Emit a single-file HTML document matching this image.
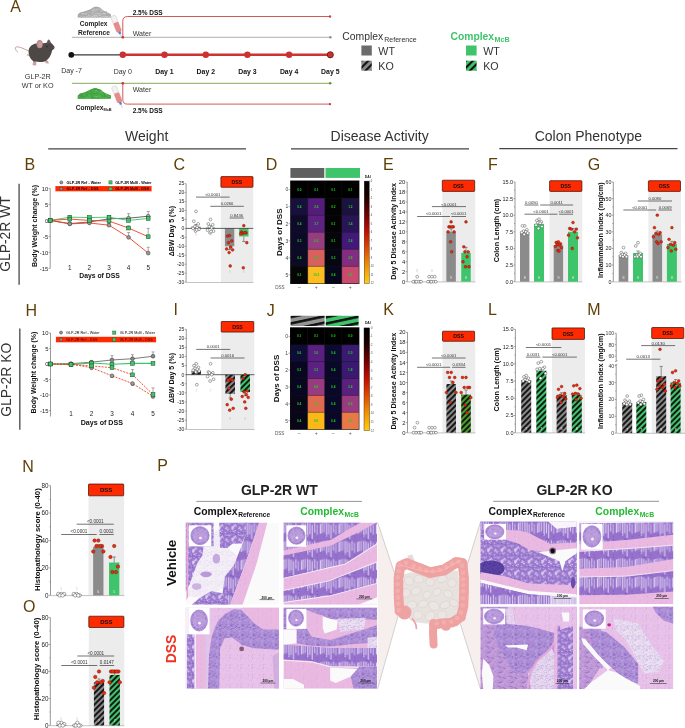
<!DOCTYPE html>
<html><head><meta charset="utf-8"><title>Figure</title>
<style>html,body{margin:0;padding:0;background:#fff;width:685px;height:728px;overflow:hidden;}svg text{font-family:"Liberation Sans", sans-serif;}</style></head>
<body>
<svg width="685" height="728" viewBox="0 0 685 728" style="display:block;will-change:transform;font-family:'Liberation Sans', sans-serif">

<defs>
<pattern id="hg" patternUnits="userSpaceOnUse" width="4.0" height="4.0" patternTransform="rotate(45)">
<rect width="4.0" height="4.0" fill="#8a8a8a"/><rect width="1.9" height="4.0" fill="#111"/></pattern>
<pattern id="hgr" patternUnits="userSpaceOnUse" width="4.0" height="4.0" patternTransform="rotate(45)">
<rect width="4.0" height="4.0" fill="#3ec46a"/><rect width="1.9" height="4.0" fill="#111"/></pattern>
<pattern id="hgo" patternUnits="userSpaceOnUse" width="4.0" height="4.0" patternTransform="rotate(45)">
<rect width="4.0" height="4.0" fill="#4a9e2a"/><rect width="1.9" height="4.0" fill="#111"/></pattern>
<pattern id="hgs" patternUnits="userSpaceOnUse" width="5" height="5" patternTransform="translate(361.4,45) rotate(45)">
<rect width="5" height="5" fill="#8a8a8a"/><rect width="2.1" height="5" fill="#111"/></pattern>
<pattern id="hgrs" patternUnits="userSpaceOnUse" width="5" height="5" patternTransform="translate(466,45) rotate(45)">
<rect width="5" height="5" fill="#3ec46a"/><rect width="2.1" height="5" fill="#111"/></pattern>
<pattern id="hgt" patternUnits="userSpaceOnUse" width="6.2" height="6.2" patternTransform="translate(290,316) rotate(78)">
<rect width="6.2" height="6.2" fill="#959595"/><rect width="2.5" height="6.2" fill="#111"/></pattern>
<pattern id="hgrt" patternUnits="userSpaceOnUse" width="6.2" height="6.2" patternTransform="translate(326,316) rotate(78)">
<rect width="6.2" height="6.2" fill="#3ec46a"/><rect width="2.5" height="6.2" fill="#111"/></pattern>
<linearGradient id="cbar" x1="0" y1="0" x2="0" y2="1">
<stop offset="0" stop-color="#000"/><stop offset="0.15" stop-color="#1a0000"/><stop offset="0.35" stop-color="#800000"/>
<stop offset="0.5" stop-color="#c41000"/><stop offset="0.65" stop-color="#e04800"/><stop offset="0.82" stop-color="#f09000"/>
<stop offset="1" stop-color="#ffcc10"/></linearGradient>
<pattern id="pc" patternUnits="userSpaceOnUse" width="14" height="14"><rect width="14" height="14" fill="#9a78cf"/><circle cx="4.53" cy="2.11" r="0.89" fill="#e0d0f2"/><circle cx="1.01" cy="7.50" r="0.76" fill="#e0d0f2"/><circle cx="0.81" cy="7.10" r="0.62" fill="#e0d0f2"/><circle cx="6.07" cy="0.98" r="0.64" fill="#e0d0f2"/><circle cx="5.94" cy="11.58" r="0.66" fill="#e0d0f2"/><circle cx="3.13" cy="8.78" r="1.03" fill="#e0d0f2"/><circle cx="8.08" cy="5.55" r="1.04" fill="#e0d0f2"/><circle cx="0.65" cy="12.02" r="0.73" fill="#e0d0f2"/><circle cx="14.65" cy="12.02" r="0.73" fill="#e0d0f2"/><circle cx="2.02" cy="1.65" r="0.74" fill="#e0d0f2"/><circle cx="11.43" cy="2.53" r="0.86" fill="#e0d0f2"/><circle cx="8.94" cy="5.21" r="0.85" fill="#e0d0f2"/><circle cx="0.88" cy="0.83" r="0.69" fill="#e0d0f2"/><circle cx="9.53" cy="5.99" r="0.74" fill="#e0d0f2"/><circle cx="8.20" cy="6.34" r="0.73" fill="#e0d0f2"/><circle cx="11.12" cy="9.79" r="0.71" fill="#e0d0f2"/><circle cx="8.04" cy="7.35" r="0.99" fill="#e0d0f2"/><circle cx="10.21" cy="4.03" r="1.04" fill="#e0d0f2"/><circle cx="1.65" cy="5.85" r="0.94" fill="#e0d0f2"/><circle cx="2.13" cy="6.85" r="0.62" fill="#e0d0f2"/><circle cx="9.36" cy="10.70" r="0.86" fill="#e0d0f2"/><circle cx="12.26" cy="4.39" r="0.91" fill="#e0d0f2"/><circle cx="8.32" cy="8.12" r="0.81" fill="#e0d0f2"/><circle cx="11.76" cy="13.23" r="0.44" fill="#6440aa"/><circle cx="9.30" cy="0.85" r="0.51" fill="#6440aa"/><circle cx="9.06" cy="13.90" r="0.55" fill="#6440aa"/><circle cx="9.06" cy="-0.10" r="0.55" fill="#6440aa"/><circle cx="3.98" cy="5.40" r="0.50" fill="#6440aa"/><circle cx="0.32" cy="6.46" r="0.35" fill="#6440aa"/><circle cx="14.32" cy="6.46" r="0.35" fill="#6440aa"/><circle cx="1.64" cy="0.83" r="0.53" fill="#6440aa"/><circle cx="1.81" cy="3.47" r="0.42" fill="#6440aa"/><circle cx="12.20" cy="1.13" r="0.43" fill="#6440aa"/><circle cx="7.69" cy="12.37" r="0.55" fill="#6440aa"/><circle cx="12.10" cy="3.90" r="0.42" fill="#6440aa"/><circle cx="5.02" cy="12.38" r="0.59" fill="#6440aa"/><circle cx="2.11" cy="2.47" r="0.37" fill="#6440aa"/><circle cx="3.27" cy="6.79" r="0.42" fill="#f2eaf9"/><circle cx="3.68" cy="0.06" r="0.38" fill="#f2eaf9"/><circle cx="3.68" cy="14.06" r="0.38" fill="#f2eaf9"/><circle cx="5.17" cy="7.93" r="0.49" fill="#f2eaf9"/><circle cx="9.67" cy="7.22" r="0.42" fill="#f2eaf9"/><circle cx="9.47" cy="0.76" r="0.48" fill="#f2eaf9"/><circle cx="10.92" cy="12.24" r="0.46" fill="#f2eaf9"/><circle cx="5.49" cy="5.59" r="0.32" fill="#f2eaf9"/><circle cx="8.88" cy="0.87" r="0.31" fill="#f2eaf9"/></pattern><pattern id="pcl" patternUnits="userSpaceOnUse" width="20" height="22"><rect width="20" height="22" fill="#9672cc"/><rect x="0.60" y="0.93" width="0.97" height="12.07" rx="0.4" fill="#e6daf4"/><rect x="2.86" y="0.30" width="0.85" height="12.00" rx="0.4" fill="#e6daf4"/><rect x="5.50" y="0.38" width="1.11" height="16.77" rx="0.4" fill="#e6daf4"/><rect x="7.88" y="1.06" width="0.98" height="13.29" rx="0.4" fill="#e6daf4"/><rect x="10.23" y="2.85" width="1.03" height="17.55" rx="0.4" fill="#e6daf4"/><rect x="13.01" y="0.56" width="0.97" height="11.67" rx="0.4" fill="#e6daf4"/><rect x="15.52" y="2.79" width="0.81" height="12.07" rx="0.4" fill="#e6daf4"/><rect x="18.86" y="1.88" width="1.07" height="11.97" rx="0.4" fill="#e6daf4"/><circle cx="10.56" cy="21.53" r="0.56" fill="#6440aa"/><circle cx="13.92" cy="5.74" r="0.41" fill="#6440aa"/><circle cx="3.34" cy="16.98" r="0.46" fill="#6440aa"/><circle cx="15.58" cy="7.25" r="0.37" fill="#6440aa"/><circle cx="16.23" cy="21.67" r="0.56" fill="#6440aa"/><circle cx="16.12" cy="18.00" r="0.52" fill="#6440aa"/><circle cx="4.53" cy="11.39" r="0.41" fill="#6440aa"/><circle cx="0.58" cy="0.61" r="0.38" fill="#6440aa"/><circle cx="5.18" cy="15.24" r="0.59" fill="#6440aa"/><circle cx="8.94" cy="20.61" r="0.60" fill="#6440aa"/></pattern><pattern id="pclh" patternUnits="userSpaceOnUse" width="20" height="16"><rect width="20" height="16" fill="#9672cc"/><rect x="0.60" y="2.31" width="0.91" height="9.75" rx="0.4" fill="#e6daf4"/><rect x="3.07" y="0.71" width="1.11" height="8.98" rx="0.4" fill="#e6daf4"/><rect x="6.35" y="2.06" width="1.13" height="10.30" rx="0.4" fill="#e6daf4"/><rect x="9.51" y="0.48" width="1.25" height="11.17" rx="0.4" fill="#e6daf4"/><rect x="12.65" y="1.88" width="0.89" height="10.29" rx="0.4" fill="#e6daf4"/><rect x="15.80" y="1.00" width="1.29" height="11.84" rx="0.4" fill="#e6daf4"/><rect x="18.47" y="1.14" width="1.16" height="12.54" rx="0.4" fill="#e6daf4"/><circle cx="2.54" cy="2.42" r="0.57" fill="#6440aa"/><circle cx="16.13" cy="2.34" r="0.55" fill="#6440aa"/><circle cx="19.61" cy="10.52" r="0.41" fill="#6440aa"/><circle cx="10.97" cy="2.10" r="0.30" fill="#6440aa"/><circle cx="19.42" cy="10.39" r="0.46" fill="#6440aa"/><circle cx="18.67" cy="6.94" r="0.56" fill="#6440aa"/><circle cx="16.52" cy="3.38" r="0.38" fill="#6440aa"/><circle cx="5.86" cy="3.85" r="0.48" fill="#6440aa"/><circle cx="5.19" cy="6.70" r="0.34" fill="#6440aa"/><circle cx="18.20" cy="5.66" r="0.44" fill="#6440aa"/></pattern><pattern id="pm" patternUnits="userSpaceOnUse" width="14" height="14"><rect width="14" height="14" fill="#eab9e2"/><circle cx="8.17" cy="12.66" r="0.28" fill="#a674c6"/><circle cx="12.85" cy="7.02" r="0.31" fill="#a674c6"/><circle cx="7.33" cy="0.26" r="0.29" fill="#a674c6"/><circle cx="7.33" cy="14.26" r="0.29" fill="#a674c6"/><circle cx="2.56" cy="0.06" r="0.36" fill="#a674c6"/><circle cx="2.56" cy="14.06" r="0.36" fill="#a674c6"/><circle cx="2.41" cy="6.63" r="0.35" fill="#a674c6"/><circle cx="7.79" cy="4.56" r="0.30" fill="#a674c6"/><circle cx="7.78" cy="10.98" r="0.22" fill="#a674c6"/><circle cx="7.84" cy="3.48" r="0.26" fill="#a674c6"/><circle cx="10.81" cy="7.11" r="0.47" fill="#efc6e8"/><circle cx="10.64" cy="12.77" r="0.43" fill="#efc6e8"/><circle cx="8.58" cy="7.08" r="0.45" fill="#efc6e8"/><circle cx="9.70" cy="6.33" r="0.46" fill="#efc6e8"/><circle cx="6.69" cy="13.18" r="0.51" fill="#efc6e8"/><circle cx="12.27" cy="13.19" r="0.38" fill="#efc6e8"/></pattern><pattern id="pi" patternUnits="userSpaceOnUse" width="12" height="12"><rect width="12" height="12" fill="#ae90d8"/><circle cx="6.71" cy="11.32" r="0.55" fill="#6a46ae"/><circle cx="1.65" cy="1.46" r="0.43" fill="#6a46ae"/><circle cx="0.87" cy="2.89" r="0.32" fill="#6a46ae"/><circle cx="8.03" cy="9.41" r="0.57" fill="#6a46ae"/><circle cx="1.85" cy="8.59" r="0.50" fill="#6a46ae"/><circle cx="1.72" cy="10.59" r="0.59" fill="#6a46ae"/><circle cx="2.64" cy="11.43" r="0.42" fill="#6a46ae"/><circle cx="5.85" cy="11.88" r="0.55" fill="#6a46ae"/><circle cx="5.85" cy="-0.12" r="0.55" fill="#6a46ae"/><circle cx="1.94" cy="5.18" r="0.45" fill="#6a46ae"/><circle cx="4.07" cy="2.35" r="0.40" fill="#6a46ae"/><circle cx="8.67" cy="0.23" r="0.47" fill="#6a46ae"/><circle cx="8.67" cy="12.23" r="0.47" fill="#6a46ae"/><circle cx="5.29" cy="0.22" r="0.40" fill="#6a46ae"/><circle cx="5.29" cy="12.22" r="0.40" fill="#6a46ae"/><circle cx="7.49" cy="6.15" r="0.32" fill="#6a46ae"/><circle cx="11.82" cy="9.46" r="0.59" fill="#6a46ae"/><circle cx="-0.18" cy="9.46" r="0.59" fill="#6a46ae"/><circle cx="1.26" cy="3.19" r="0.31" fill="#6a46ae"/><circle cx="9.35" cy="3.25" r="0.34" fill="#6a46ae"/><circle cx="5.07" cy="10.94" r="0.55" fill="#6a46ae"/><circle cx="3.10" cy="1.79" r="0.58" fill="#6a46ae"/><circle cx="6.85" cy="8.41" r="0.33" fill="#6a46ae"/><circle cx="0.69" cy="8.26" r="0.43" fill="#6a46ae"/><circle cx="0.87" cy="11.26" r="0.49" fill="#6a46ae"/><circle cx="9.62" cy="1.00" r="0.56" fill="#6a46ae"/><circle cx="0.80" cy="10.35" r="0.44" fill="#6a46ae"/><circle cx="4.07" cy="6.64" r="0.58" fill="#6a46ae"/><circle cx="3.21" cy="1.55" r="0.46" fill="#6a46ae"/><circle cx="2.86" cy="1.31" r="0.35" fill="#6a46ae"/><circle cx="0.60" cy="2.42" r="0.39" fill="#6a46ae"/><circle cx="3.66" cy="9.11" r="0.39" fill="#6a46ae"/><circle cx="6.00" cy="2.13" r="0.40" fill="#6a46ae"/><circle cx="0.22" cy="3.01" r="0.30" fill="#6a46ae"/><circle cx="12.22" cy="3.01" r="0.30" fill="#6a46ae"/><circle cx="8.80" cy="6.61" r="0.35" fill="#e4d6f2"/><circle cx="5.70" cy="11.22" r="0.33" fill="#e4d6f2"/><circle cx="9.83" cy="5.19" r="0.42" fill="#e4d6f2"/><circle cx="10.02" cy="4.72" r="0.43" fill="#e4d6f2"/><circle cx="8.25" cy="11.79" r="0.39" fill="#e4d6f2"/><circle cx="8.25" cy="-0.21" r="0.39" fill="#e4d6f2"/><circle cx="9.99" cy="8.48" r="0.46" fill="#e4d6f2"/><circle cx="4.86" cy="4.17" r="0.31" fill="#e4d6f2"/><circle cx="1.56" cy="0.85" r="0.49" fill="#e4d6f2"/><circle cx="3.07" cy="1.96" r="0.32" fill="#e4d6f2"/><circle cx="10.10" cy="10.45" r="0.47" fill="#e4d6f2"/><circle cx="3.38" cy="2.91" r="0.37" fill="#e4d6f2"/><circle cx="5.51" cy="1.89" r="0.41" fill="#e4d6f2"/><circle cx="3.16" cy="11.54" r="0.59" fill="#d8a0d8"/><circle cx="3.16" cy="-0.46" r="0.59" fill="#d8a0d8"/><circle cx="6.56" cy="2.93" r="0.59" fill="#d8a0d8"/><circle cx="3.71" cy="4.28" r="0.30" fill="#d8a0d8"/><circle cx="4.58" cy="5.70" r="0.45" fill="#d8a0d8"/><circle cx="2.41" cy="6.06" r="0.30" fill="#d8a0d8"/><circle cx="3.17" cy="1.08" r="0.42" fill="#d8a0d8"/><circle cx="0.50" cy="0.27" r="0.39" fill="#d8a0d8"/><circle cx="0.50" cy="12.27" r="0.39" fill="#d8a0d8"/><circle cx="2.79" cy="7.03" r="0.46" fill="#d8a0d8"/></pattern><pattern id="pim" patternUnits="userSpaceOnUse" width="12" height="12"><rect width="12" height="12" fill="#c09ad8"/><circle cx="9.01" cy="7.89" r="0.51" fill="#7a52b6"/><circle cx="10.55" cy="4.67" r="0.40" fill="#7a52b6"/><circle cx="11.82" cy="1.79" r="0.52" fill="#7a52b6"/><circle cx="-0.18" cy="1.79" r="0.52" fill="#7a52b6"/><circle cx="7.72" cy="0.53" r="0.55" fill="#7a52b6"/><circle cx="7.72" cy="12.53" r="0.55" fill="#7a52b6"/><circle cx="10.70" cy="7.53" r="0.52" fill="#7a52b6"/><circle cx="9.75" cy="1.67" r="0.46" fill="#7a52b6"/><circle cx="6.05" cy="10.02" r="0.54" fill="#7a52b6"/><circle cx="9.92" cy="7.01" r="0.57" fill="#7a52b6"/><circle cx="8.19" cy="8.32" r="0.37" fill="#7a52b6"/><circle cx="0.37" cy="1.60" r="0.41" fill="#7a52b6"/><circle cx="12.37" cy="1.60" r="0.41" fill="#7a52b6"/><circle cx="1.26" cy="10.03" r="0.47" fill="#7a52b6"/><circle cx="7.53" cy="7.51" r="0.50" fill="#7a52b6"/><circle cx="5.87" cy="0.04" r="0.54" fill="#7a52b6"/><circle cx="5.87" cy="12.04" r="0.54" fill="#7a52b6"/><circle cx="8.98" cy="6.04" r="0.46" fill="#7a52b6"/><circle cx="7.91" cy="0.79" r="0.52" fill="#7a52b6"/><circle cx="3.03" cy="0.89" r="0.38" fill="#7a52b6"/><circle cx="8.75" cy="2.46" r="0.52" fill="#7a52b6"/><circle cx="11.71" cy="5.93" r="0.41" fill="#7a52b6"/><circle cx="-0.29" cy="5.93" r="0.41" fill="#7a52b6"/><circle cx="5.75" cy="8.20" r="0.53" fill="#7a52b6"/><circle cx="7.40" cy="7.71" r="0.32" fill="#7a52b6"/><circle cx="1.77" cy="3.05" r="0.52" fill="#7a52b6"/><circle cx="3.65" cy="6.81" r="0.30" fill="#7a52b6"/><circle cx="0.73" cy="3.23" r="0.50" fill="#7a52b6"/><circle cx="8.31" cy="8.11" r="0.39" fill="#7a52b6"/><circle cx="6.20" cy="5.58" r="0.44" fill="#7a52b6"/><circle cx="1.42" cy="10.72" r="0.36" fill="#7a52b6"/><circle cx="11.74" cy="11.24" r="0.31" fill="#e0a8dc"/><circle cx="-0.26" cy="11.24" r="0.31" fill="#e0a8dc"/><circle cx="5.51" cy="9.84" r="0.59" fill="#e0a8dc"/><circle cx="5.39" cy="3.22" r="0.36" fill="#e0a8dc"/><circle cx="11.35" cy="2.53" r="0.47" fill="#e0a8dc"/><circle cx="1.70" cy="6.29" r="0.59" fill="#e0a8dc"/><circle cx="1.59" cy="9.84" r="0.45" fill="#e0a8dc"/><circle cx="10.64" cy="8.44" r="0.37" fill="#e0a8dc"/><circle cx="10.77" cy="5.83" r="0.31" fill="#e0a8dc"/><circle cx="0.04" cy="5.90" r="0.44" fill="#e0a8dc"/><circle cx="12.04" cy="5.90" r="0.44" fill="#e0a8dc"/><circle cx="3.62" cy="1.69" r="0.40" fill="#e0a8dc"/><circle cx="3.79" cy="10.08" r="0.30" fill="#eee0f4"/><circle cx="9.01" cy="10.07" r="0.32" fill="#eee0f4"/><circle cx="11.12" cy="8.56" r="0.48" fill="#eee0f4"/><circle cx="3.48" cy="4.47" r="0.38" fill="#eee0f4"/><circle cx="11.99" cy="7.07" r="0.37" fill="#eee0f4"/><circle cx="-0.01" cy="7.07" r="0.37" fill="#eee0f4"/><circle cx="5.14" cy="3.30" r="0.31" fill="#eee0f4"/></pattern><pattern id="pp" patternUnits="userSpaceOnUse" width="12" height="12"><rect width="12" height="12" fill="#e9c2e9"/><circle cx="1.22" cy="10.02" r="0.27" fill="#9e70c4"/><circle cx="11.23" cy="2.99" r="0.27" fill="#9e70c4"/><circle cx="6.13" cy="2.28" r="0.29" fill="#9e70c4"/><circle cx="11.47" cy="10.61" r="0.40" fill="#9e70c4"/><circle cx="7.57" cy="10.96" r="0.44" fill="#9e70c4"/><circle cx="6.59" cy="8.63" r="0.21" fill="#9e70c4"/><circle cx="8.79" cy="5.41" r="0.39" fill="#9e70c4"/><circle cx="7.73" cy="3.43" r="0.21" fill="#9e70c4"/><circle cx="11.12" cy="1.53" r="0.32" fill="#9e70c4"/><circle cx="4.12" cy="3.57" r="0.38" fill="#9e70c4"/><circle cx="11.72" cy="3.12" r="0.36" fill="#9e70c4"/><circle cx="-0.28" cy="3.12" r="0.36" fill="#9e70c4"/><circle cx="3.61" cy="6.69" r="0.30" fill="#9e70c4"/><circle cx="2.01" cy="1.94" r="0.25" fill="#9e70c4"/><circle cx="10.87" cy="5.96" r="0.26" fill="#9e70c4"/><circle cx="10.88" cy="11.96" r="0.31" fill="#9e70c4"/><circle cx="10.88" cy="-0.04" r="0.31" fill="#9e70c4"/><circle cx="1.68" cy="2.31" r="0.22" fill="#9e70c4"/><circle cx="4.10" cy="1.09" r="0.37" fill="#eed0ee"/><circle cx="3.10" cy="6.84" r="0.57" fill="#eed0ee"/><circle cx="9.00" cy="4.95" r="0.42" fill="#eed0ee"/><circle cx="6.29" cy="4.52" r="0.40" fill="#eed0ee"/><circle cx="0.74" cy="3.33" r="0.59" fill="#eed0ee"/><circle cx="1.51" cy="6.04" r="0.49" fill="#eed0ee"/><circle cx="10.35" cy="2.59" r="0.38" fill="#eed0ee"/><circle cx="2.98" cy="4.80" r="0.43" fill="#eed0ee"/></pattern><pattern id="pl" patternUnits="userSpaceOnUse" width="12" height="12"><rect width="12" height="12" fill="#ebdff2"/><circle cx="11.45" cy="10.18" r="0.47" fill="#9c7ccc"/><circle cx="0.26" cy="0.39" r="0.43" fill="#9c7ccc"/><circle cx="0.26" cy="12.39" r="0.43" fill="#9c7ccc"/><circle cx="12.26" cy="0.39" r="0.43" fill="#9c7ccc"/><circle cx="12.26" cy="12.39" r="0.43" fill="#9c7ccc"/><circle cx="10.75" cy="5.68" r="0.40" fill="#9c7ccc"/><circle cx="0.00" cy="4.70" r="0.48" fill="#9c7ccc"/><circle cx="12.00" cy="4.70" r="0.48" fill="#9c7ccc"/><circle cx="9.91" cy="10.27" r="0.49" fill="#9c7ccc"/><circle cx="2.98" cy="1.31" r="0.29" fill="#9c7ccc"/><circle cx="6.27" cy="8.18" r="0.49" fill="#9c7ccc"/><circle cx="8.66" cy="7.77" r="0.44" fill="#9c7ccc"/><circle cx="5.49" cy="6.62" r="0.26" fill="#9c7ccc"/><circle cx="9.39" cy="2.79" r="0.48" fill="#9c7ccc"/><circle cx="7.75" cy="3.65" r="0.28" fill="#9c7ccc"/><circle cx="3.02" cy="7.64" r="0.42" fill="#9c7ccc"/><circle cx="1.35" cy="0.84" r="0.38" fill="#9c7ccc"/><circle cx="6.99" cy="4.66" r="0.31" fill="#9c7ccc"/><circle cx="7.21" cy="0.13" r="0.33" fill="#9c7ccc"/><circle cx="7.21" cy="12.13" r="0.33" fill="#9c7ccc"/><circle cx="5.53" cy="11.51" r="0.41" fill="#9c7ccc"/><circle cx="10.61" cy="5.70" r="0.31" fill="#9c7ccc"/><circle cx="2.96" cy="11.53" r="0.43" fill="#9c7ccc"/><circle cx="3.69" cy="0.26" r="0.37" fill="#9c7ccc"/><circle cx="3.69" cy="12.26" r="0.37" fill="#9c7ccc"/><circle cx="8.09" cy="5.04" r="0.31" fill="#9c7ccc"/><circle cx="8.01" cy="11.10" r="0.31" fill="#9c7ccc"/><circle cx="0.41" cy="4.06" r="0.36" fill="#9c7ccc"/><circle cx="8.19" cy="2.38" r="0.45" fill="#9c7ccc"/><circle cx="8.87" cy="6.06" r="0.30" fill="#9c7ccc"/><circle cx="11.64" cy="3.74" r="0.46" fill="#9c7ccc"/><circle cx="-0.36" cy="3.74" r="0.46" fill="#9c7ccc"/><circle cx="2.77" cy="2.66" r="0.44" fill="#9c7ccc"/><circle cx="3.54" cy="11.42" r="0.37" fill="#9c7ccc"/><circle cx="2.25" cy="2.68" r="0.35" fill="#9c7ccc"/><circle cx="7.98" cy="11.39" r="0.29" fill="#9c7ccc"/><circle cx="4.72" cy="2.56" r="0.49" fill="#9c7ccc"/><circle cx="1.70" cy="0.62" r="0.32" fill="#c8b0e2"/><circle cx="4.72" cy="10.78" r="0.57" fill="#c8b0e2"/><circle cx="8.79" cy="11.97" r="0.58" fill="#c8b0e2"/><circle cx="8.79" cy="-0.03" r="0.58" fill="#c8b0e2"/><circle cx="3.95" cy="2.23" r="0.58" fill="#c8b0e2"/><circle cx="8.96" cy="0.38" r="0.50" fill="#c8b0e2"/><circle cx="8.96" cy="12.38" r="0.50" fill="#c8b0e2"/><circle cx="4.54" cy="4.49" r="0.40" fill="#c8b0e2"/><circle cx="2.03" cy="0.03" r="0.38" fill="#c8b0e2"/><circle cx="2.03" cy="12.03" r="0.38" fill="#c8b0e2"/><circle cx="4.22" cy="11.47" r="0.34" fill="#c8b0e2"/><circle cx="11.57" cy="2.49" r="0.41" fill="#c8b0e2"/><circle cx="9.86" cy="9.86" r="0.43" fill="#c8b0e2"/></pattern><pattern id="pd" patternUnits="userSpaceOnUse" width="10" height="10"><rect width="10" height="10" fill="#5a42a4"/><circle cx="0.49" cy="4.73" r="0.41" fill="#36207e"/><circle cx="9.20" cy="1.93" r="0.41" fill="#36207e"/><circle cx="8.97" cy="0.30" r="0.42" fill="#36207e"/><circle cx="8.97" cy="10.30" r="0.42" fill="#36207e"/><circle cx="8.12" cy="7.67" r="0.31" fill="#36207e"/><circle cx="0.35" cy="0.63" r="0.58" fill="#36207e"/><circle cx="10.35" cy="0.63" r="0.58" fill="#36207e"/><circle cx="2.57" cy="7.47" r="0.57" fill="#36207e"/><circle cx="3.39" cy="2.72" r="0.59" fill="#36207e"/><circle cx="6.17" cy="2.62" r="0.51" fill="#36207e"/><circle cx="3.16" cy="2.76" r="0.30" fill="#36207e"/><circle cx="7.56" cy="9.16" r="0.49" fill="#36207e"/><circle cx="9.43" cy="0.24" r="0.37" fill="#36207e"/><circle cx="9.43" cy="10.24" r="0.37" fill="#36207e"/><circle cx="4.75" cy="9.57" r="0.59" fill="#36207e"/><circle cx="4.75" cy="-0.43" r="0.59" fill="#36207e"/><circle cx="3.87" cy="2.51" r="0.43" fill="#36207e"/><circle cx="4.93" cy="9.28" r="0.35" fill="#36207e"/><circle cx="8.03" cy="7.38" r="0.55" fill="#36207e"/><circle cx="7.73" cy="6.07" r="0.40" fill="#36207e"/><circle cx="3.20" cy="3.62" r="0.53" fill="#36207e"/><circle cx="0.79" cy="1.97" r="0.53" fill="#36207e"/><circle cx="2.47" cy="0.65" r="0.31" fill="#36207e"/><circle cx="5.53" cy="3.26" r="0.59" fill="#36207e"/><circle cx="8.83" cy="9.88" r="0.35" fill="#7a60bc"/><circle cx="8.83" cy="-0.12" r="0.35" fill="#7a60bc"/><circle cx="0.84" cy="0.96" r="0.40" fill="#7a60bc"/><circle cx="7.10" cy="4.47" r="0.35" fill="#7a60bc"/><circle cx="4.17" cy="6.20" r="0.43" fill="#7a60bc"/><circle cx="7.48" cy="8.47" r="0.43" fill="#7a60bc"/><circle cx="1.21" cy="8.41" r="0.36" fill="#7a60bc"/><circle cx="5.67" cy="3.73" r="0.45" fill="#7a60bc"/><circle cx="1.99" cy="2.47" r="0.35" fill="#7a60bc"/></pattern></defs>
<rect width="685" height="728" fill="#fff"/>
<text x="10.20" y="12.30" font-size="16" fill="#5e3f06" text-anchor="start" >A</text>
<g>
<path d="M29.2,51.2 C25,49.5 19,46 16,47 C14.8,47.6 15.2,50.2 17.6,51.9" fill="none" stroke="#c49a96" stroke-width="0.95" stroke-linecap="round"/>
<path d="M27.2,54.2 L26.6,55.6 L29.2,55.8 L29.6,54.4 Z" fill="#c9a09c"/>
<path d="M33.2,61 L32.6,65.2 L36.2,65.5 L36.4,61.5 Z" fill="#c9a09c"/>
<path d="M45.2,60.6 L45.6,63.2 L49,63.6 L47.6,60.4 Z" fill="#c9a09c"/>
<path d="M28.6,52.5 C28.4,47.2 31.5,44.2 36.5,43.6 C40,43.2 43,43.6 45.5,43 C47.5,41.8 50,41.8 51.8,43.6 C53,44.8 54.3,46.2 54.7,47.4 C54.6,48.6 53.2,49.4 52.2,50.2 C51.5,53.5 50,57.2 47.5,59.6 C46.5,60.6 45.8,61.4 44.8,61.4 C41.5,62.2 38,62.2 35.6,61.6 C34.5,61.8 33.5,61.6 33,61 C30.2,59 28.8,56 28.6,52.5 Z" fill="#4d4846"/>
<path d="M46.8,44 C47,41.5 47.8,39.4 48.6,39.4 C49.6,39.8 50.6,41.4 51,43.2 Z" fill="#5d5654"/>
<ellipse cx="39.7" cy="44.2" rx="3.1" ry="4.1" fill="#b88a88"/>
<ellipse cx="40.0" cy="44.6" rx="1.9" ry="2.8" fill="#c99d9a"/>
<circle cx="46.9" cy="46.6" r="0.65" fill="#111"/>
<circle cx="54.4" cy="47.6" r="0.7" fill="#c99090"/>
</g>
<text x="37.80" y="78.50" font-size="7.2" fill="#333" text-anchor="middle" >GLP-2R</text>
<text x="37.60" y="87.60" font-size="7.2" fill="#333" text-anchor="middle" >WT or KO</text>
<line x1="71.90" y1="37.30" x2="330.40" y2="37.30" stroke="#9a9a9a" stroke-width="0.8" />
<circle cx="330.40" cy="37.30" r="1.2" fill="#8a8a8a" stroke="none" stroke-width="0.5" />
<path d="M122.8,37.3 L122.8,21.2 Q122.8,16.5 127.5,16.5 L330,16.5" fill="none" stroke="#d04545" stroke-width="0.9"/>
<circle cx="330.00" cy="16.50" r="1.2" fill="#d03a3a" stroke="none" stroke-width="0.5" />
<circle cx="122.80" cy="37.30" r="1.4" fill="#d03a3a" stroke="none" stroke-width="0.5" />
<line x1="71.90" y1="83.30" x2="330.20" y2="83.30" stroke="#6e9a3e" stroke-width="0.85" />
<circle cx="330.20" cy="83.30" r="1.2" fill="#5e8a2e" stroke="none" stroke-width="0.5" />
<path d="M122.8,83.3 L122.8,99.5 Q122.8,104.1 127.4,104.1 L330,104.1" fill="none" stroke="#d04545" stroke-width="0.9"/>
<circle cx="330.00" cy="104.10" r="1.2" fill="#d03a3a" stroke="none" stroke-width="0.5" />
<circle cx="122.80" cy="83.30" r="1.4" fill="#d03a3a" stroke="none" stroke-width="0.5" />
<line x1="71.30" y1="54.80" x2="122.80" y2="54.80" stroke="#3a3a3a" stroke-width="1.3" />
<line x1="122.80" y1="54.80" x2="330.30" y2="54.80" stroke="#cc3333" stroke-width="2.6" />
<circle cx="71.30" cy="54.80" r="2.9" fill="#111" stroke="none" stroke-width="0.5" />
<circle cx="122.80" cy="54.80" r="3.2" fill="#cc3030" stroke="none" stroke-width="0.5" />
<circle cx="164.50" cy="54.80" r="3.2" fill="#cc3030" stroke="none" stroke-width="0.5" />
<circle cx="205.80" cy="54.80" r="3.2" fill="#cc3030" stroke="none" stroke-width="0.5" />
<circle cx="247.40" cy="54.80" r="3.2" fill="#cc3030" stroke="none" stroke-width="0.5" />
<circle cx="289.10" cy="54.80" r="3.2" fill="#cc3030" stroke="none" stroke-width="0.5" />
<circle cx="330.30" cy="54.80" r="3.1" fill="#cc3030" stroke="#5a1010" stroke-width="0.8" />
<text x="71.50" y="72.60" font-size="7.0" fill="#333" text-anchor="middle" >Day -7</text>
<text x="122.80" y="73.60" font-size="7.0" fill="#333" text-anchor="middle" >Day 0</text>
<text x="164.50" y="73.60" font-size="6.9" fill="#111" font-weight="bold" text-anchor="middle" >Day 1</text>
<text x="205.80" y="73.60" font-size="6.9" fill="#111" font-weight="bold" text-anchor="middle" >Day 2</text>
<text x="247.40" y="73.60" font-size="6.9" fill="#111" font-weight="bold" text-anchor="middle" >Day 3</text>
<text x="289.10" y="73.60" font-size="6.9" fill="#111" font-weight="bold" text-anchor="middle" >Day 4</text>
<text x="330.30" y="73.60" font-size="6.9" fill="#111" font-weight="bold" text-anchor="middle" >Day 5</text>
<text x="132.70" y="14.90" font-size="6.5" fill="#111" font-weight="bold" text-anchor="start" >2.5% DSS</text>
<text x="132.70" y="36.40" font-size="7.1" fill="#333" text-anchor="start" >Water</text>
<text x="132.70" y="91.50" font-size="7.1" fill="#333" text-anchor="start" >Water</text>
<text x="132.70" y="113.00" font-size="6.5" fill="#111" font-weight="bold" text-anchor="start" >2.5% DSS</text>
<polygon points="77.6,17.5 77.8,14.5 80.0,12.6 84.0,11.6 87.0,10.4 90.0,9.6 93.5,7.2 96.0,6.6 100.0,7.6 102.0,9.6 105.0,11.6 108.0,13.2 110.9,14.2 110.9,17.5" fill="#a8a8a8"/><rect x="79.7" y="16.0" width="3.0" height="1.5" rx="0.35" fill="#bdbdbd" stroke="#a8a8a8" stroke-width="0.25"/><rect x="82.9" y="16.0" width="3.0" height="1.3" rx="0.35" fill="#bdbdbd" stroke="#a8a8a8" stroke-width="0.25"/><rect x="85.9" y="16.0" width="2.4" height="1.4" rx="0.35" fill="#c8c8c8" stroke="#a8a8a8" stroke-width="0.25"/><rect x="88.0" y="16.0" width="2.4" height="1.3" rx="0.35" fill="#c8c8c8" stroke="#a8a8a8" stroke-width="0.25"/><rect x="91.0" y="16.0" width="2.5" height="1.5" rx="0.35" fill="#d0d0d0" stroke="#a8a8a8" stroke-width="0.25"/><rect x="93.5" y="16.0" width="3.0" height="1.3" rx="0.35" fill="#d0d0d0" stroke="#a8a8a8" stroke-width="0.25"/><rect x="96.3" y="16.0" width="2.3" height="1.5" rx="0.35" fill="#c8c8c8" stroke="#a8a8a8" stroke-width="0.25"/><rect x="100.2" y="16.0" width="3.2" height="1.3" rx="0.35" fill="#c8c8c8" stroke="#a8a8a8" stroke-width="0.25"/><rect x="102.4" y="16.0" width="3.2" height="1.4" rx="0.35" fill="#c8c8c8" stroke="#a8a8a8" stroke-width="0.25"/><rect x="105.1" y="16.0" width="3.2" height="1.3" rx="0.35" fill="#d0d0d0" stroke="#a8a8a8" stroke-width="0.25"/><rect x="108.2" y="16.0" width="2.6" height="1.3" rx="0.35" fill="#c8c8c8" stroke="#a8a8a8" stroke-width="0.25"/><rect x="78.6" y="14.5" width="2.8" height="1.4" rx="0.35" fill="#b2b2b2" stroke="#a8a8a8" stroke-width="0.25"/><rect x="80.3" y="14.5" width="2.6" height="1.3" rx="0.35" fill="#b2b2b2" stroke="#a8a8a8" stroke-width="0.25"/><rect x="83.4" y="14.5" width="2.7" height="1.3" rx="0.35" fill="#b2b2b2" stroke="#a8a8a8" stroke-width="0.25"/><rect x="87.6" y="14.5" width="2.3" height="1.5" rx="0.35" fill="#d0d0d0" stroke="#a8a8a8" stroke-width="0.25"/><rect x="88.9" y="14.5" width="3.0" height="1.3" rx="0.35" fill="#bdbdbd" stroke="#a8a8a8" stroke-width="0.25"/><rect x="92.5" y="14.5" width="2.9" height="1.4" rx="0.35" fill="#c8c8c8" stroke="#a8a8a8" stroke-width="0.25"/><rect x="94.9" y="14.5" width="2.5" height="1.5" rx="0.35" fill="#d0d0d0" stroke="#a8a8a8" stroke-width="0.25"/><rect x="98.2" y="14.5" width="2.6" height="1.4" rx="0.35" fill="#d0d0d0" stroke="#a8a8a8" stroke-width="0.25"/><rect x="100.7" y="14.5" width="3.0" height="1.5" rx="0.35" fill="#b2b2b2" stroke="#a8a8a8" stroke-width="0.25"/><rect x="103.5" y="14.5" width="3.2" height="1.2" rx="0.35" fill="#b2b2b2" stroke="#a8a8a8" stroke-width="0.25"/><rect x="107.1" y="14.5" width="2.6" height="1.3" rx="0.35" fill="#b2b2b2" stroke="#a8a8a8" stroke-width="0.25"/><rect x="81.7" y="13.0" width="2.4" height="1.5" rx="0.35" fill="#d0d0d0" stroke="#a8a8a8" stroke-width="0.25"/><rect x="84.8" y="13.0" width="2.3" height="1.6" rx="0.35" fill="#d0d0d0" stroke="#a8a8a8" stroke-width="0.25"/><rect x="87.5" y="13.0" width="3.0" height="1.3" rx="0.35" fill="#b2b2b2" stroke="#a8a8a8" stroke-width="0.25"/><rect x="91.0" y="13.0" width="2.7" height="1.2" rx="0.35" fill="#bdbdbd" stroke="#a8a8a8" stroke-width="0.25"/><rect x="94.5" y="13.0" width="2.6" height="1.3" rx="0.35" fill="#c8c8c8" stroke="#a8a8a8" stroke-width="0.25"/><rect x="97.1" y="13.0" width="3.0" height="1.2" rx="0.35" fill="#d0d0d0" stroke="#a8a8a8" stroke-width="0.25"/><rect x="99.6" y="13.0" width="2.4" height="1.4" rx="0.35" fill="#c8c8c8" stroke="#a8a8a8" stroke-width="0.25"/><rect x="102.6" y="13.0" width="3.2" height="1.5" rx="0.35" fill="#d0d0d0" stroke="#a8a8a8" stroke-width="0.25"/><rect x="106.3" y="13.0" width="2.9" height="1.3" rx="0.35" fill="#b2b2b2" stroke="#a8a8a8" stroke-width="0.25"/><rect x="87.0" y="11.5" width="2.7" height="1.3" rx="0.35" fill="#bdbdbd" stroke="#a8a8a8" stroke-width="0.25"/><rect x="89.7" y="11.5" width="2.8" height="1.4" rx="0.35" fill="#b2b2b2" stroke="#a8a8a8" stroke-width="0.25"/><rect x="91.9" y="11.5" width="3.0" height="1.3" rx="0.35" fill="#bdbdbd" stroke="#a8a8a8" stroke-width="0.25"/><rect x="95.9" y="11.5" width="2.6" height="1.5" rx="0.35" fill="#b2b2b2" stroke="#a8a8a8" stroke-width="0.25"/><rect x="98.9" y="11.5" width="2.5" height="1.6" rx="0.35" fill="#b2b2b2" stroke="#a8a8a8" stroke-width="0.25"/><rect x="102.0" y="11.5" width="2.6" height="1.3" rx="0.35" fill="#bdbdbd" stroke="#a8a8a8" stroke-width="0.25"/><rect x="104.2" y="11.5" width="3.0" height="1.3" rx="0.35" fill="#b2b2b2" stroke="#a8a8a8" stroke-width="0.25"/><rect x="91.6" y="10.0" width="2.6" height="1.5" rx="0.35" fill="#d0d0d0" stroke="#a8a8a8" stroke-width="0.25"/><rect x="94.8" y="10.0" width="3.2" height="1.4" rx="0.35" fill="#c8c8c8" stroke="#a8a8a8" stroke-width="0.25"/><rect x="96.4" y="10.0" width="2.6" height="1.5" rx="0.35" fill="#b2b2b2" stroke="#a8a8a8" stroke-width="0.25"/><rect x="100.1" y="10.0" width="2.9" height="1.5" rx="0.35" fill="#c8c8c8" stroke="#a8a8a8" stroke-width="0.25"/><rect x="92.7" y="8.5" width="2.9" height="1.3" rx="0.35" fill="#c8c8c8" stroke="#a8a8a8" stroke-width="0.25"/><rect x="95.7" y="8.5" width="2.3" height="1.4" rx="0.35" fill="#c8c8c8" stroke="#a8a8a8" stroke-width="0.25"/><rect x="97.9" y="8.5" width="3.1" height="1.2" rx="0.35" fill="#c8c8c8" stroke="#a8a8a8" stroke-width="0.25"/>
<polygon points="77.6,98.8 77.8,95.5 80.0,93.6 84.0,92.4 87.0,91.2 90.0,89.8 93.5,88.2 96.0,88.0 100.0,89.4 102.0,91.0 105.0,93.0 108.0,94.2 110.9,95.2 110.9,98.8" fill="#3f9f3f"/><rect x="79.0" y="97.3" width="2.4" height="1.2" rx="0.35" fill="#52b452" stroke="#3f9f3f" stroke-width="0.25"/><rect x="82.2" y="97.3" width="2.6" height="1.6" rx="0.35" fill="#5cbc5c" stroke="#3f9f3f" stroke-width="0.25"/><rect x="85.0" y="97.3" width="3.1" height="1.4" rx="0.35" fill="#6cc46c" stroke="#3f9f3f" stroke-width="0.25"/><rect x="88.1" y="97.3" width="2.5" height="1.3" rx="0.35" fill="#6cc46c" stroke="#3f9f3f" stroke-width="0.25"/><rect x="90.9" y="97.3" width="3.1" height="1.3" rx="0.35" fill="#48a848" stroke="#3f9f3f" stroke-width="0.25"/><rect x="94.4" y="97.3" width="2.6" height="1.3" rx="0.35" fill="#52b452" stroke="#3f9f3f" stroke-width="0.25"/><rect x="96.6" y="97.3" width="3.2" height="1.4" rx="0.35" fill="#48a848" stroke="#3f9f3f" stroke-width="0.25"/><rect x="99.2" y="97.3" width="2.3" height="1.5" rx="0.35" fill="#6cc46c" stroke="#3f9f3f" stroke-width="0.25"/><rect x="102.3" y="97.3" width="2.3" height="1.3" rx="0.35" fill="#6cc46c" stroke="#3f9f3f" stroke-width="0.25"/><rect x="104.8" y="97.3" width="2.8" height="1.3" rx="0.35" fill="#6cc46c" stroke="#3f9f3f" stroke-width="0.25"/><rect x="78.1" y="95.8" width="2.9" height="1.4" rx="0.35" fill="#52b452" stroke="#3f9f3f" stroke-width="0.25"/><rect x="80.2" y="95.8" width="2.4" height="1.3" rx="0.35" fill="#48a848" stroke="#3f9f3f" stroke-width="0.25"/><rect x="84.1" y="95.8" width="3.0" height="1.2" rx="0.35" fill="#48a848" stroke="#3f9f3f" stroke-width="0.25"/><rect x="86.6" y="95.8" width="3.0" height="1.4" rx="0.35" fill="#52b452" stroke="#3f9f3f" stroke-width="0.25"/><rect x="88.9" y="95.8" width="2.8" height="1.5" rx="0.35" fill="#52b452" stroke="#3f9f3f" stroke-width="0.25"/><rect x="93.2" y="95.8" width="2.8" height="1.2" rx="0.35" fill="#6cc46c" stroke="#3f9f3f" stroke-width="0.25"/><rect x="95.7" y="95.8" width="2.9" height="1.6" rx="0.35" fill="#6cc46c" stroke="#3f9f3f" stroke-width="0.25"/><rect x="99.0" y="95.8" width="3.1" height="1.4" rx="0.35" fill="#5cbc5c" stroke="#3f9f3f" stroke-width="0.25"/><rect x="101.9" y="95.8" width="2.7" height="1.5" rx="0.35" fill="#48a848" stroke="#3f9f3f" stroke-width="0.25"/><rect x="104.7" y="95.8" width="2.9" height="1.4" rx="0.35" fill="#48a848" stroke="#3f9f3f" stroke-width="0.25"/><rect x="107.3" y="95.8" width="2.7" height="1.3" rx="0.35" fill="#5cbc5c" stroke="#3f9f3f" stroke-width="0.25"/><rect x="82.5" y="94.3" width="3.0" height="1.2" rx="0.35" fill="#5cbc5c" stroke="#3f9f3f" stroke-width="0.25"/><rect x="84.9" y="94.3" width="2.4" height="1.2" rx="0.35" fill="#52b452" stroke="#3f9f3f" stroke-width="0.25"/><rect x="87.9" y="94.3" width="2.7" height="1.2" rx="0.35" fill="#6cc46c" stroke="#3f9f3f" stroke-width="0.25"/><rect x="91.4" y="94.3" width="2.3" height="1.5" rx="0.35" fill="#5cbc5c" stroke="#3f9f3f" stroke-width="0.25"/><rect x="94.2" y="94.3" width="3.0" height="1.2" rx="0.35" fill="#5cbc5c" stroke="#3f9f3f" stroke-width="0.25"/><rect x="97.7" y="94.3" width="2.9" height="1.4" rx="0.35" fill="#5cbc5c" stroke="#3f9f3f" stroke-width="0.25"/><rect x="100.0" y="94.3" width="2.7" height="1.3" rx="0.35" fill="#5cbc5c" stroke="#3f9f3f" stroke-width="0.25"/><rect x="102.0" y="94.3" width="2.4" height="1.4" rx="0.35" fill="#52b452" stroke="#3f9f3f" stroke-width="0.25"/><rect x="105.2" y="94.3" width="2.8" height="1.2" rx="0.35" fill="#6cc46c" stroke="#3f9f3f" stroke-width="0.25"/><rect x="83.9" y="92.8" width="3.1" height="1.3" rx="0.35" fill="#52b452" stroke="#3f9f3f" stroke-width="0.25"/><rect x="86.2" y="92.8" width="2.6" height="1.4" rx="0.35" fill="#48a848" stroke="#3f9f3f" stroke-width="0.25"/><rect x="90.4" y="92.8" width="2.8" height="1.4" rx="0.35" fill="#48a848" stroke="#3f9f3f" stroke-width="0.25"/><rect x="91.9" y="92.8" width="2.5" height="1.5" rx="0.35" fill="#48a848" stroke="#3f9f3f" stroke-width="0.25"/><rect x="95.5" y="92.8" width="2.4" height="1.3" rx="0.35" fill="#48a848" stroke="#3f9f3f" stroke-width="0.25"/><rect x="98.3" y="92.8" width="2.7" height="1.3" rx="0.35" fill="#52b452" stroke="#3f9f3f" stroke-width="0.25"/><rect x="101.5" y="92.8" width="2.4" height="1.5" rx="0.35" fill="#52b452" stroke="#3f9f3f" stroke-width="0.25"/><rect x="88.2" y="91.3" width="2.8" height="1.4" rx="0.35" fill="#5cbc5c" stroke="#3f9f3f" stroke-width="0.25"/><rect x="91.8" y="91.3" width="2.7" height="1.5" rx="0.35" fill="#52b452" stroke="#3f9f3f" stroke-width="0.25"/><rect x="93.3" y="91.3" width="3.1" height="1.4" rx="0.35" fill="#5cbc5c" stroke="#3f9f3f" stroke-width="0.25"/><rect x="96.3" y="91.3" width="2.9" height="1.3" rx="0.35" fill="#5cbc5c" stroke="#3f9f3f" stroke-width="0.25"/><rect x="99.5" y="91.3" width="3.1" height="1.5" rx="0.35" fill="#6cc46c" stroke="#3f9f3f" stroke-width="0.25"/><rect x="92.1" y="89.8" width="2.4" height="1.2" rx="0.35" fill="#5cbc5c" stroke="#3f9f3f" stroke-width="0.25"/><rect x="95.0" y="89.8" width="2.3" height="1.6" rx="0.35" fill="#6cc46c" stroke="#3f9f3f" stroke-width="0.25"/><rect x="98.7" y="89.8" width="2.6" height="1.4" rx="0.35" fill="#48a848" stroke="#3f9f3f" stroke-width="0.25"/>
<text x="93.60" y="26.20" font-size="6.55" fill="#222" font-weight="bold" text-anchor="middle" >Complex</text>
<text x="94.00" y="35.00" font-size="6.6" fill="#222" font-weight="bold" text-anchor="middle" >Reference</text>
<text x="75.80" y="109.70" font-size="6.55" fill="#222" font-weight="bold" text-anchor="start" >Complex</text>
<text x="103.40" y="110.60" font-size="3.9" fill="#222" font-weight="bold" text-anchor="start" >McB</text>
<g transform="translate(116.5,24.8) rotate(-22)">
<rect x="-2.6" y="-9.6" width="5.2" height="17" rx="1.4" fill="#f2f2f2" stroke="#bdbdbd" stroke-width="0.4"/>
<rect x="-2.6" y="-2.5" width="5.2" height="10" rx="1.2" fill="#e88a8a"/>
<rect x="-1.2" y="7.3" width="2.4" height="2.6" fill="#5a7fd0"/>
<line x1="0" y1="9.9" x2="0" y2="13.5" stroke="#999" stroke-width="0.4"/>
</g>
<g transform="translate(117.3,95.4) rotate(-22)">
<rect x="-2.6" y="-9.6" width="5.2" height="17" rx="1.4" fill="#f2f2f2" stroke="#bdbdbd" stroke-width="0.4"/>
<rect x="-2.6" y="-2.5" width="5.2" height="10" rx="1.2" fill="#e88a8a"/>
<rect x="-1.2" y="7.3" width="2.4" height="2.6" fill="#5a7fd0"/>
<line x1="0" y1="9.9" x2="0" y2="13.5" stroke="#999" stroke-width="0.4"/>
</g>
<text x="342.30" y="39.60" font-size="10.4" fill="#333" text-anchor="start" >Complex</text>
<text x="384.30" y="41.60" font-size="7.0" fill="#333" text-anchor="start" >Reference</text>
<rect x="361.40" y="45.50" width="10.40" height="10.00" fill="#6b6b6b" />
<text x="378.30" y="55.20" font-size="10.7" fill="#333" text-anchor="start" >WT</text>
<rect x="361.40" y="60.70" width="10.40" height="10.00" fill="url(#hgs)" />
<text x="378.30" y="70.40" font-size="10.7" fill="#333" text-anchor="start" >KO</text>
<text x="450.50" y="39.60" font-size="10.3" fill="#3ec46a" font-weight="bold" text-anchor="start" >Complex</text>
<text x="494.60" y="41.60" font-size="7.2" fill="#3ec46a" font-weight="bold" text-anchor="start" >McB</text>
<rect x="466.00" y="45.50" width="10.60" height="10.00" fill="#3ec46a" />
<text x="483.20" y="55.20" font-size="10.7" fill="#333" text-anchor="start" >WT</text>
<rect x="466.00" y="60.70" width="10.60" height="10.00" fill="url(#hgrs)" />
<text x="483.20" y="70.40" font-size="10.7" fill="#333" text-anchor="start" >KO</text>
<text x="125.00" y="141.20" font-size="14" fill="#333" text-anchor="start" >Weight</text>
<line x1="48.20" y1="148.80" x2="246.00" y2="148.80" stroke="#444" stroke-width="1.2" />
<text x="330.60" y="140.80" font-size="14" fill="#333" text-anchor="start" >Disease Activity</text>
<line x1="291.00" y1="148.90" x2="469.00" y2="148.90" stroke="#444" stroke-width="1.2" />
<text x="534.70" y="140.80" font-size="14" fill="#333" text-anchor="start" >Colon Phenotype</text>
<line x1="499.30" y1="148.70" x2="677.50" y2="148.70" stroke="#444" stroke-width="1.2" />
<text transform="translate(5.10,234.00) rotate(-90)" x="0" y="0" font-size="13.9" fill="#333" text-anchor="middle" dominant-baseline="central">GLP-2R WT</text>
<line x1="19.10" y1="183.70" x2="19.10" y2="284.70" stroke="#555" stroke-width="1.4" />
<text transform="translate(5.60,379.80) rotate(-90)" x="0" y="0" font-size="13.9" fill="#333" text-anchor="middle" dominant-baseline="central">GLP-2R KO</text>
<line x1="19.80" y1="328.50" x2="19.80" y2="429.80" stroke="#555" stroke-width="1.4" />
<text x="24.60" y="170.20" font-size="16" fill="#5e3f06" text-anchor="start" >B</text>
<text x="173.50" y="170.20" font-size="16" fill="#5e3f06" text-anchor="start" >C</text>
<text x="265.80" y="170.20" font-size="16" fill="#5e3f06" text-anchor="start" >D</text>
<text x="383.00" y="170.20" font-size="16" fill="#5e3f06" text-anchor="start" >E</text>
<text x="488.00" y="169.80" font-size="16" fill="#5e3f06" text-anchor="start" >F</text>
<text x="587.80" y="169.80" font-size="16" fill="#5e3f06" text-anchor="start" >G</text>
<text x="25.40" y="315.60" font-size="16" fill="#5e3f06" text-anchor="start" >H</text>
<text x="173.60" y="315.20" font-size="16" fill="#5e3f06" text-anchor="start" >I</text>
<text x="266.80" y="315.60" font-size="16" fill="#5e3f06" text-anchor="start" >J</text>
<text x="383.20" y="315.40" font-size="16" fill="#5e3f06" text-anchor="start" >K</text>
<text x="488.00" y="315.20" font-size="16" fill="#5e3f06" text-anchor="start" >L</text>
<text x="587.20" y="315.40" font-size="16" fill="#5e3f06" text-anchor="start" >M</text>
<text x="22.20" y="471.60" font-size="16" fill="#5e3f06" text-anchor="start" >N</text>
<text x="23.00" y="611.80" font-size="16" fill="#5e3f06" text-anchor="start" >O</text>
<text x="157.30" y="471.20" font-size="16" fill="#5e3f06" text-anchor="start" >P</text>
<line x1="50.20" y1="188.40" x2="50.20" y2="268.40" stroke="#555" stroke-width="0.6" />
<line x1="48.60" y1="188.40" x2="50.20" y2="188.40" stroke="#555" stroke-width="0.5" />
<text x="48.20" y="190.50" font-size="5.8" fill="#222" text-anchor="end" >10</text>
<line x1="48.60" y1="204.40" x2="50.20" y2="204.40" stroke="#555" stroke-width="0.5" />
<text x="48.20" y="206.50" font-size="5.8" fill="#222" text-anchor="end" >5</text>
<line x1="48.60" y1="220.40" x2="50.20" y2="220.40" stroke="#555" stroke-width="0.5" />
<text x="48.20" y="222.50" font-size="5.8" fill="#222" text-anchor="end" >0</text>
<line x1="48.60" y1="236.40" x2="50.20" y2="236.40" stroke="#555" stroke-width="0.5" />
<text x="48.20" y="238.50" font-size="5.8" fill="#222" text-anchor="end" >-5</text>
<line x1="48.60" y1="252.40" x2="50.20" y2="252.40" stroke="#555" stroke-width="0.5" />
<text x="48.20" y="254.50" font-size="5.8" fill="#222" text-anchor="end" >-10</text>
<line x1="48.60" y1="268.40" x2="50.20" y2="268.40" stroke="#555" stroke-width="0.5" />
<text x="48.20" y="270.50" font-size="5.8" fill="#222" text-anchor="end" >-15</text>
<text x="69.80" y="270.20" font-size="6.4" fill="#222" text-anchor="middle" >1</text>
<text x="89.40" y="270.20" font-size="6.4" fill="#222" text-anchor="middle" >2</text>
<text x="109.00" y="270.20" font-size="6.4" fill="#222" text-anchor="middle" >3</text>
<text x="128.60" y="270.20" font-size="6.4" fill="#222" text-anchor="middle" >4</text>
<text x="148.20" y="270.20" font-size="6.4" fill="#222" text-anchor="middle" >5</text>
<text x="99.50" y="277.80" font-size="6.8" fill="#111" font-weight="bold" text-anchor="middle" >Days of DSS</text>
<text transform="translate(34.40,226.00) rotate(-90)" x="0" y="0" font-size="7.0" fill="#111" font-weight="bold" text-anchor="middle" dominant-baseline="central">Body Weight change (%)</text>
<rect x="55.40" y="186.10" width="96.20" height="5.20" fill="#ff2a00" />
<circle cx="61.30" cy="182.40" r="1.5" fill="#999" stroke="#333" stroke-width="0.5" />
<text x="66.50" y="183.70" font-size="3.75" fill="#000" font-weight="bold" text-anchor="start" >GLP-2R Ref - Water</text>
<rect x="108.90" y="180.80" width="3.20" height="3.20" fill="#3ec46a" stroke="#1b5e2e" stroke-width="0.4"/>
<text x="115.20" y="183.70" font-size="3.75" fill="#000" font-weight="bold" text-anchor="start" >GLP-2R McB - Water</text>
<circle cx="61.30" cy="188.70" r="1.5" fill="#999" stroke="#333" stroke-width="0.5" />
<text x="66.50" y="190.00" font-size="3.75" fill="#300000" font-weight="bold" text-anchor="start" >GLP-2R Ref - DSS</text>
<rect x="108.90" y="187.10" width="3.20" height="3.20" fill="#3ec46a" stroke="#1b5e2e" stroke-width="0.4"/>
<text x="115.20" y="190.00" font-size="3.75" fill="#300000" font-weight="bold" text-anchor="start" >GLP-2R McB - DSS</text>
<line x1="69.80" y1="223.60" x2="69.80" y2="222.32" stroke="#555" stroke-width="0.5" />
<line x1="68.30" y1="222.32" x2="71.30" y2="222.32" stroke="#555" stroke-width="0.5" />
<line x1="89.40" y1="222.00" x2="89.40" y2="220.72" stroke="#555" stroke-width="0.5" />
<line x1="87.90" y1="220.72" x2="90.90" y2="220.72" stroke="#555" stroke-width="0.5" />
<line x1="109.00" y1="218.80" x2="109.00" y2="216.24" stroke="#555" stroke-width="0.5" />
<line x1="107.50" y1="216.24" x2="110.50" y2="216.24" stroke="#555" stroke-width="0.5" />
<line x1="128.60" y1="218.16" x2="128.60" y2="213.68" stroke="#555" stroke-width="0.5" />
<line x1="127.10" y1="213.68" x2="130.10" y2="213.68" stroke="#555" stroke-width="0.5" />
<line x1="148.20" y1="216.24" x2="148.20" y2="211.44" stroke="#555" stroke-width="0.5" />
<line x1="146.70" y1="211.44" x2="149.70" y2="211.44" stroke="#555" stroke-width="0.5" />
<polyline points="50.20,220.40 69.80,223.60 89.40,222.00 109.00,218.80 128.60,218.16 148.20,216.24" fill="none" stroke="#555" stroke-width="0.9" />
<line x1="69.80" y1="217.20" x2="69.80" y2="215.92" stroke="#555" stroke-width="0.5" />
<line x1="68.30" y1="215.92" x2="71.30" y2="215.92" stroke="#555" stroke-width="0.5" />
<line x1="89.40" y1="217.52" x2="89.40" y2="216.24" stroke="#555" stroke-width="0.5" />
<line x1="87.90" y1="216.24" x2="90.90" y2="216.24" stroke="#555" stroke-width="0.5" />
<line x1="109.00" y1="217.20" x2="109.00" y2="215.60" stroke="#555" stroke-width="0.5" />
<line x1="107.50" y1="215.60" x2="110.50" y2="215.60" stroke="#555" stroke-width="0.5" />
<line x1="128.60" y1="220.40" x2="128.60" y2="218.80" stroke="#555" stroke-width="0.5" />
<line x1="127.10" y1="218.80" x2="130.10" y2="218.80" stroke="#555" stroke-width="0.5" />
<line x1="148.20" y1="218.48" x2="148.20" y2="216.56" stroke="#555" stroke-width="0.5" />
<line x1="146.70" y1="216.56" x2="149.70" y2="216.56" stroke="#555" stroke-width="0.5" />
<polyline points="50.20,220.40 69.80,217.20 89.40,217.52 109.00,217.20 128.60,220.40 148.20,218.48" fill="none" stroke="#3ec46a" stroke-width="0.9" />
<line x1="69.80" y1="223.92" x2="69.80" y2="222.64" stroke="#555" stroke-width="0.5" />
<line x1="68.30" y1="222.64" x2="71.30" y2="222.64" stroke="#555" stroke-width="0.5" />
<line x1="89.40" y1="222.96" x2="89.40" y2="221.68" stroke="#555" stroke-width="0.5" />
<line x1="87.90" y1="221.68" x2="90.90" y2="221.68" stroke="#555" stroke-width="0.5" />
<line x1="109.00" y1="225.20" x2="109.00" y2="223.60" stroke="#555" stroke-width="0.5" />
<line x1="107.50" y1="223.60" x2="110.50" y2="223.60" stroke="#555" stroke-width="0.5" />
<line x1="128.60" y1="237.36" x2="128.60" y2="232.56" stroke="#555" stroke-width="0.5" />
<line x1="127.10" y1="232.56" x2="130.10" y2="232.56" stroke="#555" stroke-width="0.5" />
<line x1="148.20" y1="253.04" x2="148.20" y2="247.28" stroke="#555" stroke-width="0.5" />
<line x1="146.70" y1="247.28" x2="149.70" y2="247.28" stroke="#555" stroke-width="0.5" />
<polyline points="50.20,220.40 69.80,223.92 89.40,222.96 109.00,225.20 128.60,237.36 148.20,253.04" fill="none" stroke="#f04020" stroke-width="0.9" />
<line x1="69.80" y1="219.12" x2="69.80" y2="218.16" stroke="#555" stroke-width="0.5" />
<line x1="68.30" y1="218.16" x2="71.30" y2="218.16" stroke="#555" stroke-width="0.5" />
<line x1="89.40" y1="220.40" x2="89.40" y2="219.44" stroke="#555" stroke-width="0.5" />
<line x1="87.90" y1="219.44" x2="90.90" y2="219.44" stroke="#555" stroke-width="0.5" />
<line x1="109.00" y1="221.04" x2="109.00" y2="219.76" stroke="#555" stroke-width="0.5" />
<line x1="107.50" y1="219.76" x2="110.50" y2="219.76" stroke="#555" stroke-width="0.5" />
<line x1="128.60" y1="228.08" x2="128.60" y2="225.84" stroke="#555" stroke-width="0.5" />
<line x1="127.10" y1="225.84" x2="130.10" y2="225.84" stroke="#555" stroke-width="0.5" />
<line x1="148.20" y1="236.72" x2="148.20" y2="228.40" stroke="#555" stroke-width="0.5" />
<line x1="146.70" y1="228.40" x2="149.70" y2="228.40" stroke="#555" stroke-width="0.5" />
<polyline points="50.20,220.40 69.80,219.12 89.40,220.40 109.00,221.04 128.60,228.08 148.20,236.72" fill="none" stroke="#f04020" stroke-width="0.9" />
<circle cx="50.20" cy="220.40" r="1.9" fill="#aaa" stroke="#333" stroke-width="0.5" />
<circle cx="69.80" cy="223.60" r="1.9" fill="#aaa" stroke="#333" stroke-width="0.5" />
<circle cx="89.40" cy="222.00" r="1.9" fill="#aaa" stroke="#333" stroke-width="0.5" />
<circle cx="109.00" cy="218.80" r="1.9" fill="#aaa" stroke="#333" stroke-width="0.5" />
<circle cx="128.60" cy="218.16" r="1.9" fill="#aaa" stroke="#333" stroke-width="0.5" />
<circle cx="148.20" cy="216.24" r="1.9" fill="#aaa" stroke="#333" stroke-width="0.5" />
<rect x="48.30" y="218.50" width="3.80" height="3.80" fill="#3ec46a" stroke="#1b4a26" stroke-width="0.5"/>
<rect x="67.90" y="215.30" width="3.80" height="3.80" fill="#3ec46a" stroke="#1b4a26" stroke-width="0.5"/>
<rect x="87.50" y="215.62" width="3.80" height="3.80" fill="#3ec46a" stroke="#1b4a26" stroke-width="0.5"/>
<rect x="107.10" y="215.30" width="3.80" height="3.80" fill="#3ec46a" stroke="#1b4a26" stroke-width="0.5"/>
<rect x="126.70" y="218.50" width="3.80" height="3.80" fill="#3ec46a" stroke="#1b4a26" stroke-width="0.5"/>
<rect x="146.30" y="216.58" width="3.80" height="3.80" fill="#3ec46a" stroke="#1b4a26" stroke-width="0.5"/>
<circle cx="50.20" cy="220.40" r="1.9" fill="#999" stroke="#333" stroke-width="0.5" />
<circle cx="69.80" cy="223.92" r="1.9" fill="#999" stroke="#333" stroke-width="0.5" />
<circle cx="89.40" cy="222.96" r="1.9" fill="#999" stroke="#333" stroke-width="0.5" />
<circle cx="109.00" cy="225.20" r="1.9" fill="#999" stroke="#333" stroke-width="0.5" />
<circle cx="128.60" cy="237.36" r="1.9" fill="#999" stroke="#333" stroke-width="0.5" />
<circle cx="148.20" cy="253.04" r="1.9" fill="#999" stroke="#333" stroke-width="0.5" />
<rect x="48.30" y="218.50" width="3.80" height="3.80" fill="#3ec46a" stroke="#1b4a26" stroke-width="0.5"/>
<rect x="67.90" y="217.22" width="3.80" height="3.80" fill="#3ec46a" stroke="#1b4a26" stroke-width="0.5"/>
<rect x="87.50" y="218.50" width="3.80" height="3.80" fill="#3ec46a" stroke="#1b4a26" stroke-width="0.5"/>
<rect x="107.10" y="219.14" width="3.80" height="3.80" fill="#3ec46a" stroke="#1b4a26" stroke-width="0.5"/>
<rect x="126.70" y="226.18" width="3.80" height="3.80" fill="#3ec46a" stroke="#1b4a26" stroke-width="0.5"/>
<rect x="146.30" y="234.82" width="3.80" height="3.80" fill="#3ec46a" stroke="#1b4a26" stroke-width="0.5"/>
<line x1="50.50" y1="333.00" x2="50.50" y2="416.50" stroke="#555" stroke-width="0.6" />
<line x1="48.90" y1="333.00" x2="50.50" y2="333.00" stroke="#555" stroke-width="0.5" />
<text x="48.50" y="335.10" font-size="5.8" fill="#222" text-anchor="end" >10</text>
<line x1="48.90" y1="348.50" x2="50.50" y2="348.50" stroke="#555" stroke-width="0.5" />
<text x="48.50" y="350.60" font-size="5.8" fill="#222" text-anchor="end" >5</text>
<line x1="48.90" y1="364.00" x2="50.50" y2="364.00" stroke="#555" stroke-width="0.5" />
<text x="48.50" y="366.10" font-size="5.8" fill="#222" text-anchor="end" >0</text>
<line x1="48.90" y1="379.50" x2="50.50" y2="379.50" stroke="#555" stroke-width="0.5" />
<text x="48.50" y="381.60" font-size="5.8" fill="#222" text-anchor="end" >-5</text>
<line x1="48.90" y1="395.00" x2="50.50" y2="395.00" stroke="#555" stroke-width="0.5" />
<text x="48.50" y="397.10" font-size="5.8" fill="#222" text-anchor="end" >-10</text>
<line x1="48.90" y1="410.50" x2="50.50" y2="410.50" stroke="#555" stroke-width="0.5" />
<text x="48.50" y="412.60" font-size="5.8" fill="#222" text-anchor="end" >-15</text>
<text x="71.00" y="415.80" font-size="6.4" fill="#222" text-anchor="middle" >1</text>
<text x="91.50" y="415.80" font-size="6.4" fill="#222" text-anchor="middle" >2</text>
<text x="112.00" y="415.80" font-size="6.4" fill="#222" text-anchor="middle" >3</text>
<text x="132.50" y="415.80" font-size="6.4" fill="#222" text-anchor="middle" >4</text>
<text x="153.00" y="415.80" font-size="6.4" fill="#222" text-anchor="middle" >5</text>
<text x="101.80" y="425.20" font-size="7.1" fill="#111" font-weight="bold" text-anchor="middle" >Days of DSS</text>
<text transform="translate(33.20,372.60) rotate(-90)" x="0" y="0" font-size="7.0" fill="#111" font-weight="bold" text-anchor="middle" dominant-baseline="central">Body Weight change (%)</text>
<rect x="55.90" y="336.80" width="100.20" height="5.50" fill="#ff2a00" />
<circle cx="61.00" cy="332.60" r="1.5" fill="#999" stroke="#333" stroke-width="0.5" />
<text x="66.00" y="333.90" font-size="3.75" fill="#000" text-anchor="start" >GLP-2R Ref - Water</text>
<rect x="112.70" y="331.00" width="3.20" height="3.20" fill="#3ec46a" stroke="#1b5e2e" stroke-width="0.4"/>
<text x="119.70" y="333.90" font-size="3.75" fill="#000" text-anchor="start" >GLP-2R McB - Water</text>
<circle cx="61.00" cy="339.55" r="1.5" fill="#999" stroke="#333" stroke-width="0.5" />
<text x="66.00" y="340.85" font-size="3.75" fill="#300000" text-anchor="start" >GLP-2R Ref - DSS</text>
<rect x="112.70" y="337.95" width="3.20" height="3.20" fill="#3ec46a" stroke="#1b5e2e" stroke-width="0.4"/>
<text x="119.70" y="340.85" font-size="3.75" fill="#300000" text-anchor="start" >GLP-2R McB - DSS</text>
<line x1="71.00" y1="363.69" x2="71.00" y2="363.07" stroke="#555" stroke-width="0.5" />
<line x1="69.50" y1="363.07" x2="72.50" y2="363.07" stroke="#555" stroke-width="0.5" />
<line x1="91.50" y1="362.14" x2="91.50" y2="360.59" stroke="#555" stroke-width="0.5" />
<line x1="90.00" y1="360.59" x2="93.00" y2="360.59" stroke="#555" stroke-width="0.5" />
<line x1="112.00" y1="359.97" x2="112.00" y2="355.63" stroke="#555" stroke-width="0.5" />
<line x1="110.50" y1="355.63" x2="113.50" y2="355.63" stroke="#555" stroke-width="0.5" />
<line x1="132.50" y1="358.73" x2="132.50" y2="354.70" stroke="#555" stroke-width="0.5" />
<line x1="131.00" y1="354.70" x2="134.00" y2="354.70" stroke="#555" stroke-width="0.5" />
<line x1="153.00" y1="356.25" x2="153.00" y2="351.91" stroke="#555" stroke-width="0.5" />
<line x1="151.50" y1="351.91" x2="154.50" y2="351.91" stroke="#555" stroke-width="0.5" />
<polyline points="50.50,364.00 71.00,363.69 91.50,362.14 112.00,359.97 132.50,358.73 153.00,356.25" fill="none" stroke="#444" stroke-width="0.7" />
<line x1="71.00" y1="364.62" x2="71.00" y2="364.00" stroke="#555" stroke-width="0.5" />
<line x1="69.50" y1="364.00" x2="72.50" y2="364.00" stroke="#555" stroke-width="0.5" />
<line x1="91.50" y1="363.07" x2="91.50" y2="362.14" stroke="#555" stroke-width="0.5" />
<line x1="90.00" y1="362.14" x2="93.00" y2="362.14" stroke="#555" stroke-width="0.5" />
<line x1="112.00" y1="364.31" x2="112.00" y2="363.07" stroke="#555" stroke-width="0.5" />
<line x1="110.50" y1="363.07" x2="113.50" y2="363.07" stroke="#555" stroke-width="0.5" />
<line x1="132.50" y1="363.38" x2="132.50" y2="362.45" stroke="#555" stroke-width="0.5" />
<line x1="131.00" y1="362.45" x2="134.00" y2="362.45" stroke="#555" stroke-width="0.5" />
<line x1="153.00" y1="363.38" x2="153.00" y2="362.45" stroke="#555" stroke-width="0.5" />
<line x1="151.50" y1="362.45" x2="154.50" y2="362.45" stroke="#555" stroke-width="0.5" />
<polyline points="50.50,364.00 71.00,364.62 91.50,363.07 112.00,364.31 132.50,363.38 153.00,363.38" fill="none" stroke="#3ec46a" stroke-width="1.1" />
<line x1="91.50" y1="367.72" x2="91.50" y2="368.96" stroke="#555" stroke-width="0.5" />
<line x1="90.00" y1="368.96" x2="93.00" y2="368.96" stroke="#555" stroke-width="0.5" />
<line x1="112.00" y1="375.78" x2="112.00" y2="377.33" stroke="#555" stroke-width="0.5" />
<line x1="110.50" y1="377.33" x2="113.50" y2="377.33" stroke="#555" stroke-width="0.5" />
<line x1="132.50" y1="383.53" x2="132.50" y2="385.39" stroke="#555" stroke-width="0.5" />
<line x1="131.00" y1="385.39" x2="134.00" y2="385.39" stroke="#555" stroke-width="0.5" />
<line x1="153.00" y1="396.24" x2="153.00" y2="398.10" stroke="#555" stroke-width="0.5" />
<line x1="151.50" y1="398.10" x2="154.50" y2="398.10" stroke="#555" stroke-width="0.5" />
<polyline points="50.50,364.00 71.00,364.00 91.50,367.72 112.00,375.78 132.50,383.53 153.00,396.24" fill="none" stroke="#f04020" stroke-width="0.9" stroke-dasharray="2,1.2"/>
<line x1="71.00" y1="364.62" x2="71.00" y2="364.00" stroke="#555" stroke-width="0.5" />
<line x1="69.50" y1="364.00" x2="72.50" y2="364.00" stroke="#555" stroke-width="0.5" />
<line x1="91.50" y1="365.86" x2="91.50" y2="364.62" stroke="#555" stroke-width="0.5" />
<line x1="90.00" y1="364.62" x2="93.00" y2="364.62" stroke="#555" stroke-width="0.5" />
<line x1="112.00" y1="367.72" x2="112.00" y2="365.86" stroke="#555" stroke-width="0.5" />
<line x1="110.50" y1="365.86" x2="113.50" y2="365.86" stroke="#555" stroke-width="0.5" />
<line x1="132.50" y1="374.85" x2="132.50" y2="369.58" stroke="#555" stroke-width="0.5" />
<line x1="131.00" y1="369.58" x2="134.00" y2="369.58" stroke="#555" stroke-width="0.5" />
<line x1="153.00" y1="394.38" x2="153.00" y2="387.87" stroke="#555" stroke-width="0.5" />
<line x1="151.50" y1="387.87" x2="154.50" y2="387.87" stroke="#555" stroke-width="0.5" />
<polyline points="50.50,364.00 71.00,364.62 91.50,365.86 112.00,367.72 132.50,374.85 153.00,394.38" fill="none" stroke="#f04020" stroke-width="0.9" stroke-dasharray="2,1.2"/>
<circle cx="50.50" cy="364.00" r="1.9" fill="#888" stroke="#333" stroke-width="0.5" />
<circle cx="71.00" cy="363.69" r="1.9" fill="#888" stroke="#333" stroke-width="0.5" />
<circle cx="91.50" cy="362.14" r="1.9" fill="#888" stroke="#333" stroke-width="0.5" />
<circle cx="112.00" cy="359.97" r="1.9" fill="#888" stroke="#333" stroke-width="0.5" />
<circle cx="132.50" cy="358.73" r="1.9" fill="#888" stroke="#333" stroke-width="0.5" />
<circle cx="153.00" cy="356.25" r="1.9" fill="#888" stroke="#333" stroke-width="0.5" />
<rect x="48.60" y="362.10" width="3.80" height="3.80" fill="#3ec46a" stroke="#1b4a26" stroke-width="0.5"/>
<rect x="69.10" y="362.72" width="3.80" height="3.80" fill="#3ec46a" stroke="#1b4a26" stroke-width="0.5"/>
<rect x="89.60" y="361.17" width="3.80" height="3.80" fill="#3ec46a" stroke="#1b4a26" stroke-width="0.5"/>
<rect x="110.10" y="362.41" width="3.80" height="3.80" fill="#3ec46a" stroke="#1b4a26" stroke-width="0.5"/>
<rect x="130.60" y="361.48" width="3.80" height="3.80" fill="#3ec46a" stroke="#1b4a26" stroke-width="0.5"/>
<rect x="151.10" y="361.48" width="3.80" height="3.80" fill="#3ec46a" stroke="#1b4a26" stroke-width="0.5"/>
<circle cx="50.50" cy="364.00" r="1.9" fill="#999" stroke="#333" stroke-width="0.5" />
<circle cx="71.00" cy="364.00" r="1.9" fill="#999" stroke="#333" stroke-width="0.5" />
<circle cx="91.50" cy="367.72" r="1.9" fill="#999" stroke="#333" stroke-width="0.5" />
<circle cx="112.00" cy="375.78" r="1.9" fill="#999" stroke="#333" stroke-width="0.5" />
<circle cx="132.50" cy="383.53" r="1.9" fill="#999" stroke="#333" stroke-width="0.5" />
<circle cx="153.00" cy="396.24" r="1.9" fill="#999" stroke="#333" stroke-width="0.5" />
<rect x="48.60" y="362.10" width="3.80" height="3.80" fill="#3ec46a" stroke="#1b4a26" stroke-width="0.5"/>
<rect x="69.10" y="362.72" width="3.80" height="3.80" fill="#3ec46a" stroke="#1b4a26" stroke-width="0.5"/>
<rect x="89.60" y="363.96" width="3.80" height="3.80" fill="#3ec46a" stroke="#1b4a26" stroke-width="0.5"/>
<rect x="110.10" y="365.82" width="3.80" height="3.80" fill="#3ec46a" stroke="#1b4a26" stroke-width="0.5"/>
<rect x="130.60" y="372.95" width="3.80" height="3.80" fill="#3ec46a" stroke="#1b4a26" stroke-width="0.5"/>
<rect x="151.10" y="392.48" width="3.80" height="3.80" fill="#3ec46a" stroke="#1b4a26" stroke-width="0.5"/>
<rect x="220.90" y="187.30" width="32.30" height="95.20" fill="#ececec" />
<line x1="186.10" y1="183.65" x2="186.10" y2="282.10" stroke="#555" stroke-width="0.6" />
<line x1="184.50" y1="183.65" x2="186.10" y2="183.65" stroke="#555" stroke-width="0.5" />
<text x="184.20" y="185.45" font-size="5.0" fill="#222" text-anchor="end" >25</text>
<line x1="184.50" y1="192.60" x2="186.10" y2="192.60" stroke="#555" stroke-width="0.5" />
<text x="184.20" y="194.40" font-size="5.0" fill="#222" text-anchor="end" >20</text>
<line x1="184.50" y1="201.55" x2="186.10" y2="201.55" stroke="#555" stroke-width="0.5" />
<text x="184.20" y="203.35" font-size="5.0" fill="#222" text-anchor="end" >15</text>
<line x1="184.50" y1="210.50" x2="186.10" y2="210.50" stroke="#555" stroke-width="0.5" />
<text x="184.20" y="212.30" font-size="5.0" fill="#222" text-anchor="end" >10</text>
<line x1="184.50" y1="219.45" x2="186.10" y2="219.45" stroke="#555" stroke-width="0.5" />
<text x="184.20" y="221.25" font-size="5.0" fill="#222" text-anchor="end" >5</text>
<line x1="184.50" y1="228.40" x2="186.10" y2="228.40" stroke="#555" stroke-width="0.5" />
<text x="184.20" y="230.20" font-size="5.0" fill="#222" text-anchor="end" >0</text>
<line x1="184.50" y1="237.35" x2="186.10" y2="237.35" stroke="#555" stroke-width="0.5" />
<text x="184.20" y="239.15" font-size="5.0" fill="#222" text-anchor="end" >-5</text>
<line x1="184.50" y1="246.30" x2="186.10" y2="246.30" stroke="#555" stroke-width="0.5" />
<text x="184.20" y="248.10" font-size="5.0" fill="#222" text-anchor="end" >-10</text>
<line x1="184.50" y1="255.25" x2="186.10" y2="255.25" stroke="#555" stroke-width="0.5" />
<text x="184.20" y="257.05" font-size="5.0" fill="#222" text-anchor="end" >-15</text>
<line x1="184.50" y1="264.20" x2="186.10" y2="264.20" stroke="#555" stroke-width="0.5" />
<text x="184.20" y="266.00" font-size="5.0" fill="#222" text-anchor="end" >-20</text>
<line x1="184.50" y1="273.15" x2="186.10" y2="273.15" stroke="#555" stroke-width="0.5" />
<text x="184.20" y="274.95" font-size="5.0" fill="#222" text-anchor="end" >-25</text>
<line x1="184.50" y1="282.10" x2="186.10" y2="282.10" stroke="#555" stroke-width="0.5" />
<text x="184.20" y="283.90" font-size="5.0" fill="#222" text-anchor="end" >-30</text>
<line x1="186.10" y1="282.50" x2="253.30" y2="282.50" stroke="#aaa" stroke-width="0.7" />
<rect x="191.30" y="226.61" width="9.40" height="1.79" fill="#8b8b8b" />
<line x1="196.00" y1="226.61" x2="196.00" y2="224.46" stroke="#333" stroke-width="0.5" />
<line x1="194.40" y1="224.46" x2="197.60" y2="224.46" stroke="#333" stroke-width="0.5" />
<rect x="205.80" y="227.50" width="9.40" height="0.90" fill="#3ec46a" />
<line x1="210.50" y1="227.50" x2="210.50" y2="225.89" stroke="#333" stroke-width="0.5" />
<line x1="208.90" y1="225.89" x2="212.10" y2="225.89" stroke="#333" stroke-width="0.5" />
<rect x="224.90" y="228.40" width="9.40" height="17.90" fill="#8b8b8b" />
<line x1="229.60" y1="246.30" x2="229.60" y2="249.52" stroke="#333" stroke-width="0.5" />
<line x1="228.00" y1="249.52" x2="231.20" y2="249.52" stroke="#333" stroke-width="0.5" />
<rect x="239.10" y="228.40" width="9.40" height="8.06" fill="#3ec46a" />
<line x1="243.80" y1="236.46" x2="243.80" y2="241.47" stroke="#333" stroke-width="0.5" />
<line x1="242.20" y1="241.47" x2="245.40" y2="241.47" stroke="#333" stroke-width="0.5" />
<line x1="186.10" y1="228.40" x2="253.30" y2="228.40" stroke="#222" stroke-width="0.7" />
<circle cx="196.00" cy="211.40" r="1.4" fill="#fff" stroke="#333" stroke-width="0.42" />
<circle cx="193.80" cy="221.24" r="1.4" fill="#fff" stroke="#333" stroke-width="0.42" />
<circle cx="198.20" cy="223.93" r="1.4" fill="#fff" stroke="#333" stroke-width="0.42" />
<circle cx="194.90" cy="226.61" r="1.4" fill="#fff" stroke="#333" stroke-width="0.42" />
<circle cx="197.10" cy="227.50" r="1.4" fill="#fff" stroke="#333" stroke-width="0.42" />
<circle cx="193.00" cy="228.40" r="1.4" fill="#fff" stroke="#333" stroke-width="0.42" />
<circle cx="199.00" cy="229.30" r="1.4" fill="#fff" stroke="#333" stroke-width="0.42" />
<circle cx="195.50" cy="231.09" r="1.4" fill="#fff" stroke="#333" stroke-width="0.42" />
<circle cx="196.60" cy="229.83" r="1.4" fill="#fff" stroke="#333" stroke-width="0.42" />
<circle cx="210.50" cy="219.45" r="1.4" fill="#fff" stroke="#333" stroke-width="0.42" />
<circle cx="208.30" cy="223.93" r="1.4" fill="#fff" stroke="#333" stroke-width="0.42" />
<circle cx="212.70" cy="224.82" r="1.4" fill="#fff" stroke="#333" stroke-width="0.42" />
<circle cx="209.40" cy="226.61" r="1.4" fill="#fff" stroke="#333" stroke-width="0.42" />
<circle cx="211.60" cy="227.86" r="1.4" fill="#fff" stroke="#333" stroke-width="0.42" />
<circle cx="207.50" cy="230.19" r="1.4" fill="#fff" stroke="#333" stroke-width="0.42" />
<circle cx="213.50" cy="231.09" r="1.4" fill="#fff" stroke="#333" stroke-width="0.42" />
<circle cx="210.00" cy="232.88" r="1.4" fill="#fff" stroke="#333" stroke-width="0.42" />
<circle cx="211.10" cy="231.62" r="1.4" fill="#fff" stroke="#333" stroke-width="0.42" />
<circle cx="229.60" cy="235.56" r="1.4" fill="#ee2a0a" stroke="#6a1005" stroke-width="0.4" />
<circle cx="227.40" cy="236.10" r="1.4" fill="#ee2a0a" stroke="#6a1005" stroke-width="0.4" />
<circle cx="231.80" cy="240.93" r="1.4" fill="#ee2a0a" stroke="#6a1005" stroke-width="0.4" />
<circle cx="228.50" cy="242.72" r="1.4" fill="#ee2a0a" stroke="#6a1005" stroke-width="0.4" />
<circle cx="230.70" cy="247.19" r="1.4" fill="#ee2a0a" stroke="#6a1005" stroke-width="0.4" />
<circle cx="226.60" cy="248.99" r="1.4" fill="#ee2a0a" stroke="#6a1005" stroke-width="0.4" />
<circle cx="232.60" cy="249.88" r="1.4" fill="#ee2a0a" stroke="#6a1005" stroke-width="0.4" />
<circle cx="229.10" cy="252.56" r="1.4" fill="#ee2a0a" stroke="#6a1005" stroke-width="0.4" />
<circle cx="230.20" cy="265.99" r="1.4" fill="#ee2a0a" stroke="#6a1005" stroke-width="0.4" />
<circle cx="243.80" cy="225.72" r="1.4" fill="#ee2a0a" stroke="#6a1005" stroke-width="0.4" />
<circle cx="241.60" cy="231.98" r="1.4" fill="#ee2a0a" stroke="#6a1005" stroke-width="0.4" />
<circle cx="246.00" cy="232.88" r="1.4" fill="#ee2a0a" stroke="#6a1005" stroke-width="0.4" />
<circle cx="242.70" cy="233.41" r="1.4" fill="#ee2a0a" stroke="#6a1005" stroke-width="0.4" />
<circle cx="244.90" cy="232.52" r="1.4" fill="#ee2a0a" stroke="#6a1005" stroke-width="0.4" />
<circle cx="240.80" cy="233.77" r="1.4" fill="#ee2a0a" stroke="#6a1005" stroke-width="0.4" />
<circle cx="246.80" cy="242.72" r="1.4" fill="#ee2a0a" stroke="#6a1005" stroke-width="0.4" />
<circle cx="243.30" cy="267.78" r="1.4" fill="#ee2a0a" stroke="#6a1005" stroke-width="0.4" />
<rect x="220.90" y="176.60" width="32.10" height="10.70" fill="#ff2a00" stroke="#3a0a05" stroke-width="0.7" rx="0.7"/>
<text x="236.95" y="183.82" font-size="5.2" fill="#111" font-weight="bold" text-anchor="middle" >DSS</text>
<line x1="196.00" y1="197.10" x2="229.60" y2="197.10" stroke="#3a3a3a" stroke-width="0.7" />
<text x="212.80" y="196.00" font-size="4.2" fill="#333" text-anchor="middle" >&lt;0.0001</text>
<line x1="210.30" y1="206.30" x2="243.80" y2="206.30" stroke="#3a3a3a" stroke-width="0.7" />
<text x="227.05" y="205.20" font-size="4.2" fill="#333" text-anchor="middle" >0.0266</text>
<line x1="229.60" y1="218.00" x2="243.80" y2="218.00" stroke="#3a3a3a" stroke-width="0.7" />
<text x="236.70" y="216.90" font-size="4.2" fill="#333" text-anchor="middle" >0.8436</text>
<text transform="translate(171.30,231.10) rotate(-90)" x="0" y="0" font-size="7.0" fill="#111" font-weight="bold" text-anchor="middle" dominant-baseline="central">ΔBW Day 5 (%)</text>
<text x="196.00" y="235.51" font-size="3.4" fill="#c8c8c8" text-anchor="middle" >9</text>
<text x="210.50" y="235.51" font-size="3.4" fill="#c8c8c8" text-anchor="middle" >9</text>
<text x="229.60" y="272.56" font-size="3.4" fill="#c8c8c8" text-anchor="middle" >9</text>
<text x="243.80" y="272.56" font-size="3.4" fill="#c8c8c8" text-anchor="middle" >8</text>
<rect x="221.20" y="332.10" width="33.00" height="97.40" fill="#ececec" />
<line x1="186.30" y1="329.25" x2="186.30" y2="429.24" stroke="#555" stroke-width="0.6" />
<line x1="184.70" y1="329.25" x2="186.30" y2="329.25" stroke="#555" stroke-width="0.5" />
<text x="184.40" y="331.05" font-size="5.0" fill="#222" text-anchor="end" >25</text>
<line x1="184.70" y1="338.34" x2="186.30" y2="338.34" stroke="#555" stroke-width="0.5" />
<text x="184.40" y="340.14" font-size="5.0" fill="#222" text-anchor="end" >20</text>
<line x1="184.70" y1="347.43" x2="186.30" y2="347.43" stroke="#555" stroke-width="0.5" />
<text x="184.40" y="349.23" font-size="5.0" fill="#222" text-anchor="end" >15</text>
<line x1="184.70" y1="356.52" x2="186.30" y2="356.52" stroke="#555" stroke-width="0.5" />
<text x="184.40" y="358.32" font-size="5.0" fill="#222" text-anchor="end" >10</text>
<line x1="184.70" y1="365.61" x2="186.30" y2="365.61" stroke="#555" stroke-width="0.5" />
<text x="184.40" y="367.41" font-size="5.0" fill="#222" text-anchor="end" >5</text>
<line x1="184.70" y1="374.70" x2="186.30" y2="374.70" stroke="#555" stroke-width="0.5" />
<text x="184.40" y="376.50" font-size="5.0" fill="#222" text-anchor="end" >0</text>
<line x1="184.70" y1="383.79" x2="186.30" y2="383.79" stroke="#555" stroke-width="0.5" />
<text x="184.40" y="385.59" font-size="5.0" fill="#222" text-anchor="end" >-5</text>
<line x1="184.70" y1="392.88" x2="186.30" y2="392.88" stroke="#555" stroke-width="0.5" />
<text x="184.40" y="394.68" font-size="5.0" fill="#222" text-anchor="end" >-10</text>
<line x1="184.70" y1="401.97" x2="186.30" y2="401.97" stroke="#555" stroke-width="0.5" />
<text x="184.40" y="403.77" font-size="5.0" fill="#222" text-anchor="end" >-15</text>
<line x1="184.70" y1="411.06" x2="186.30" y2="411.06" stroke="#555" stroke-width="0.5" />
<text x="184.40" y="412.86" font-size="5.0" fill="#222" text-anchor="end" >-20</text>
<line x1="184.70" y1="420.15" x2="186.30" y2="420.15" stroke="#555" stroke-width="0.5" />
<text x="184.40" y="421.95" font-size="5.0" fill="#222" text-anchor="end" >-25</text>
<line x1="184.70" y1="429.24" x2="186.30" y2="429.24" stroke="#555" stroke-width="0.5" />
<text x="184.40" y="431.04" font-size="5.0" fill="#222" text-anchor="end" >-30</text>
<line x1="186.30" y1="429.50" x2="254.50" y2="429.50" stroke="#aaa" stroke-width="0.7" />
<rect x="191.40" y="371.06" width="9.60" height="3.64" fill="url(#hg)" />
<line x1="196.20" y1="371.06" x2="196.20" y2="369.25" stroke="#333" stroke-width="0.5" />
<line x1="194.60" y1="369.25" x2="197.80" y2="369.25" stroke="#333" stroke-width="0.5" />
<line x1="210.60" y1="374.70" x2="210.60" y2="372.52" stroke="#333" stroke-width="0.5" />
<line x1="209.00" y1="372.52" x2="212.20" y2="372.52" stroke="#333" stroke-width="0.5" />
<rect x="225.40" y="374.70" width="9.60" height="19.09" fill="url(#hg)" />
<line x1="230.20" y1="393.79" x2="230.20" y2="397.97" stroke="#333" stroke-width="0.5" />
<line x1="228.60" y1="397.97" x2="231.80" y2="397.97" stroke="#333" stroke-width="0.5" />
<rect x="240.40" y="374.70" width="9.60" height="17.27" fill="url(#hgr)" />
<line x1="245.20" y1="391.97" x2="245.20" y2="395.61" stroke="#333" stroke-width="0.5" />
<line x1="243.60" y1="395.61" x2="246.80" y2="395.61" stroke="#333" stroke-width="0.5" />
<line x1="186.30" y1="374.70" x2="254.50" y2="374.70" stroke="#222" stroke-width="0.7" />
<circle cx="196.20" cy="363.79" r="1.4" fill="#fff" stroke="#333" stroke-width="0.42" />
<circle cx="194.00" cy="365.61" r="1.4" fill="#fff" stroke="#333" stroke-width="0.42" />
<circle cx="198.40" cy="367.43" r="1.4" fill="#fff" stroke="#333" stroke-width="0.42" />
<circle cx="195.10" cy="368.34" r="1.4" fill="#fff" stroke="#333" stroke-width="0.42" />
<circle cx="197.30" cy="369.25" r="1.4" fill="#fff" stroke="#333" stroke-width="0.42" />
<circle cx="193.20" cy="370.15" r="1.4" fill="#fff" stroke="#333" stroke-width="0.42" />
<circle cx="199.20" cy="371.06" r="1.4" fill="#fff" stroke="#333" stroke-width="0.42" />
<circle cx="195.70" cy="371.97" r="1.4" fill="#fff" stroke="#333" stroke-width="0.42" />
<circle cx="196.80" cy="384.70" r="1.4" fill="#fff" stroke="#333" stroke-width="0.42" />
<circle cx="210.60" cy="363.79" r="1.4" fill="#fff" stroke="#333" stroke-width="0.42" />
<circle cx="208.40" cy="371.97" r="1.4" fill="#fff" stroke="#333" stroke-width="0.42" />
<circle cx="212.80" cy="372.88" r="1.4" fill="#fff" stroke="#333" stroke-width="0.42" />
<circle cx="209.50" cy="372.88" r="1.4" fill="#fff" stroke="#333" stroke-width="0.42" />
<circle cx="211.70" cy="374.70" r="1.4" fill="#fff" stroke="#333" stroke-width="0.42" />
<circle cx="207.60" cy="376.52" r="1.4" fill="#fff" stroke="#333" stroke-width="0.42" />
<circle cx="213.60" cy="379.25" r="1.4" fill="#fff" stroke="#333" stroke-width="0.42" />
<circle cx="210.10" cy="381.06" r="1.4" fill="#fff" stroke="#333" stroke-width="0.42" />
<circle cx="230.20" cy="379.25" r="1.4" fill="#ee2a0a" stroke="#6a1005" stroke-width="0.4" />
<circle cx="228.00" cy="380.15" r="1.4" fill="#ee2a0a" stroke="#6a1005" stroke-width="0.4" />
<circle cx="232.40" cy="380.15" r="1.4" fill="#ee2a0a" stroke="#6a1005" stroke-width="0.4" />
<circle cx="229.10" cy="388.33" r="1.4" fill="#ee2a0a" stroke="#6a1005" stroke-width="0.4" />
<circle cx="231.30" cy="399.24" r="1.4" fill="#ee2a0a" stroke="#6a1005" stroke-width="0.4" />
<circle cx="227.20" cy="404.70" r="1.4" fill="#ee2a0a" stroke="#6a1005" stroke-width="0.4" />
<circle cx="233.20" cy="408.33" r="1.4" fill="#ee2a0a" stroke="#6a1005" stroke-width="0.4" />
<circle cx="229.70" cy="410.15" r="1.4" fill="#ee2a0a" stroke="#6a1005" stroke-width="0.4" />
<circle cx="245.20" cy="374.70" r="1.4" fill="#ee2a0a" stroke="#6a1005" stroke-width="0.4" />
<circle cx="243.00" cy="378.34" r="1.4" fill="#ee2a0a" stroke="#6a1005" stroke-width="0.4" />
<circle cx="247.40" cy="391.06" r="1.4" fill="#ee2a0a" stroke="#6a1005" stroke-width="0.4" />
<circle cx="244.10" cy="391.97" r="1.4" fill="#ee2a0a" stroke="#6a1005" stroke-width="0.4" />
<circle cx="246.30" cy="394.70" r="1.4" fill="#ee2a0a" stroke="#6a1005" stroke-width="0.4" />
<circle cx="242.20" cy="396.52" r="1.4" fill="#ee2a0a" stroke="#6a1005" stroke-width="0.4" />
<circle cx="248.20" cy="397.43" r="1.4" fill="#ee2a0a" stroke="#6a1005" stroke-width="0.4" />
<circle cx="244.70" cy="401.97" r="1.4" fill="#ee2a0a" stroke="#6a1005" stroke-width="0.4" />
<circle cx="245.80" cy="408.33" r="1.4" fill="#ee2a0a" stroke="#6a1005" stroke-width="0.4" />
<rect x="221.20" y="321.50" width="32.60" height="10.60" fill="#ff2a00" stroke="#3a0a05" stroke-width="0.7" rx="0.7"/>
<text x="237.50" y="328.67" font-size="5.2" fill="#111" font-weight="bold" text-anchor="middle" >DSS</text>
<line x1="196.20" y1="349.40" x2="230.20" y2="349.40" stroke="#3a3a3a" stroke-width="0.7" />
<text x="213.20" y="348.30" font-size="4.2" fill="#333" text-anchor="middle" >0.0001</text>
<line x1="210.60" y1="358.00" x2="244.60" y2="358.00" stroke="#3a3a3a" stroke-width="0.7" />
<text x="227.60" y="356.90" font-size="4.2" fill="#333" text-anchor="middle" >0.0016</text>
<text transform="translate(171.50,378.00) rotate(-90)" x="0" y="0" font-size="7.0" fill="#111" font-weight="bold" text-anchor="middle" dominant-baseline="central">ΔBW Day 5 (%)</text>
<text x="196.20" y="392.26" font-size="3.4" fill="#c8c8c8" text-anchor="middle" >7</text>
<text x="210.60" y="392.26" font-size="3.4" fill="#c8c8c8" text-anchor="middle" >7</text>
<text x="230.20" y="419.53" font-size="3.4" fill="#c8c8c8" text-anchor="middle" >8</text>
<text x="245.20" y="419.53" font-size="3.4" fill="#c8c8c8" text-anchor="middle" >8</text>
<rect x="442.30" y="191.40" width="32.90" height="90.50" fill="#ececec" />
<line x1="407.20" y1="182.00" x2="407.20" y2="281.70" stroke="#555" stroke-width="0.6" />
<line x1="405.60" y1="281.70" x2="407.20" y2="281.70" stroke="#555" stroke-width="0.5" />
<text x="405.30" y="283.79" font-size="5.8" fill="#222" text-anchor="end" >0</text>
<line x1="405.60" y1="271.73" x2="407.20" y2="271.73" stroke="#555" stroke-width="0.5" />
<text x="405.30" y="273.82" font-size="5.8" fill="#222" text-anchor="end" >2</text>
<line x1="405.60" y1="261.76" x2="407.20" y2="261.76" stroke="#555" stroke-width="0.5" />
<text x="405.30" y="263.85" font-size="5.8" fill="#222" text-anchor="end" >4</text>
<line x1="405.60" y1="251.79" x2="407.20" y2="251.79" stroke="#555" stroke-width="0.5" />
<text x="405.30" y="253.88" font-size="5.8" fill="#222" text-anchor="end" >6</text>
<line x1="405.60" y1="241.82" x2="407.20" y2="241.82" stroke="#555" stroke-width="0.5" />
<text x="405.30" y="243.91" font-size="5.8" fill="#222" text-anchor="end" >8</text>
<line x1="405.60" y1="231.85" x2="407.20" y2="231.85" stroke="#555" stroke-width="0.5" />
<text x="405.30" y="233.94" font-size="5.8" fill="#222" text-anchor="end" >10</text>
<line x1="405.60" y1="221.88" x2="407.20" y2="221.88" stroke="#555" stroke-width="0.5" />
<text x="405.30" y="223.97" font-size="5.8" fill="#222" text-anchor="end" >12</text>
<line x1="405.60" y1="211.91" x2="407.20" y2="211.91" stroke="#555" stroke-width="0.5" />
<text x="405.30" y="214.00" font-size="5.8" fill="#222" text-anchor="end" >14</text>
<line x1="405.60" y1="201.94" x2="407.20" y2="201.94" stroke="#555" stroke-width="0.5" />
<text x="405.30" y="204.03" font-size="5.8" fill="#222" text-anchor="end" >16</text>
<line x1="405.60" y1="191.97" x2="407.20" y2="191.97" stroke="#555" stroke-width="0.5" />
<text x="405.30" y="194.06" font-size="5.8" fill="#222" text-anchor="end" >18</text>
<line x1="405.60" y1="182.00" x2="407.20" y2="182.00" stroke="#555" stroke-width="0.5" />
<text x="405.30" y="184.09" font-size="5.8" fill="#222" text-anchor="end" >20</text>
<line x1="407.20" y1="281.90" x2="475.50" y2="281.90" stroke="#aaa" stroke-width="0.7" />
<rect x="412.45" y="281.20" width="9.50" height="0.50" fill="#8b8b8b" />
<rect x="427.15" y="280.45" width="9.50" height="1.25" fill="#3ec46a" />
<rect x="446.35" y="231.85" width="9.50" height="49.85" fill="#8b8b8b" />
<line x1="451.10" y1="231.85" x2="451.10" y2="228.86" stroke="#333" stroke-width="0.5" />
<line x1="449.50" y1="228.86" x2="452.70" y2="228.86" stroke="#333" stroke-width="0.5" />
<rect x="461.25" y="252.79" width="9.50" height="28.91" fill="#3ec46a" />
<line x1="466.00" y1="252.79" x2="466.00" y2="247.30" stroke="#333" stroke-width="0.5" />
<line x1="464.40" y1="247.30" x2="467.60" y2="247.30" stroke="#333" stroke-width="0.5" />
<circle cx="417.20" cy="276.71" r="1.4" fill="#fff" stroke="#333" stroke-width="0.42" />
<circle cx="414.34" cy="281.70" r="1.4" fill="#fff" stroke="#333" stroke-width="0.42" />
<circle cx="420.06" cy="281.70" r="1.4" fill="#fff" stroke="#333" stroke-width="0.42" />
<circle cx="415.77" cy="281.70" r="1.4" fill="#fff" stroke="#333" stroke-width="0.42" />
<circle cx="418.63" cy="281.70" r="1.4" fill="#fff" stroke="#333" stroke-width="0.42" />
<circle cx="413.30" cy="281.70" r="1.4" fill="#fff" stroke="#333" stroke-width="0.42" />
<circle cx="421.10" cy="281.70" r="1.4" fill="#fff" stroke="#333" stroke-width="0.42" />
<circle cx="416.55" cy="281.70" r="1.4" fill="#fff" stroke="#333" stroke-width="0.42" />
<circle cx="431.90" cy="276.71" r="1.4" fill="#fff" stroke="#333" stroke-width="0.42" />
<circle cx="429.04" cy="276.71" r="1.4" fill="#fff" stroke="#333" stroke-width="0.42" />
<circle cx="434.76" cy="276.71" r="1.4" fill="#fff" stroke="#333" stroke-width="0.42" />
<circle cx="430.47" cy="281.70" r="1.4" fill="#fff" stroke="#333" stroke-width="0.42" />
<circle cx="433.33" cy="281.70" r="1.4" fill="#fff" stroke="#333" stroke-width="0.42" />
<circle cx="428.00" cy="281.70" r="1.4" fill="#fff" stroke="#333" stroke-width="0.42" />
<circle cx="435.80" cy="281.70" r="1.4" fill="#fff" stroke="#333" stroke-width="0.42" />
<circle cx="431.25" cy="281.70" r="1.4" fill="#fff" stroke="#333" stroke-width="0.42" />
<circle cx="451.10" cy="221.88" r="1.4" fill="#ee2a0a" stroke="#6a1005" stroke-width="0.4" />
<circle cx="448.90" cy="226.86" r="1.4" fill="#ee2a0a" stroke="#6a1005" stroke-width="0.4" />
<circle cx="453.30" cy="226.86" r="1.4" fill="#ee2a0a" stroke="#6a1005" stroke-width="0.4" />
<circle cx="450.00" cy="226.86" r="1.4" fill="#ee2a0a" stroke="#6a1005" stroke-width="0.4" />
<circle cx="452.20" cy="226.86" r="1.4" fill="#ee2a0a" stroke="#6a1005" stroke-width="0.4" />
<circle cx="448.10" cy="231.85" r="1.4" fill="#ee2a0a" stroke="#6a1005" stroke-width="0.4" />
<circle cx="454.10" cy="231.85" r="1.4" fill="#ee2a0a" stroke="#6a1005" stroke-width="0.4" />
<circle cx="450.60" cy="241.82" r="1.4" fill="#ee2a0a" stroke="#6a1005" stroke-width="0.4" />
<circle cx="451.70" cy="251.79" r="1.4" fill="#ee2a0a" stroke="#6a1005" stroke-width="0.4" />
<text x="451.10" y="279.30" font-size="3.6" fill="#e8e8e8" text-anchor="middle" >9</text>
<circle cx="466.00" cy="221.88" r="1.4" fill="#ee2a0a" stroke="#6a1005" stroke-width="0.4" />
<circle cx="463.80" cy="246.80" r="1.4" fill="#ee2a0a" stroke="#6a1005" stroke-width="0.4" />
<circle cx="468.20" cy="251.79" r="1.4" fill="#ee2a0a" stroke="#6a1005" stroke-width="0.4" />
<circle cx="464.90" cy="251.79" r="1.4" fill="#ee2a0a" stroke="#6a1005" stroke-width="0.4" />
<circle cx="467.10" cy="256.77" r="1.4" fill="#ee2a0a" stroke="#6a1005" stroke-width="0.4" />
<circle cx="463.00" cy="261.76" r="1.4" fill="#ee2a0a" stroke="#6a1005" stroke-width="0.4" />
<circle cx="469.00" cy="266.75" r="1.4" fill="#ee2a0a" stroke="#6a1005" stroke-width="0.4" />
<circle cx="465.50" cy="266.75" r="1.4" fill="#ee2a0a" stroke="#6a1005" stroke-width="0.4" />
<text x="466.00" y="279.30" font-size="3.6" fill="#e8e8e8" text-anchor="middle" >8</text>
<rect x="442.30" y="180.20" width="32.40" height="11.20" fill="#ff2a00" stroke="#3a0a05" stroke-width="0.7" rx="0.7"/>
<text x="458.50" y="187.67" font-size="5.2" fill="#111" font-weight="bold" text-anchor="middle" >DSS</text>
<line x1="431.90" y1="206.60" x2="466.00" y2="206.60" stroke="#3a3a3a" stroke-width="0.7" />
<text x="448.95" y="205.50" font-size="4.2" fill="#333" text-anchor="middle" >&lt;0.0001</text>
<line x1="417.20" y1="216.50" x2="450.00" y2="216.50" stroke="#3a3a3a" stroke-width="0.7" />
<text x="433.60" y="215.40" font-size="4.2" fill="#333" text-anchor="middle" >&lt;0.0001</text>
<line x1="451.30" y1="216.50" x2="466.00" y2="216.50" stroke="#3a3a3a" stroke-width="0.7" />
<text x="458.65" y="215.40" font-size="4.2" fill="#333" text-anchor="middle" >&lt;0.0001</text>
<text transform="translate(393.90,231.30) rotate(-90)" x="0" y="0" font-size="7.2" fill="#111" font-weight="bold" text-anchor="middle" dominant-baseline="central">Day 5 Disease Activity Index</text>
<text x="417.20" y="271.93" font-size="3.4" fill="#c8c8c8" text-anchor="middle" >8</text>
<text x="431.90" y="271.93" font-size="3.4" fill="#c8c8c8" text-anchor="middle" >8</text>
<rect x="442.50" y="341.30" width="32.70" height="91.60" fill="#ececec" />
<line x1="407.50" y1="332.30" x2="407.50" y2="432.70" stroke="#555" stroke-width="0.6" />
<line x1="405.90" y1="432.70" x2="407.50" y2="432.70" stroke="#555" stroke-width="0.5" />
<text x="405.60" y="434.79" font-size="5.8" fill="#222" text-anchor="end" >0</text>
<line x1="405.90" y1="422.66" x2="407.50" y2="422.66" stroke="#555" stroke-width="0.5" />
<text x="405.60" y="424.75" font-size="5.8" fill="#222" text-anchor="end" >2</text>
<line x1="405.90" y1="412.62" x2="407.50" y2="412.62" stroke="#555" stroke-width="0.5" />
<text x="405.60" y="414.71" font-size="5.8" fill="#222" text-anchor="end" >4</text>
<line x1="405.90" y1="402.58" x2="407.50" y2="402.58" stroke="#555" stroke-width="0.5" />
<text x="405.60" y="404.67" font-size="5.8" fill="#222" text-anchor="end" >6</text>
<line x1="405.90" y1="392.54" x2="407.50" y2="392.54" stroke="#555" stroke-width="0.5" />
<text x="405.60" y="394.63" font-size="5.8" fill="#222" text-anchor="end" >8</text>
<line x1="405.90" y1="382.50" x2="407.50" y2="382.50" stroke="#555" stroke-width="0.5" />
<text x="405.60" y="384.59" font-size="5.8" fill="#222" text-anchor="end" >10</text>
<line x1="405.90" y1="372.46" x2="407.50" y2="372.46" stroke="#555" stroke-width="0.5" />
<text x="405.60" y="374.55" font-size="5.8" fill="#222" text-anchor="end" >12</text>
<line x1="405.90" y1="362.42" x2="407.50" y2="362.42" stroke="#555" stroke-width="0.5" />
<text x="405.60" y="364.51" font-size="5.8" fill="#222" text-anchor="end" >14</text>
<line x1="405.90" y1="352.38" x2="407.50" y2="352.38" stroke="#555" stroke-width="0.5" />
<text x="405.60" y="354.47" font-size="5.8" fill="#222" text-anchor="end" >16</text>
<line x1="405.90" y1="342.34" x2="407.50" y2="342.34" stroke="#555" stroke-width="0.5" />
<text x="405.60" y="344.43" font-size="5.8" fill="#222" text-anchor="end" >18</text>
<line x1="405.90" y1="332.30" x2="407.50" y2="332.30" stroke="#555" stroke-width="0.5" />
<text x="405.60" y="334.39" font-size="5.8" fill="#222" text-anchor="end" >20</text>
<line x1="407.50" y1="432.90" x2="475.50" y2="432.90" stroke="#aaa" stroke-width="0.7" />
<rect x="412.60" y="431.70" width="9.60" height="1.00" fill="url(#hg)" />
<rect x="427.20" y="431.70" width="9.60" height="1.00" fill="url(#hgo)" />
<rect x="446.40" y="384.01" width="9.60" height="48.69" fill="url(#hg)" />
<line x1="451.20" y1="384.01" x2="451.20" y2="380.99" stroke="#333" stroke-width="0.5" />
<line x1="449.60" y1="380.99" x2="452.80" y2="380.99" stroke="#333" stroke-width="0.5" />
<rect x="461.20" y="394.55" width="9.60" height="38.15" fill="url(#hgo)" />
<line x1="466.00" y1="394.55" x2="466.00" y2="390.03" stroke="#333" stroke-width="0.5" />
<line x1="464.40" y1="390.03" x2="467.60" y2="390.03" stroke="#333" stroke-width="0.5" />
<circle cx="417.40" cy="422.66" r="1.4" fill="#fff" stroke="#333" stroke-width="0.42" />
<circle cx="414.54" cy="427.68" r="1.4" fill="#fff" stroke="#333" stroke-width="0.42" />
<circle cx="420.26" cy="432.70" r="1.4" fill="#fff" stroke="#333" stroke-width="0.42" />
<circle cx="415.97" cy="432.70" r="1.4" fill="#fff" stroke="#333" stroke-width="0.42" />
<circle cx="418.83" cy="432.70" r="1.4" fill="#fff" stroke="#333" stroke-width="0.42" />
<circle cx="413.50" cy="432.70" r="1.4" fill="#fff" stroke="#333" stroke-width="0.42" />
<circle cx="421.30" cy="432.70" r="1.4" fill="#fff" stroke="#333" stroke-width="0.42" />
<circle cx="432.00" cy="427.68" r="1.4" fill="#fff" stroke="#333" stroke-width="0.42" />
<circle cx="429.14" cy="427.68" r="1.4" fill="#fff" stroke="#333" stroke-width="0.42" />
<circle cx="434.86" cy="427.68" r="1.4" fill="#fff" stroke="#333" stroke-width="0.42" />
<circle cx="430.57" cy="432.70" r="1.4" fill="#fff" stroke="#333" stroke-width="0.42" />
<circle cx="433.43" cy="432.70" r="1.4" fill="#fff" stroke="#333" stroke-width="0.42" />
<circle cx="428.10" cy="432.70" r="1.4" fill="#fff" stroke="#333" stroke-width="0.42" />
<circle cx="435.90" cy="432.70" r="1.4" fill="#fff" stroke="#333" stroke-width="0.42" />
<circle cx="431.35" cy="432.70" r="1.4" fill="#fff" stroke="#333" stroke-width="0.42" />
<circle cx="451.20" cy="372.46" r="1.4" fill="#ee2a0a" stroke="#6a1005" stroke-width="0.4" />
<circle cx="447.68" cy="372.46" r="1.4" fill="#ee2a0a" stroke="#6a1005" stroke-width="0.4" />
<circle cx="454.72" cy="377.48" r="1.4" fill="#ee2a0a" stroke="#6a1005" stroke-width="0.4" />
<circle cx="449.44" cy="377.48" r="1.4" fill="#ee2a0a" stroke="#6a1005" stroke-width="0.4" />
<circle cx="452.96" cy="382.50" r="1.4" fill="#ee2a0a" stroke="#6a1005" stroke-width="0.4" />
<circle cx="446.40" cy="392.54" r="1.4" fill="#ee2a0a" stroke="#6a1005" stroke-width="0.4" />
<circle cx="456.00" cy="392.54" r="1.4" fill="#ee2a0a" stroke="#6a1005" stroke-width="0.4" />
<circle cx="450.40" cy="402.58" r="1.4" fill="#ee2a0a" stroke="#6a1005" stroke-width="0.4" />
<circle cx="466.00" cy="377.48" r="1.4" fill="#ee2a0a" stroke="#6a1005" stroke-width="0.4" />
<circle cx="462.48" cy="377.48" r="1.4" fill="#ee2a0a" stroke="#6a1005" stroke-width="0.4" />
<circle cx="469.52" cy="387.52" r="1.4" fill="#ee2a0a" stroke="#6a1005" stroke-width="0.4" />
<circle cx="464.24" cy="387.52" r="1.4" fill="#ee2a0a" stroke="#6a1005" stroke-width="0.4" />
<circle cx="467.76" cy="387.52" r="1.4" fill="#ee2a0a" stroke="#6a1005" stroke-width="0.4" />
<circle cx="461.20" cy="392.54" r="1.4" fill="#ee2a0a" stroke="#6a1005" stroke-width="0.4" />
<circle cx="470.80" cy="397.56" r="1.4" fill="#ee2a0a" stroke="#6a1005" stroke-width="0.4" />
<circle cx="465.20" cy="405.09" r="1.4" fill="#ee2a0a" stroke="#6a1005" stroke-width="0.4" />
<circle cx="466.96" cy="412.62" r="1.4" fill="#ee2a0a" stroke="#6a1005" stroke-width="0.4" />
<rect x="442.50" y="331.20" width="32.10" height="10.10" fill="#ff2a00" stroke="#3a0a05" stroke-width="0.7" rx="0.7"/>
<text x="458.55" y="338.12" font-size="5.2" fill="#111" font-weight="bold" text-anchor="middle" >DSS</text>
<line x1="431.90" y1="358.00" x2="465.60" y2="358.00" stroke="#3a3a3a" stroke-width="0.7" />
<text x="448.75" y="356.90" font-size="4.2" fill="#333" text-anchor="middle" >&lt;0.0001</text>
<line x1="417.10" y1="367.30" x2="450.20" y2="367.30" stroke="#3a3a3a" stroke-width="0.7" />
<text x="433.65" y="366.20" font-size="4.2" fill="#333" text-anchor="middle" >&lt;0.0001</text>
<line x1="452.10" y1="367.30" x2="465.60" y2="367.30" stroke="#3a3a3a" stroke-width="0.7" />
<text x="458.85" y="366.20" font-size="4.2" fill="#333" text-anchor="middle" >0.0334</text>
<text transform="translate(393.50,381.20) rotate(-90)" x="0" y="0" font-size="7.2" fill="#111" font-weight="bold" text-anchor="middle" dominant-baseline="central">Day 5 Disease Activity Index</text>
<rect x="549.60" y="191.40" width="32.60" height="90.50" fill="#ececec" />
<line x1="515.00" y1="182.00" x2="515.00" y2="281.70" stroke="#555" stroke-width="0.6" />
<line x1="513.40" y1="281.70" x2="515.00" y2="281.70" stroke="#555" stroke-width="0.5" />
<text x="513.10" y="283.68" font-size="5.5" fill="#222" text-anchor="end" >0.0</text>
<line x1="513.40" y1="265.08" x2="515.00" y2="265.08" stroke="#555" stroke-width="0.5" />
<text x="513.10" y="267.06" font-size="5.5" fill="#222" text-anchor="end" >2.5</text>
<line x1="513.40" y1="248.46" x2="515.00" y2="248.46" stroke="#555" stroke-width="0.5" />
<text x="513.10" y="250.44" font-size="5.5" fill="#222" text-anchor="end" >5.0</text>
<line x1="513.40" y1="231.85" x2="515.00" y2="231.85" stroke="#555" stroke-width="0.5" />
<text x="513.10" y="233.83" font-size="5.5" fill="#222" text-anchor="end" >7.5</text>
<line x1="513.40" y1="215.23" x2="515.00" y2="215.23" stroke="#555" stroke-width="0.5" />
<text x="513.10" y="217.21" font-size="5.5" fill="#222" text-anchor="end" >10.0</text>
<line x1="513.40" y1="198.61" x2="515.00" y2="198.61" stroke="#555" stroke-width="0.5" />
<text x="513.10" y="200.59" font-size="5.5" fill="#222" text-anchor="end" >12.5</text>
<line x1="513.40" y1="182.00" x2="515.00" y2="182.00" stroke="#555" stroke-width="0.5" />
<text x="513.10" y="183.97" font-size="5.5" fill="#222" text-anchor="end" >15.0</text>
<line x1="514.00" y1="273.39" x2="515.00" y2="273.39" stroke="#555" stroke-width="0.45" />
<line x1="514.00" y1="256.77" x2="515.00" y2="256.77" stroke="#555" stroke-width="0.45" />
<line x1="514.00" y1="240.16" x2="515.00" y2="240.16" stroke="#555" stroke-width="0.45" />
<line x1="514.00" y1="223.54" x2="515.00" y2="223.54" stroke="#555" stroke-width="0.45" />
<line x1="514.00" y1="206.92" x2="515.00" y2="206.92" stroke="#555" stroke-width="0.45" />
<line x1="514.00" y1="190.30" x2="515.00" y2="190.30" stroke="#555" stroke-width="0.45" />
<line x1="515.00" y1="281.90" x2="582.50" y2="281.90" stroke="#aaa" stroke-width="0.7" />
<rect x="520.00" y="231.85" width="9.40" height="49.85" fill="#8b8b8b" />
<line x1="524.70" y1="231.85" x2="524.70" y2="230.52" stroke="#333" stroke-width="0.5" />
<line x1="523.10" y1="230.52" x2="526.30" y2="230.52" stroke="#333" stroke-width="0.5" />
<rect x="534.00" y="223.87" width="10.00" height="57.83" fill="#3ec46a" />
<line x1="539.00" y1="223.87" x2="539.00" y2="222.54" stroke="#333" stroke-width="0.5" />
<line x1="537.40" y1="222.54" x2="540.60" y2="222.54" stroke="#333" stroke-width="0.5" />
<rect x="553.70" y="245.14" width="9.40" height="36.56" fill="#8b8b8b" />
<line x1="558.40" y1="245.14" x2="558.40" y2="243.81" stroke="#333" stroke-width="0.5" />
<line x1="556.80" y1="243.81" x2="560.00" y2="243.81" stroke="#333" stroke-width="0.5" />
<rect x="568.00" y="231.85" width="10.00" height="49.85" fill="#3ec46a" />
<line x1="573.00" y1="231.85" x2="573.00" y2="228.52" stroke="#333" stroke-width="0.5" />
<line x1="571.40" y1="228.52" x2="574.60" y2="228.52" stroke="#333" stroke-width="0.5" />
<circle cx="524.70" cy="225.87" r="1.4" fill="#fff" stroke="#333" stroke-width="0.42" />
<circle cx="522.50" cy="225.87" r="1.4" fill="#fff" stroke="#333" stroke-width="0.42" />
<circle cx="526.90" cy="229.85" r="1.4" fill="#fff" stroke="#333" stroke-width="0.42" />
<circle cx="523.60" cy="231.18" r="1.4" fill="#fff" stroke="#333" stroke-width="0.42" />
<circle cx="525.80" cy="231.85" r="1.4" fill="#fff" stroke="#333" stroke-width="0.42" />
<circle cx="521.70" cy="232.51" r="1.4" fill="#fff" stroke="#333" stroke-width="0.42" />
<circle cx="527.70" cy="233.18" r="1.4" fill="#fff" stroke="#333" stroke-width="0.42" />
<circle cx="524.20" cy="234.51" r="1.4" fill="#fff" stroke="#333" stroke-width="0.42" />
<text x="524.70" y="279.00" font-size="3.6" fill="#e8e8e8" text-anchor="middle" >8</text>
<circle cx="539.00" cy="219.22" r="1.4" fill="#fff" stroke="#333" stroke-width="0.42" />
<circle cx="536.80" cy="220.55" r="1.4" fill="#fff" stroke="#333" stroke-width="0.42" />
<circle cx="541.20" cy="221.88" r="1.4" fill="#fff" stroke="#333" stroke-width="0.42" />
<circle cx="537.90" cy="222.54" r="1.4" fill="#fff" stroke="#333" stroke-width="0.42" />
<circle cx="540.10" cy="223.21" r="1.4" fill="#fff" stroke="#333" stroke-width="0.42" />
<circle cx="536.00" cy="225.20" r="1.4" fill="#fff" stroke="#333" stroke-width="0.42" />
<circle cx="542.00" cy="226.53" r="1.4" fill="#fff" stroke="#333" stroke-width="0.42" />
<circle cx="538.50" cy="228.52" r="1.4" fill="#fff" stroke="#333" stroke-width="0.42" />
<text x="539.00" y="279.00" font-size="3.6" fill="#e8e8e8" text-anchor="middle" >8</text>
<circle cx="558.40" cy="241.82" r="1.4" fill="#ee2a0a" stroke="#6a1005" stroke-width="0.4" />
<circle cx="556.20" cy="242.48" r="1.4" fill="#ee2a0a" stroke="#6a1005" stroke-width="0.4" />
<circle cx="560.60" cy="243.81" r="1.4" fill="#ee2a0a" stroke="#6a1005" stroke-width="0.4" />
<circle cx="557.30" cy="244.48" r="1.4" fill="#ee2a0a" stroke="#6a1005" stroke-width="0.4" />
<circle cx="559.50" cy="245.14" r="1.4" fill="#ee2a0a" stroke="#6a1005" stroke-width="0.4" />
<circle cx="555.40" cy="246.47" r="1.4" fill="#ee2a0a" stroke="#6a1005" stroke-width="0.4" />
<circle cx="561.40" cy="247.80" r="1.4" fill="#ee2a0a" stroke="#6a1005" stroke-width="0.4" />
<circle cx="557.90" cy="250.46" r="1.4" fill="#ee2a0a" stroke="#6a1005" stroke-width="0.4" />
<circle cx="559.00" cy="251.12" r="1.4" fill="#ee2a0a" stroke="#6a1005" stroke-width="0.4" />
<text x="558.40" y="279.00" font-size="3.6" fill="#e8e8e8" text-anchor="middle" >9</text>
<circle cx="573.00" cy="222.54" r="1.4" fill="#ee2a0a" stroke="#6a1005" stroke-width="0.4" />
<circle cx="569.70" cy="228.52" r="1.4" fill="#ee2a0a" stroke="#6a1005" stroke-width="0.4" />
<circle cx="576.30" cy="229.19" r="1.4" fill="#ee2a0a" stroke="#6a1005" stroke-width="0.4" />
<circle cx="571.35" cy="229.19" r="1.4" fill="#ee2a0a" stroke="#6a1005" stroke-width="0.4" />
<circle cx="574.65" cy="231.85" r="1.4" fill="#ee2a0a" stroke="#6a1005" stroke-width="0.4" />
<circle cx="568.50" cy="235.17" r="1.4" fill="#ee2a0a" stroke="#6a1005" stroke-width="0.4" />
<circle cx="577.50" cy="237.83" r="1.4" fill="#ee2a0a" stroke="#6a1005" stroke-width="0.4" />
<circle cx="572.25" cy="248.46" r="1.4" fill="#ee2a0a" stroke="#6a1005" stroke-width="0.4" />
<text x="573.00" y="279.00" font-size="3.6" fill="#e8e8e8" text-anchor="middle" >8</text>
<rect x="549.60" y="180.70" width="32.30" height="10.70" fill="#ff2a00" stroke="#3a0a05" stroke-width="0.7" rx="0.7"/>
<text x="565.75" y="187.92" font-size="5.2" fill="#111" font-weight="bold" text-anchor="middle" >DSS</text>
<line x1="524.50" y1="205.00" x2="538.50" y2="205.00" stroke="#3a3a3a" stroke-width="0.7" />
<text x="531.50" y="203.90" font-size="4.2" fill="#333" text-anchor="middle" >0.0050</text>
<line x1="540.20" y1="205.00" x2="573.10" y2="205.00" stroke="#3a3a3a" stroke-width="0.7" />
<text x="556.65" y="203.90" font-size="4.2" fill="#333" text-anchor="middle" >0.0011</text>
<line x1="524.50" y1="214.20" x2="557.50" y2="214.20" stroke="#3a3a3a" stroke-width="0.7" />
<text x="541.00" y="213.10" font-size="4.2" fill="#333" text-anchor="middle" >&lt;0.0001</text>
<line x1="559.10" y1="214.20" x2="573.10" y2="214.20" stroke="#3a3a3a" stroke-width="0.7" />
<text x="566.10" y="213.10" font-size="4.2" fill="#333" text-anchor="middle" >&lt;0.0001</text>
<text transform="translate(496.00,230.50) rotate(-90)" x="0" y="0" font-size="7.2" fill="#111" font-weight="bold" text-anchor="middle" dominant-baseline="central">Colon Length (cm)</text>
<rect x="552.00" y="339.40" width="33.00" height="93.50" fill="#ececec" />
<line x1="515.40" y1="329.35" x2="515.40" y2="432.70" stroke="#555" stroke-width="0.6" />
<line x1="513.80" y1="432.70" x2="515.40" y2="432.70" stroke="#555" stroke-width="0.5" />
<text x="513.50" y="434.68" font-size="5.5" fill="#222" text-anchor="end" >0.0</text>
<line x1="513.80" y1="415.47" x2="515.40" y2="415.47" stroke="#555" stroke-width="0.5" />
<text x="513.50" y="417.45" font-size="5.5" fill="#222" text-anchor="end" >2.5</text>
<line x1="513.80" y1="398.25" x2="515.40" y2="398.25" stroke="#555" stroke-width="0.5" />
<text x="513.50" y="400.23" font-size="5.5" fill="#222" text-anchor="end" >5.0</text>
<line x1="513.80" y1="381.02" x2="515.40" y2="381.02" stroke="#555" stroke-width="0.5" />
<text x="513.50" y="383.00" font-size="5.5" fill="#222" text-anchor="end" >7.5</text>
<line x1="513.80" y1="363.80" x2="515.40" y2="363.80" stroke="#555" stroke-width="0.5" />
<text x="513.50" y="365.78" font-size="5.5" fill="#222" text-anchor="end" >10.0</text>
<line x1="513.80" y1="346.57" x2="515.40" y2="346.57" stroke="#555" stroke-width="0.5" />
<text x="513.50" y="348.56" font-size="5.5" fill="#222" text-anchor="end" >12.5</text>
<line x1="513.80" y1="329.35" x2="515.40" y2="329.35" stroke="#555" stroke-width="0.5" />
<text x="513.50" y="331.33" font-size="5.5" fill="#222" text-anchor="end" >15.0</text>
<line x1="514.40" y1="424.09" x2="515.40" y2="424.09" stroke="#555" stroke-width="0.45" />
<line x1="514.40" y1="406.86" x2="515.40" y2="406.86" stroke="#555" stroke-width="0.45" />
<line x1="514.40" y1="389.64" x2="515.40" y2="389.64" stroke="#555" stroke-width="0.45" />
<line x1="514.40" y1="372.41" x2="515.40" y2="372.41" stroke="#555" stroke-width="0.45" />
<line x1="514.40" y1="355.19" x2="515.40" y2="355.19" stroke="#555" stroke-width="0.45" />
<line x1="514.40" y1="337.96" x2="515.40" y2="337.96" stroke="#555" stroke-width="0.45" />
<line x1="515.40" y1="432.90" x2="585.00" y2="432.90" stroke="#aaa" stroke-width="0.7" />
<rect x="521.20" y="380.34" width="10.00" height="52.36" fill="url(#hg)" />
<line x1="526.20" y1="380.34" x2="526.20" y2="378.96" stroke="#333" stroke-width="0.5" />
<line x1="524.60" y1="378.96" x2="527.80" y2="378.96" stroke="#333" stroke-width="0.5" />
<rect x="536.30" y="370.69" width="10.00" height="62.01" fill="url(#hgr)" />
<line x1="541.30" y1="370.69" x2="541.30" y2="368.62" stroke="#333" stroke-width="0.5" />
<line x1="539.70" y1="368.62" x2="542.90" y2="368.62" stroke="#333" stroke-width="0.5" />
<rect x="556.60" y="394.81" width="10.00" height="37.89" fill="url(#hg)" />
<line x1="561.60" y1="394.81" x2="561.60" y2="392.74" stroke="#333" stroke-width="0.5" />
<line x1="560.00" y1="392.74" x2="563.20" y2="392.74" stroke="#333" stroke-width="0.5" />
<rect x="571.80" y="394.81" width="10.00" height="37.89" fill="url(#hgr)" />
<line x1="576.80" y1="394.81" x2="576.80" y2="392.74" stroke="#333" stroke-width="0.5" />
<line x1="575.20" y1="392.74" x2="578.40" y2="392.74" stroke="#333" stroke-width="0.5" />
<circle cx="526.20" cy="375.51" r="1.4" fill="#fff" stroke="#333" stroke-width="0.42" />
<circle cx="524.00" cy="376.89" r="1.4" fill="#fff" stroke="#333" stroke-width="0.42" />
<circle cx="528.40" cy="378.27" r="1.4" fill="#fff" stroke="#333" stroke-width="0.42" />
<circle cx="525.10" cy="379.65" r="1.4" fill="#fff" stroke="#333" stroke-width="0.42" />
<circle cx="527.30" cy="380.34" r="1.4" fill="#fff" stroke="#333" stroke-width="0.42" />
<circle cx="523.20" cy="381.02" r="1.4" fill="#fff" stroke="#333" stroke-width="0.42" />
<circle cx="529.20" cy="381.71" r="1.4" fill="#fff" stroke="#333" stroke-width="0.42" />
<text x="526.20" y="430.00" font-size="3.6" fill="#e8e8e8" text-anchor="middle" >7</text>
<circle cx="541.30" cy="361.73" r="1.4" fill="#fff" stroke="#333" stroke-width="0.42" />
<circle cx="538.22" cy="363.11" r="1.4" fill="#fff" stroke="#333" stroke-width="0.42" />
<circle cx="544.38" cy="367.25" r="1.4" fill="#fff" stroke="#333" stroke-width="0.42" />
<circle cx="539.76" cy="368.62" r="1.4" fill="#fff" stroke="#333" stroke-width="0.42" />
<circle cx="542.84" cy="368.62" r="1.4" fill="#fff" stroke="#333" stroke-width="0.42" />
<circle cx="537.10" cy="369.31" r="1.4" fill="#fff" stroke="#333" stroke-width="0.42" />
<circle cx="545.50" cy="373.45" r="1.4" fill="#fff" stroke="#333" stroke-width="0.42" />
<circle cx="540.60" cy="378.27" r="1.4" fill="#fff" stroke="#333" stroke-width="0.42" />
<text x="541.30" y="430.00" font-size="3.6" fill="#e8e8e8" text-anchor="middle" >7</text>
<circle cx="561.60" cy="386.54" r="1.4" fill="#ee2a0a" stroke="#6a1005" stroke-width="0.4" />
<circle cx="558.52" cy="389.29" r="1.4" fill="#ee2a0a" stroke="#6a1005" stroke-width="0.4" />
<circle cx="564.68" cy="393.43" r="1.4" fill="#ee2a0a" stroke="#6a1005" stroke-width="0.4" />
<circle cx="560.06" cy="395.49" r="1.4" fill="#ee2a0a" stroke="#6a1005" stroke-width="0.4" />
<circle cx="563.14" cy="396.18" r="1.4" fill="#ee2a0a" stroke="#6a1005" stroke-width="0.4" />
<circle cx="557.40" cy="397.56" r="1.4" fill="#ee2a0a" stroke="#6a1005" stroke-width="0.4" />
<circle cx="565.80" cy="398.94" r="1.4" fill="#ee2a0a" stroke="#6a1005" stroke-width="0.4" />
<circle cx="560.90" cy="402.38" r="1.4" fill="#ee2a0a" stroke="#6a1005" stroke-width="0.4" />
<text x="561.60" y="430.00" font-size="3.6" fill="#e8e8e8" text-anchor="middle" >8</text>
<circle cx="576.80" cy="385.16" r="1.4" fill="#ee2a0a" stroke="#6a1005" stroke-width="0.4" />
<circle cx="573.72" cy="385.85" r="1.4" fill="#ee2a0a" stroke="#6a1005" stroke-width="0.4" />
<circle cx="579.88" cy="388.60" r="1.4" fill="#ee2a0a" stroke="#6a1005" stroke-width="0.4" />
<circle cx="575.26" cy="393.43" r="1.4" fill="#ee2a0a" stroke="#6a1005" stroke-width="0.4" />
<circle cx="578.34" cy="394.12" r="1.4" fill="#ee2a0a" stroke="#6a1005" stroke-width="0.4" />
<circle cx="572.60" cy="394.12" r="1.4" fill="#ee2a0a" stroke="#6a1005" stroke-width="0.4" />
<circle cx="581.00" cy="398.25" r="1.4" fill="#ee2a0a" stroke="#6a1005" stroke-width="0.4" />
<circle cx="576.10" cy="399.63" r="1.4" fill="#ee2a0a" stroke="#6a1005" stroke-width="0.4" />
<text x="576.80" y="430.00" font-size="3.6" fill="#e8e8e8" text-anchor="middle" >8</text>
<rect x="552.00" y="327.90" width="32.50" height="11.50" fill="#ff2a00" stroke="#3a0a05" stroke-width="0.7" rx="0.7"/>
<text x="568.25" y="335.52" font-size="5.2" fill="#111" font-weight="bold" text-anchor="middle" >DSS</text>
<line x1="525.80" y1="347.50" x2="561.30" y2="347.50" stroke="#3a3a3a" stroke-width="0.7" />
<text x="543.55" y="346.40" font-size="4.2" fill="#333" text-anchor="middle" >&lt;0.0001</text>
<line x1="525.80" y1="357.10" x2="540.40" y2="357.10" stroke="#3a3a3a" stroke-width="0.7" />
<text x="533.10" y="356.00" font-size="4.2" fill="#333" text-anchor="middle" >0.0031</text>
<line x1="542.30" y1="357.10" x2="576.90" y2="357.10" stroke="#3a3a3a" stroke-width="0.7" />
<text x="559.60" y="356.00" font-size="4.2" fill="#333" text-anchor="middle" >&lt;0.0001</text>
<text transform="translate(496.20,379.70) rotate(-90)" x="0" y="0" font-size="7.2" fill="#111" font-weight="bold" text-anchor="middle" dominant-baseline="central">Colon Length (cm)</text>
<rect x="648.40" y="191.40" width="32.60" height="90.50" fill="#ececec" />
<line x1="613.30" y1="181.98" x2="613.30" y2="281.70" stroke="#555" stroke-width="0.6" />
<line x1="611.70" y1="281.70" x2="613.30" y2="281.70" stroke="#555" stroke-width="0.5" />
<text x="611.40" y="283.61" font-size="5.3" fill="#222" text-anchor="end" >0</text>
<line x1="611.70" y1="265.08" x2="613.30" y2="265.08" stroke="#555" stroke-width="0.5" />
<text x="611.40" y="266.99" font-size="5.3" fill="#222" text-anchor="end" >10</text>
<line x1="611.70" y1="248.46" x2="613.30" y2="248.46" stroke="#555" stroke-width="0.5" />
<text x="611.40" y="250.37" font-size="5.3" fill="#222" text-anchor="end" >20</text>
<line x1="611.70" y1="231.84" x2="613.30" y2="231.84" stroke="#555" stroke-width="0.5" />
<text x="611.40" y="233.75" font-size="5.3" fill="#222" text-anchor="end" >30</text>
<line x1="611.70" y1="215.22" x2="613.30" y2="215.22" stroke="#555" stroke-width="0.5" />
<text x="611.40" y="217.13" font-size="5.3" fill="#222" text-anchor="end" >40</text>
<line x1="611.70" y1="198.60" x2="613.30" y2="198.60" stroke="#555" stroke-width="0.5" />
<text x="611.40" y="200.51" font-size="5.3" fill="#222" text-anchor="end" >50</text>
<line x1="611.70" y1="181.98" x2="613.30" y2="181.98" stroke="#555" stroke-width="0.5" />
<text x="611.40" y="183.89" font-size="5.3" fill="#222" text-anchor="end" >60</text>
<line x1="612.30" y1="273.39" x2="613.30" y2="273.39" stroke="#555" stroke-width="0.45" />
<line x1="612.30" y1="256.77" x2="613.30" y2="256.77" stroke="#555" stroke-width="0.45" />
<line x1="612.30" y1="240.15" x2="613.30" y2="240.15" stroke="#555" stroke-width="0.45" />
<line x1="612.30" y1="223.53" x2="613.30" y2="223.53" stroke="#555" stroke-width="0.45" />
<line x1="612.30" y1="206.91" x2="613.30" y2="206.91" stroke="#555" stroke-width="0.45" />
<line x1="612.30" y1="190.29" x2="613.30" y2="190.29" stroke="#555" stroke-width="0.45" />
<line x1="613.30" y1="281.90" x2="681.50" y2="281.90" stroke="#aaa" stroke-width="0.7" />
<rect x="618.70" y="255.11" width="9.60" height="26.59" fill="#8b8b8b" />
<line x1="623.50" y1="255.11" x2="623.50" y2="253.78" stroke="#333" stroke-width="0.5" />
<line x1="621.90" y1="253.78" x2="625.10" y2="253.78" stroke="#333" stroke-width="0.5" />
<rect x="633.00" y="252.95" width="10.00" height="28.75" fill="#3ec46a" />
<line x1="638.00" y1="252.95" x2="638.00" y2="250.95" stroke="#333" stroke-width="0.5" />
<line x1="636.40" y1="250.95" x2="639.60" y2="250.95" stroke="#333" stroke-width="0.5" />
<rect x="652.50" y="234.33" width="9.60" height="47.37" fill="#8b8b8b" />
<line x1="657.30" y1="234.33" x2="657.30" y2="231.01" stroke="#333" stroke-width="0.5" />
<line x1="655.70" y1="231.01" x2="658.90" y2="231.01" stroke="#333" stroke-width="0.5" />
<rect x="666.90" y="243.97" width="10.00" height="37.73" fill="#3ec46a" />
<line x1="671.90" y1="243.97" x2="671.90" y2="241.31" stroke="#333" stroke-width="0.5" />
<line x1="670.30" y1="241.31" x2="673.50" y2="241.31" stroke="#333" stroke-width="0.5" />
<circle cx="623.50" cy="247.63" r="1.4" fill="#fff" stroke="#333" stroke-width="0.42" />
<circle cx="621.30" cy="252.61" r="1.4" fill="#fff" stroke="#333" stroke-width="0.42" />
<circle cx="625.70" cy="253.45" r="1.4" fill="#fff" stroke="#333" stroke-width="0.42" />
<circle cx="622.40" cy="254.28" r="1.4" fill="#fff" stroke="#333" stroke-width="0.42" />
<circle cx="624.60" cy="255.11" r="1.4" fill="#fff" stroke="#333" stroke-width="0.42" />
<circle cx="620.50" cy="255.94" r="1.4" fill="#fff" stroke="#333" stroke-width="0.42" />
<circle cx="626.50" cy="256.77" r="1.4" fill="#fff" stroke="#333" stroke-width="0.42" />
<circle cx="623.00" cy="256.77" r="1.4" fill="#fff" stroke="#333" stroke-width="0.42" />
<text x="623.50" y="279.00" font-size="3.6" fill="#e8e8e8" text-anchor="middle" >8</text>
<circle cx="638.00" cy="242.64" r="1.4" fill="#fff" stroke="#333" stroke-width="0.42" />
<circle cx="635.80" cy="245.97" r="1.4" fill="#fff" stroke="#333" stroke-width="0.42" />
<circle cx="640.20" cy="253.45" r="1.4" fill="#fff" stroke="#333" stroke-width="0.42" />
<circle cx="636.90" cy="255.11" r="1.4" fill="#fff" stroke="#333" stroke-width="0.42" />
<circle cx="639.10" cy="255.11" r="1.4" fill="#fff" stroke="#333" stroke-width="0.42" />
<circle cx="635.00" cy="256.77" r="1.4" fill="#fff" stroke="#333" stroke-width="0.42" />
<circle cx="641.00" cy="256.77" r="1.4" fill="#fff" stroke="#333" stroke-width="0.42" />
<circle cx="637.50" cy="256.77" r="1.4" fill="#fff" stroke="#333" stroke-width="0.42" />
<text x="638.00" y="279.00" font-size="3.6" fill="#e8e8e8" text-anchor="middle" >8</text>
<circle cx="657.30" cy="215.22" r="1.4" fill="#ee2a0a" stroke="#6a1005" stroke-width="0.4" />
<circle cx="654.44" cy="227.69" r="1.4" fill="#ee2a0a" stroke="#6a1005" stroke-width="0.4" />
<circle cx="660.16" cy="232.67" r="1.4" fill="#ee2a0a" stroke="#6a1005" stroke-width="0.4" />
<circle cx="655.87" cy="233.50" r="1.4" fill="#ee2a0a" stroke="#6a1005" stroke-width="0.4" />
<circle cx="658.73" cy="234.33" r="1.4" fill="#ee2a0a" stroke="#6a1005" stroke-width="0.4" />
<circle cx="653.40" cy="236.83" r="1.4" fill="#ee2a0a" stroke="#6a1005" stroke-width="0.4" />
<circle cx="661.20" cy="241.81" r="1.4" fill="#ee2a0a" stroke="#6a1005" stroke-width="0.4" />
<circle cx="656.65" cy="241.81" r="1.4" fill="#ee2a0a" stroke="#6a1005" stroke-width="0.4" />
<circle cx="658.08" cy="243.47" r="1.4" fill="#ee2a0a" stroke="#6a1005" stroke-width="0.4" />
<text x="657.30" y="279.00" font-size="3.6" fill="#e8e8e8" text-anchor="middle" >9</text>
<circle cx="671.90" cy="227.69" r="1.4" fill="#ee2a0a" stroke="#6a1005" stroke-width="0.4" />
<circle cx="669.04" cy="239.32" r="1.4" fill="#ee2a0a" stroke="#6a1005" stroke-width="0.4" />
<circle cx="674.76" cy="242.64" r="1.4" fill="#ee2a0a" stroke="#6a1005" stroke-width="0.4" />
<circle cx="670.47" cy="244.31" r="1.4" fill="#ee2a0a" stroke="#6a1005" stroke-width="0.4" />
<circle cx="673.33" cy="245.14" r="1.4" fill="#ee2a0a" stroke="#6a1005" stroke-width="0.4" />
<circle cx="668.00" cy="247.63" r="1.4" fill="#ee2a0a" stroke="#6a1005" stroke-width="0.4" />
<circle cx="675.80" cy="249.29" r="1.4" fill="#ee2a0a" stroke="#6a1005" stroke-width="0.4" />
<circle cx="671.25" cy="250.95" r="1.4" fill="#ee2a0a" stroke="#6a1005" stroke-width="0.4" />
<text x="671.90" y="279.00" font-size="3.6" fill="#e8e8e8" text-anchor="middle" >8</text>
<rect x="648.40" y="180.70" width="32.10" height="10.70" fill="#ff2a00" stroke="#3a0a05" stroke-width="0.7" rx="0.7"/>
<text x="664.45" y="187.92" font-size="5.2" fill="#111" font-weight="bold" text-anchor="middle" >DSS</text>
<line x1="637.70" y1="201.00" x2="672.00" y2="201.00" stroke="#3a3a3a" stroke-width="0.7" />
<text x="654.85" y="199.90" font-size="4.2" fill="#333" text-anchor="middle" >0.0080</text>
<line x1="623.40" y1="210.00" x2="656.20" y2="210.00" stroke="#3a3a3a" stroke-width="0.7" />
<text x="639.80" y="208.90" font-size="4.2" fill="#333" text-anchor="middle" >&lt;0.0001</text>
<line x1="658.30" y1="210.00" x2="672.00" y2="210.00" stroke="#3a3a3a" stroke-width="0.7" />
<text x="665.15" y="208.90" font-size="4.2" fill="#333" text-anchor="middle" >0.0069</text>
<text transform="translate(600.50,230.20) rotate(-90)" x="0" y="0" font-size="7.2" fill="#111" font-weight="bold" text-anchor="middle" dominant-baseline="central">Inflammation index (mg/cm)</text>
<rect x="88.50" y="495.80" width="35.60" height="99.80" fill="#ececec" />
<line x1="50.50" y1="485.72" x2="50.50" y2="595.40" stroke="#555" stroke-width="0.6" />
<line x1="48.90" y1="595.40" x2="50.50" y2="595.40" stroke="#555" stroke-width="0.5" />
<text x="48.60" y="597.67" font-size="6.3" fill="#222" text-anchor="end" >0</text>
<line x1="48.90" y1="567.98" x2="50.50" y2="567.98" stroke="#555" stroke-width="0.5" />
<text x="48.60" y="570.25" font-size="6.3" fill="#222" text-anchor="end" >20</text>
<line x1="48.90" y1="540.56" x2="50.50" y2="540.56" stroke="#555" stroke-width="0.5" />
<text x="48.60" y="542.83" font-size="6.3" fill="#222" text-anchor="end" >40</text>
<line x1="48.90" y1="513.14" x2="50.50" y2="513.14" stroke="#555" stroke-width="0.5" />
<text x="48.60" y="515.41" font-size="6.3" fill="#222" text-anchor="end" >60</text>
<line x1="48.90" y1="485.72" x2="50.50" y2="485.72" stroke="#555" stroke-width="0.5" />
<text x="48.60" y="487.99" font-size="6.3" fill="#222" text-anchor="end" >80</text>
<line x1="49.50" y1="581.69" x2="50.50" y2="581.69" stroke="#555" stroke-width="0.45" />
<line x1="49.50" y1="554.27" x2="50.50" y2="554.27" stroke="#555" stroke-width="0.45" />
<line x1="49.50" y1="526.85" x2="50.50" y2="526.85" stroke="#555" stroke-width="0.45" />
<line x1="49.50" y1="499.43" x2="50.50" y2="499.43" stroke="#555" stroke-width="0.45" />
<line x1="50.50" y1="595.60" x2="124.50" y2="595.60" stroke="#aaa" stroke-width="0.7" />
<rect x="56.10" y="594.71" width="10.20" height="0.69" fill="#8b8b8b" />
<rect x="71.60" y="594.71" width="10.20" height="0.69" fill="#3ec46a" />
<rect x="93.15" y="546.73" width="10.30" height="48.67" fill="#8b8b8b" />
<line x1="98.30" y1="546.73" x2="98.30" y2="544.67" stroke="#333" stroke-width="0.5" />
<line x1="96.70" y1="544.67" x2="99.90" y2="544.67" stroke="#333" stroke-width="0.5" />
<rect x="109.05" y="562.50" width="10.30" height="32.90" fill="#3ec46a" />
<line x1="114.20" y1="562.50" x2="114.20" y2="557.01" stroke="#333" stroke-width="0.5" />
<line x1="112.60" y1="557.01" x2="115.80" y2="557.01" stroke="#333" stroke-width="0.5" />
<circle cx="61.20" cy="594.03" r="1.75" fill="#fff" stroke="#333" stroke-width="0.42" />
<circle cx="58.34" cy="594.03" r="1.75" fill="#fff" stroke="#333" stroke-width="0.42" />
<circle cx="64.06" cy="594.03" r="1.75" fill="#fff" stroke="#333" stroke-width="0.42" />
<circle cx="59.77" cy="595.40" r="1.75" fill="#fff" stroke="#333" stroke-width="0.42" />
<circle cx="62.63" cy="595.40" r="1.75" fill="#fff" stroke="#333" stroke-width="0.42" />
<circle cx="76.70" cy="594.03" r="1.75" fill="#fff" stroke="#333" stroke-width="0.42" />
<circle cx="73.84" cy="594.03" r="1.75" fill="#fff" stroke="#333" stroke-width="0.42" />
<circle cx="79.56" cy="595.40" r="1.75" fill="#fff" stroke="#333" stroke-width="0.42" />
<circle cx="75.27" cy="595.40" r="1.75" fill="#fff" stroke="#333" stroke-width="0.42" />
<circle cx="78.13" cy="595.40" r="1.75" fill="#fff" stroke="#333" stroke-width="0.42" />
<circle cx="98.30" cy="540.56" r="1.75" fill="#ee2a0a" stroke="#6a1005" stroke-width="0.4" />
<circle cx="94.56" cy="540.56" r="1.75" fill="#ee2a0a" stroke="#6a1005" stroke-width="0.4" />
<circle cx="102.04" cy="546.04" r="1.75" fill="#ee2a0a" stroke="#6a1005" stroke-width="0.4" />
<circle cx="96.43" cy="546.04" r="1.75" fill="#ee2a0a" stroke="#6a1005" stroke-width="0.4" />
<circle cx="100.17" cy="546.04" r="1.75" fill="#ee2a0a" stroke="#6a1005" stroke-width="0.4" />
<circle cx="93.20" cy="551.53" r="1.75" fill="#ee2a0a" stroke="#6a1005" stroke-width="0.4" />
<circle cx="103.40" cy="551.53" r="1.75" fill="#ee2a0a" stroke="#6a1005" stroke-width="0.4" />
<text x="98.30" y="593.00" font-size="3.6" fill="#e8e8e8" text-anchor="middle" >6</text>
<circle cx="114.20" cy="546.04" r="1.75" fill="#ee2a0a" stroke="#6a1005" stroke-width="0.4" />
<circle cx="110.46" cy="557.01" r="1.75" fill="#ee2a0a" stroke="#6a1005" stroke-width="0.4" />
<circle cx="117.94" cy="566.61" r="1.75" fill="#ee2a0a" stroke="#6a1005" stroke-width="0.4" />
<circle cx="112.33" cy="572.09" r="1.75" fill="#ee2a0a" stroke="#6a1005" stroke-width="0.4" />
<circle cx="116.07" cy="572.09" r="1.75" fill="#ee2a0a" stroke="#6a1005" stroke-width="0.4" />
<text x="114.20" y="593.00" font-size="3.6" fill="#e8e8e8" text-anchor="middle" >5</text>
<rect x="88.50" y="484.00" width="35.20" height="11.80" fill="#ff2a00" stroke="#3a0a05" stroke-width="0.7" rx="0.7"/>
<text x="106.10" y="492.06" font-size="6.0" fill="#111" font-weight="bold" text-anchor="middle" >DSS</text>
<line x1="76.70" y1="524.20" x2="113.80" y2="524.20" stroke="#3a3a3a" stroke-width="0.7" />
<text x="95.25" y="523.10" font-size="4.6" fill="#333" text-anchor="middle" >&lt;0.0001</text>
<line x1="61.20" y1="534.50" x2="96.70" y2="534.50" stroke="#3a3a3a" stroke-width="0.7" />
<text x="78.95" y="533.40" font-size="4.6" fill="#333" text-anchor="middle" >&lt;0.0001</text>
<line x1="99.40" y1="534.50" x2="113.80" y2="534.50" stroke="#3a3a3a" stroke-width="0.7" />
<text x="106.60" y="533.40" font-size="4.6" fill="#333" text-anchor="middle" >0.0002</text>
<text transform="translate(37.00,539.60) rotate(-90)" x="0" y="0" font-size="7.8" fill="#111" font-weight="bold" text-anchor="middle" dominant-baseline="central">Histopathology score (0-40)</text>
<text x="61.20" y="589.75" font-size="3.4" fill="#c8c8c8" text-anchor="middle" >5</text>
<text x="76.70" y="589.75" font-size="3.4" fill="#c8c8c8" text-anchor="middle" >5</text>
<rect x="88.80" y="627.50" width="35.50" height="98.20" fill="#ececec" />
<line x1="50.30" y1="617.50" x2="50.30" y2="725.50" stroke="#555" stroke-width="0.6" />
<line x1="48.70" y1="725.50" x2="50.30" y2="725.50" stroke="#555" stroke-width="0.5" />
<text x="48.40" y="727.77" font-size="6.3" fill="#222" text-anchor="end" >0</text>
<line x1="48.70" y1="698.50" x2="50.30" y2="698.50" stroke="#555" stroke-width="0.5" />
<text x="48.40" y="700.77" font-size="6.3" fill="#222" text-anchor="end" >20</text>
<line x1="48.70" y1="671.50" x2="50.30" y2="671.50" stroke="#555" stroke-width="0.5" />
<text x="48.40" y="673.77" font-size="6.3" fill="#222" text-anchor="end" >40</text>
<line x1="48.70" y1="644.50" x2="50.30" y2="644.50" stroke="#555" stroke-width="0.5" />
<text x="48.40" y="646.77" font-size="6.3" fill="#222" text-anchor="end" >60</text>
<line x1="48.70" y1="617.50" x2="50.30" y2="617.50" stroke="#555" stroke-width="0.5" />
<text x="48.40" y="619.77" font-size="6.3" fill="#222" text-anchor="end" >80</text>
<line x1="49.30" y1="712.00" x2="50.30" y2="712.00" stroke="#555" stroke-width="0.45" />
<line x1="49.30" y1="685.00" x2="50.30" y2="685.00" stroke="#555" stroke-width="0.45" />
<line x1="49.30" y1="658.00" x2="50.30" y2="658.00" stroke="#555" stroke-width="0.45" />
<line x1="49.30" y1="631.00" x2="50.30" y2="631.00" stroke="#555" stroke-width="0.45" />
<line x1="50.30" y1="725.70" x2="124.50" y2="725.70" stroke="#aaa" stroke-width="0.7" />
<rect x="56.20" y="724.83" width="10.20" height="0.67" fill="url(#hg)" />
<rect x="72.20" y="724.83" width="10.20" height="0.67" fill="url(#hgr)" />
<rect x="93.90" y="682.30" width="10.20" height="43.20" fill="url(#hg)" />
<line x1="99.00" y1="682.30" x2="99.00" y2="678.92" stroke="#333" stroke-width="0.5" />
<line x1="97.40" y1="678.92" x2="100.60" y2="678.92" stroke="#333" stroke-width="0.5" />
<rect x="109.50" y="674.88" width="10.40" height="50.62" fill="url(#hgr)" />
<line x1="114.70" y1="674.88" x2="114.70" y2="672.85" stroke="#333" stroke-width="0.5" />
<line x1="113.10" y1="672.85" x2="116.30" y2="672.85" stroke="#333" stroke-width="0.5" />
<circle cx="61.30" cy="722.80" r="1.75" fill="#fff" stroke="#333" stroke-width="0.42" />
<circle cx="58.44" cy="722.80" r="1.75" fill="#fff" stroke="#333" stroke-width="0.42" />
<circle cx="64.16" cy="724.15" r="1.75" fill="#fff" stroke="#333" stroke-width="0.42" />
<circle cx="59.87" cy="725.50" r="1.75" fill="#fff" stroke="#333" stroke-width="0.42" />
<circle cx="62.73" cy="725.50" r="1.75" fill="#fff" stroke="#333" stroke-width="0.42" />
<circle cx="77.30" cy="722.80" r="1.75" fill="#fff" stroke="#333" stroke-width="0.42" />
<circle cx="74.44" cy="725.50" r="1.75" fill="#fff" stroke="#333" stroke-width="0.42" />
<circle cx="80.16" cy="725.50" r="1.75" fill="#fff" stroke="#333" stroke-width="0.42" />
<circle cx="75.87" cy="725.50" r="1.75" fill="#fff" stroke="#333" stroke-width="0.42" />
<circle cx="78.73" cy="725.50" r="1.75" fill="#fff" stroke="#333" stroke-width="0.42" />
<circle cx="99.00" cy="671.50" r="1.75" fill="#ee2a0a" stroke="#6a1005" stroke-width="0.4" />
<circle cx="95.26" cy="676.90" r="1.75" fill="#ee2a0a" stroke="#6a1005" stroke-width="0.4" />
<circle cx="102.74" cy="680.95" r="1.75" fill="#ee2a0a" stroke="#6a1005" stroke-width="0.4" />
<circle cx="97.13" cy="682.30" r="1.75" fill="#ee2a0a" stroke="#6a1005" stroke-width="0.4" />
<circle cx="100.87" cy="682.30" r="1.75" fill="#ee2a0a" stroke="#6a1005" stroke-width="0.4" />
<circle cx="93.90" cy="687.70" r="1.75" fill="#ee2a0a" stroke="#6a1005" stroke-width="0.4" />
<circle cx="104.10" cy="693.10" r="1.75" fill="#ee2a0a" stroke="#6a1005" stroke-width="0.4" />
<text x="99.00" y="722.00" font-size="3.6" fill="#e8e8e8" text-anchor="middle" >7</text>
<circle cx="114.70" cy="671.50" r="1.75" fill="#ee2a0a" stroke="#6a1005" stroke-width="0.4" />
<circle cx="110.96" cy="671.50" r="1.75" fill="#ee2a0a" stroke="#6a1005" stroke-width="0.4" />
<circle cx="118.44" cy="671.50" r="1.75" fill="#ee2a0a" stroke="#6a1005" stroke-width="0.4" />
<circle cx="112.83" cy="671.50" r="1.75" fill="#ee2a0a" stroke="#6a1005" stroke-width="0.4" />
<circle cx="116.57" cy="671.50" r="1.75" fill="#ee2a0a" stroke="#6a1005" stroke-width="0.4" />
<circle cx="109.60" cy="682.30" r="1.75" fill="#ee2a0a" stroke="#6a1005" stroke-width="0.4" />
<circle cx="119.80" cy="682.30" r="1.75" fill="#ee2a0a" stroke="#6a1005" stroke-width="0.4" />
<text x="114.70" y="722.00" font-size="3.6" fill="#e8e8e8" text-anchor="middle" >7</text>
<rect x="88.80" y="616.20" width="35.10" height="11.30" fill="#ff2a00" stroke="#3a0a05" stroke-width="0.7" rx="0.7"/>
<text x="106.35" y="624.01" font-size="6.0" fill="#111" font-weight="bold" text-anchor="middle" >DSS</text>
<line x1="77.30" y1="656.00" x2="114.20" y2="656.00" stroke="#3a3a3a" stroke-width="0.7" />
<text x="95.75" y="654.90" font-size="4.6" fill="#333" text-anchor="middle" >&lt;0.0001</text>
<line x1="61.30" y1="665.50" x2="97.30" y2="665.50" stroke="#3a3a3a" stroke-width="0.7" />
<text x="79.30" y="664.40" font-size="4.6" fill="#333" text-anchor="middle" >&lt;0.0001</text>
<line x1="99.60" y1="665.50" x2="114.20" y2="665.50" stroke="#3a3a3a" stroke-width="0.7" />
<text x="106.90" y="664.40" font-size="4.6" fill="#333" text-anchor="middle" >0.0147</text>
<text transform="translate(36.60,669.00) rotate(-90)" x="0" y="0" font-size="7.8" fill="#111" font-weight="bold" text-anchor="middle" dominant-baseline="central">Histopathology score (0-40)</text>
<text x="61.30" y="719.95" font-size="3.4" fill="#c8c8c8" text-anchor="middle" >5</text>
<text x="77.30" y="719.95" font-size="3.4" fill="#c8c8c8" text-anchor="middle" >5</text>
<rect x="651.70" y="338.50" width="33.30" height="94.80" fill="#ececec" />
<line x1="616.20" y1="333.30" x2="616.20" y2="361.50" stroke="#555" stroke-width="0.6" />
<line x1="616.20" y1="364.80" x2="616.20" y2="433.10" stroke="#555" stroke-width="0.6" />
<line x1="615.00" y1="361.80" x2="617.40" y2="360.60" stroke="#555" stroke-width="0.5" />
<line x1="615.00" y1="365.20" x2="617.40" y2="364.00" stroke="#555" stroke-width="0.5" />
<line x1="614.60" y1="356.20" x2="616.20" y2="356.20" stroke="#555" stroke-width="0.5" />
<text x="614.30" y="358.10" font-size="5.3" fill="#444" text-anchor="end" >60</text>
<line x1="614.60" y1="344.75" x2="616.20" y2="344.75" stroke="#555" stroke-width="0.5" />
<text x="614.30" y="346.65" font-size="5.3" fill="#444" text-anchor="end" >80</text>
<line x1="614.60" y1="333.30" x2="616.20" y2="333.30" stroke="#555" stroke-width="0.5" />
<text x="614.30" y="335.20" font-size="5.3" fill="#444" text-anchor="end" >100</text>
<line x1="615.20" y1="350.47" x2="616.20" y2="350.47" stroke="#555" stroke-width="0.45" />
<line x1="615.20" y1="339.02" x2="616.20" y2="339.02" stroke="#555" stroke-width="0.45" />
<line x1="614.60" y1="433.10" x2="616.20" y2="433.10" stroke="#555" stroke-width="0.5" />
<text x="614.30" y="435.00" font-size="5.3" fill="#444" text-anchor="end" >0</text>
<line x1="614.60" y1="416.27" x2="616.20" y2="416.27" stroke="#555" stroke-width="0.5" />
<text x="614.30" y="418.17" font-size="5.3" fill="#444" text-anchor="end" >10</text>
<line x1="614.60" y1="399.44" x2="616.20" y2="399.44" stroke="#555" stroke-width="0.5" />
<text x="614.30" y="401.34" font-size="5.3" fill="#444" text-anchor="end" >20</text>
<line x1="614.60" y1="382.61" x2="616.20" y2="382.61" stroke="#555" stroke-width="0.5" />
<text x="614.30" y="384.51" font-size="5.3" fill="#444" text-anchor="end" >30</text>
<line x1="614.60" y1="365.78" x2="616.20" y2="365.78" stroke="#555" stroke-width="0.5" />
<text x="614.30" y="367.68" font-size="5.3" fill="#444" text-anchor="end" >40</text>
<line x1="615.20" y1="424.69" x2="616.20" y2="424.69" stroke="#555" stroke-width="0.45" />
<line x1="615.20" y1="407.86" x2="616.20" y2="407.86" stroke="#555" stroke-width="0.45" />
<line x1="615.20" y1="391.03" x2="616.20" y2="391.03" stroke="#555" stroke-width="0.45" />
<line x1="615.20" y1="374.20" x2="616.20" y2="374.20" stroke="#555" stroke-width="0.45" />
<line x1="616.20" y1="433.30" x2="685.00" y2="433.30" stroke="#aaa" stroke-width="0.7" />
<rect x="622.20" y="402.81" width="10.00" height="30.29" fill="url(#hg)" />
<line x1="627.20" y1="402.81" x2="627.20" y2="401.46" stroke="#333" stroke-width="0.5" />
<line x1="625.60" y1="401.46" x2="628.80" y2="401.46" stroke="#333" stroke-width="0.5" />
<rect x="636.30" y="401.96" width="10.00" height="31.14" fill="url(#hgr)" />
<line x1="641.30" y1="401.96" x2="641.30" y2="400.45" stroke="#333" stroke-width="0.5" />
<line x1="639.70" y1="400.45" x2="642.90" y2="400.45" stroke="#333" stroke-width="0.5" />
<rect x="656.20" y="376.21" width="10.00" height="56.89" fill="url(#hg)" />
<line x1="661.20" y1="376.21" x2="661.20" y2="366.45" stroke="#333" stroke-width="0.5" />
<line x1="659.60" y1="366.45" x2="662.80" y2="366.45" stroke="#333" stroke-width="0.5" />
<rect x="670.60" y="382.61" width="10.00" height="50.49" fill="url(#hgr)" />
<line x1="675.60" y1="382.61" x2="675.60" y2="379.58" stroke="#333" stroke-width="0.5" />
<line x1="674.00" y1="379.58" x2="677.20" y2="379.58" stroke="#333" stroke-width="0.5" />
<circle cx="627.20" cy="396.07" r="1.4" fill="#fff" stroke="#333" stroke-width="0.42" />
<circle cx="625.00" cy="400.28" r="1.4" fill="#fff" stroke="#333" stroke-width="0.42" />
<circle cx="629.40" cy="401.12" r="1.4" fill="#fff" stroke="#333" stroke-width="0.42" />
<circle cx="626.10" cy="401.96" r="1.4" fill="#fff" stroke="#333" stroke-width="0.42" />
<circle cx="628.30" cy="402.81" r="1.4" fill="#fff" stroke="#333" stroke-width="0.42" />
<circle cx="624.20" cy="403.65" r="1.4" fill="#fff" stroke="#333" stroke-width="0.42" />
<circle cx="630.20" cy="404.49" r="1.4" fill="#fff" stroke="#333" stroke-width="0.42" />
<circle cx="626.70" cy="404.49" r="1.4" fill="#fff" stroke="#333" stroke-width="0.42" />
<text x="627.20" y="430.50" font-size="3.4" fill="#e8e8e8" text-anchor="middle" >7</text>
<circle cx="641.30" cy="395.23" r="1.4" fill="#fff" stroke="#333" stroke-width="0.42" />
<circle cx="639.10" cy="396.07" r="1.4" fill="#fff" stroke="#333" stroke-width="0.42" />
<circle cx="643.50" cy="399.44" r="1.4" fill="#fff" stroke="#333" stroke-width="0.42" />
<circle cx="640.20" cy="401.12" r="1.4" fill="#fff" stroke="#333" stroke-width="0.42" />
<circle cx="642.40" cy="401.96" r="1.4" fill="#fff" stroke="#333" stroke-width="0.42" />
<circle cx="638.30" cy="402.81" r="1.4" fill="#fff" stroke="#333" stroke-width="0.42" />
<circle cx="644.30" cy="403.65" r="1.4" fill="#fff" stroke="#333" stroke-width="0.42" />
<circle cx="640.80" cy="404.49" r="1.4" fill="#fff" stroke="#333" stroke-width="0.42" />
<text x="641.30" y="430.50" font-size="3.4" fill="#e8e8e8" text-anchor="middle" >7</text>
<circle cx="661.20" cy="379.24" r="1.4" fill="#ee2a0a" stroke="#6a1005" stroke-width="0.4" />
<circle cx="658.12" cy="380.93" r="1.4" fill="#ee2a0a" stroke="#6a1005" stroke-width="0.4" />
<circle cx="664.28" cy="384.29" r="1.4" fill="#ee2a0a" stroke="#6a1005" stroke-width="0.4" />
<circle cx="659.66" cy="385.98" r="1.4" fill="#ee2a0a" stroke="#6a1005" stroke-width="0.4" />
<circle cx="662.74" cy="387.66" r="1.4" fill="#ee2a0a" stroke="#6a1005" stroke-width="0.4" />
<circle cx="657.00" cy="389.34" r="1.4" fill="#ee2a0a" stroke="#6a1005" stroke-width="0.4" />
<circle cx="665.40" cy="391.03" r="1.4" fill="#ee2a0a" stroke="#6a1005" stroke-width="0.4" />
<text x="661.20" y="430.50" font-size="3.4" fill="#e8e8e8" text-anchor="middle" >8</text>
<circle cx="675.60" cy="370.83" r="1.4" fill="#ee2a0a" stroke="#6a1005" stroke-width="0.4" />
<circle cx="672.52" cy="372.51" r="1.4" fill="#ee2a0a" stroke="#6a1005" stroke-width="0.4" />
<circle cx="678.68" cy="380.93" r="1.4" fill="#ee2a0a" stroke="#6a1005" stroke-width="0.4" />
<circle cx="674.06" cy="382.61" r="1.4" fill="#ee2a0a" stroke="#6a1005" stroke-width="0.4" />
<circle cx="677.14" cy="383.45" r="1.4" fill="#ee2a0a" stroke="#6a1005" stroke-width="0.4" />
<circle cx="671.40" cy="385.98" r="1.4" fill="#ee2a0a" stroke="#6a1005" stroke-width="0.4" />
<circle cx="679.80" cy="385.98" r="1.4" fill="#ee2a0a" stroke="#6a1005" stroke-width="0.4" />
<circle cx="674.90" cy="387.66" r="1.4" fill="#ee2a0a" stroke="#6a1005" stroke-width="0.4" />
<text x="675.60" y="430.50" font-size="3.4" fill="#e8e8e8" text-anchor="middle" >8</text>
<circle cx="660.00" cy="349.33" r="1.4" fill="#ee2a0a" stroke="#6a1005" stroke-width="0.4" />
<rect x="651.70" y="327.50" width="32.10" height="11.00" fill="#ff2a00" stroke="#3a0a05" stroke-width="0.7" rx="0.7"/>
<text x="667.75" y="334.87" font-size="5.2" fill="#111" font-weight="bold" text-anchor="middle" >DSS</text>
<line x1="626.20" y1="359.20" x2="660.40" y2="359.20" stroke="#3a3a3a" stroke-width="0.7" />
<text x="643.30" y="358.10" font-size="4.4" fill="#333" text-anchor="middle" >0.0013</text>
<line x1="641.20" y1="345.60" x2="675.20" y2="345.60" stroke="#3a3a3a" stroke-width="0.7" />
<text x="658.20" y="344.50" font-size="4.4" fill="#333" text-anchor="middle" >0.0130</text>
<text transform="translate(600.50,381.20) rotate(-90)" x="0" y="0" font-size="7.2" fill="#111" font-weight="bold" text-anchor="middle" dominant-baseline="central">Inflammation index (mg/cm)</text>
<rect x="290.40" y="168.00" width="33.90" height="9.90" fill="#606060" />
<rect x="325.50" y="168.00" width="34.50" height="9.90" fill="#3ec46a" />
<rect x="290.20" y="180.50" width="69.20" height="103.50" fill="#111" />
<rect x="290.80" y="181.10" width="17.05" height="17.10" fill="#000000" />
<text x="299.30" y="190.72" font-size="3.1" fill="#20d020" font-weight="bold" text-anchor="middle" >0.0</text>
<rect x="290.80" y="198.15" width="17.05" height="17.10" fill="#170f3c" />
<text x="299.30" y="207.77" font-size="3.1" fill="#20d020" font-weight="bold" text-anchor="middle" >0.4</text>
<rect x="290.80" y="215.20" width="17.05" height="17.10" fill="#0f0a2c" />
<text x="299.30" y="224.82" font-size="3.1" fill="#20d020" font-weight="bold" text-anchor="middle" >0.4</text>
<rect x="290.80" y="232.25" width="17.05" height="17.10" fill="#0c0a28" />
<text x="299.30" y="241.88" font-size="3.1" fill="#20d020" font-weight="bold" text-anchor="middle" >0.3</text>
<rect x="290.80" y="249.30" width="17.05" height="17.10" fill="#0c0a24" />
<text x="299.30" y="258.93" font-size="3.1" fill="#20d020" font-weight="bold" text-anchor="middle" >0.4</text>
<rect x="290.80" y="266.35" width="17.05" height="17.10" fill="#060606" />
<text x="299.30" y="275.97" font-size="3.1" fill="#20d020" font-weight="bold" text-anchor="middle" >0.1</text>
<rect x="307.80" y="181.10" width="17.05" height="17.10" fill="#000000" />
<text x="316.30" y="190.72" font-size="3.1" fill="#20d020" font-weight="bold" text-anchor="middle" >0.1</text>
<rect x="307.80" y="198.15" width="17.05" height="17.10" fill="#561c7c" />
<text x="316.30" y="207.77" font-size="3.1" fill="#20d020" font-weight="bold" text-anchor="middle" >2.6</text>
<rect x="307.80" y="215.20" width="17.05" height="17.10" fill="#5e2282" />
<text x="316.30" y="224.82" font-size="3.1" fill="#20d020" font-weight="bold" text-anchor="middle" >3.7</text>
<rect x="307.80" y="232.25" width="17.05" height="17.10" fill="#963c80" />
<text x="316.30" y="241.88" font-size="3.1" fill="#20d020" font-weight="bold" text-anchor="middle" >6.2</text>
<rect x="307.80" y="249.30" width="17.05" height="17.10" fill="#d8605e" />
<text x="316.30" y="258.93" font-size="3.1" fill="#20d020" font-weight="bold" text-anchor="middle" >8.5</text>
<rect x="307.80" y="266.35" width="17.05" height="17.10" fill="#fbbd22" />
<text x="316.30" y="275.97" font-size="3.1" fill="#20d020" font-weight="bold" text-anchor="middle" >10.2</text>
<rect x="324.80" y="181.10" width="17.05" height="17.10" fill="#000000" />
<text x="333.30" y="190.72" font-size="3.1" fill="#20d020" font-weight="bold" text-anchor="middle" >0.1</text>
<rect x="324.80" y="198.15" width="17.05" height="17.10" fill="#030303" />
<text x="333.30" y="207.77" font-size="3.1" fill="#20d020" font-weight="bold" text-anchor="middle" >0.2</text>
<rect x="324.80" y="215.20" width="17.05" height="17.10" fill="#030305" />
<text x="333.30" y="224.82" font-size="3.1" fill="#20d020" font-weight="bold" text-anchor="middle" >0.1</text>
<rect x="324.80" y="232.25" width="17.05" height="17.10" fill="#05050a" />
<text x="333.30" y="241.88" font-size="3.1" fill="#20d020" font-weight="bold" text-anchor="middle" >0.1</text>
<rect x="324.80" y="249.30" width="17.05" height="17.10" fill="#070714" />
<text x="333.30" y="258.93" font-size="3.1" fill="#20d020" font-weight="bold" text-anchor="middle" >0.2</text>
<rect x="324.80" y="266.35" width="17.05" height="17.10" fill="#07071c" />
<text x="333.30" y="275.97" font-size="3.1" fill="#20d020" font-weight="bold" text-anchor="middle" >0.4</text>
<rect x="341.80" y="181.10" width="17.05" height="17.10" fill="#000000" />
<text x="350.30" y="190.72" font-size="3.1" fill="#20d020" font-weight="bold" text-anchor="middle" >0.1</text>
<rect x="341.80" y="198.15" width="17.05" height="17.10" fill="#1c1240" />
<text x="350.30" y="207.77" font-size="3.1" fill="#20d020" font-weight="bold" text-anchor="middle" >1.2</text>
<rect x="341.80" y="215.20" width="17.05" height="17.10" fill="#2a1458" />
<text x="350.30" y="224.82" font-size="3.1" fill="#20d020" font-weight="bold" text-anchor="middle" >1.4</text>
<rect x="341.80" y="232.25" width="17.05" height="17.10" fill="#42187a" />
<text x="350.30" y="241.88" font-size="3.1" fill="#20d020" font-weight="bold" text-anchor="middle" >2.4</text>
<rect x="341.80" y="249.30" width="17.05" height="17.10" fill="#822e80" />
<text x="350.30" y="258.93" font-size="3.1" fill="#20d020" font-weight="bold" text-anchor="middle" >3.8</text>
<rect x="341.80" y="266.35" width="17.05" height="17.10" fill="#c84a6e" />
<text x="350.30" y="275.97" font-size="3.1" fill="#20d020" font-weight="bold" text-anchor="middle" >5.8</text>
<line x1="307.80" y1="181.10" x2="307.80" y2="283.40" stroke="#222" stroke-width="0.3" />
<line x1="324.80" y1="181.10" x2="324.80" y2="283.40" stroke="#222" stroke-width="0.3" />
<line x1="341.80" y1="181.10" x2="341.80" y2="283.40" stroke="#222" stroke-width="0.3" />
<line x1="290.80" y1="198.15" x2="358.80" y2="198.15" stroke="#1c1c1c" stroke-width="0.3" />
<line x1="290.80" y1="215.20" x2="358.80" y2="215.20" stroke="#1c1c1c" stroke-width="0.3" />
<line x1="290.80" y1="232.25" x2="358.80" y2="232.25" stroke="#1c1c1c" stroke-width="0.3" />
<line x1="290.80" y1="249.30" x2="358.80" y2="249.30" stroke="#1c1c1c" stroke-width="0.3" />
<line x1="290.80" y1="266.35" x2="358.80" y2="266.35" stroke="#1c1c1c" stroke-width="0.3" />
<line x1="288.60" y1="189.62" x2="290.20" y2="189.62" stroke="#555" stroke-width="0.5" />
<text x="288.20" y="191.43" font-size="5.0" fill="#444" text-anchor="end" >0</text>
<line x1="288.60" y1="206.67" x2="290.20" y2="206.67" stroke="#555" stroke-width="0.5" />
<text x="288.20" y="208.47" font-size="5.0" fill="#444" text-anchor="end" >1</text>
<line x1="288.60" y1="223.72" x2="290.20" y2="223.72" stroke="#555" stroke-width="0.5" />
<text x="288.20" y="225.53" font-size="5.0" fill="#444" text-anchor="end" >2</text>
<line x1="288.60" y1="240.78" x2="290.20" y2="240.78" stroke="#555" stroke-width="0.5" />
<text x="288.20" y="242.58" font-size="5.0" fill="#444" text-anchor="end" >3</text>
<line x1="288.60" y1="257.82" x2="290.20" y2="257.82" stroke="#555" stroke-width="0.5" />
<text x="288.20" y="259.62" font-size="5.0" fill="#444" text-anchor="end" >4</text>
<line x1="288.60" y1="274.87" x2="290.20" y2="274.87" stroke="#555" stroke-width="0.5" />
<text x="288.20" y="276.67" font-size="5.0" fill="#444" text-anchor="end" >5</text>
<text transform="translate(279.60,232.25) rotate(-90)" x="0" y="0" font-size="8.0" fill="#111" font-weight="bold" text-anchor="middle" dominant-baseline="central">Days of DSS</text>
<text x="284.60" y="288.80" font-size="4.6" fill="#555" text-anchor="end" >DSS</text>
<text x="299.30" y="288.80" font-size="5.0" fill="#555" text-anchor="middle" >–</text>
<text x="316.30" y="288.80" font-size="5.0" fill="#555" text-anchor="middle" >+</text>
<text x="333.30" y="288.80" font-size="5.0" fill="#555" text-anchor="middle" >–</text>
<text x="350.30" y="288.80" font-size="5.0" fill="#555" text-anchor="middle" >+</text>
<rect x="364.20" y="181.10" width="5.00" height="102.30" fill="url(#cbar)" stroke="#222" stroke-width="0.4"/>
<line x1="369.20" y1="181.10" x2="370.20" y2="181.10" stroke="#555" stroke-width="0.35" />
<text x="370.70" y="182.00" font-size="2.6" fill="#444" text-anchor="start" >0</text>
<line x1="369.20" y1="189.62" x2="370.20" y2="189.62" stroke="#555" stroke-width="0.35" />
<text x="370.70" y="190.53" font-size="2.6" fill="#444" text-anchor="start" >1</text>
<line x1="369.20" y1="198.15" x2="370.20" y2="198.15" stroke="#555" stroke-width="0.35" />
<text x="370.70" y="199.05" font-size="2.6" fill="#444" text-anchor="start" >2</text>
<line x1="369.20" y1="206.67" x2="370.20" y2="206.67" stroke="#555" stroke-width="0.35" />
<text x="370.70" y="207.57" font-size="2.6" fill="#444" text-anchor="start" >3</text>
<line x1="369.20" y1="215.20" x2="370.20" y2="215.20" stroke="#555" stroke-width="0.35" />
<text x="370.70" y="216.10" font-size="2.6" fill="#444" text-anchor="start" >4</text>
<line x1="369.20" y1="223.72" x2="370.20" y2="223.72" stroke="#555" stroke-width="0.35" />
<text x="370.70" y="224.62" font-size="2.6" fill="#444" text-anchor="start" >5</text>
<line x1="369.20" y1="232.25" x2="370.20" y2="232.25" stroke="#555" stroke-width="0.35" />
<text x="370.70" y="233.15" font-size="2.6" fill="#444" text-anchor="start" >6</text>
<line x1="369.20" y1="240.77" x2="370.20" y2="240.77" stroke="#555" stroke-width="0.35" />
<text x="370.70" y="241.67" font-size="2.6" fill="#444" text-anchor="start" >7</text>
<line x1="369.20" y1="249.30" x2="370.20" y2="249.30" stroke="#555" stroke-width="0.35" />
<text x="370.70" y="250.20" font-size="2.6" fill="#444" text-anchor="start" >8</text>
<line x1="369.20" y1="257.82" x2="370.20" y2="257.82" stroke="#555" stroke-width="0.35" />
<text x="370.70" y="258.72" font-size="2.6" fill="#444" text-anchor="start" >9</text>
<line x1="369.20" y1="266.35" x2="370.20" y2="266.35" stroke="#555" stroke-width="0.35" />
<text x="370.70" y="267.25" font-size="2.6" fill="#444" text-anchor="start" >10</text>
<line x1="369.20" y1="274.88" x2="370.20" y2="274.88" stroke="#555" stroke-width="0.35" />
<text x="370.70" y="275.77" font-size="2.6" fill="#444" text-anchor="start" >11</text>
<line x1="369.20" y1="283.40" x2="370.20" y2="283.40" stroke="#555" stroke-width="0.35" />
<text x="370.70" y="284.30" font-size="2.6" fill="#444" text-anchor="start" >12</text>
<text x="367.70" y="177.60" font-size="3.4" fill="#222" font-weight="bold" text-anchor="middle" >DAI</text>
<rect x="290.60" y="315.80" width="34.00" height="10.20" fill="url(#hgt)" />
<rect x="325.80" y="315.80" width="32.80" height="10.20" fill="url(#hgrt)" />
<rect x="290.00" y="327.30" width="69.40" height="102.50" fill="#111" />
<rect x="290.60" y="327.90" width="17.10" height="16.93" fill="#000000" />
<text x="299.12" y="337.44" font-size="3.1" fill="#20d020" font-weight="bold" text-anchor="middle" >0.1</text>
<rect x="290.60" y="344.78" width="17.10" height="16.93" fill="#100c38" />
<text x="299.12" y="354.32" font-size="3.1" fill="#20d020" font-weight="bold" text-anchor="middle" >0.6</text>
<rect x="290.60" y="361.67" width="17.10" height="16.93" fill="#080620" />
<text x="299.12" y="371.21" font-size="3.1" fill="#20d020" font-weight="bold" text-anchor="middle" >0.3</text>
<rect x="290.60" y="378.55" width="17.10" height="16.93" fill="#080620" />
<text x="299.12" y="388.09" font-size="3.1" fill="#20d020" font-weight="bold" text-anchor="middle" >0.4</text>
<rect x="290.60" y="395.43" width="17.10" height="16.93" fill="#080618" />
<text x="299.12" y="404.98" font-size="3.1" fill="#20d020" font-weight="bold" text-anchor="middle" >0.4</text>
<rect x="290.60" y="412.32" width="17.10" height="16.93" fill="#080618" />
<text x="299.12" y="421.86" font-size="3.1" fill="#20d020" font-weight="bold" text-anchor="middle" >0.4</text>
<rect x="307.65" y="327.90" width="17.10" height="16.93" fill="#000000" />
<text x="316.18" y="337.44" font-size="3.1" fill="#20d020" font-weight="bold" text-anchor="middle" >0.1</text>
<rect x="307.65" y="344.78" width="17.10" height="16.93" fill="#5a1f80" />
<text x="316.18" y="354.32" font-size="3.1" fill="#20d020" font-weight="bold" text-anchor="middle" >3.0</text>
<rect x="307.65" y="361.67" width="17.10" height="16.93" fill="#5c2082" />
<text x="316.18" y="371.21" font-size="3.1" fill="#20d020" font-weight="bold" text-anchor="middle" >3.3</text>
<rect x="307.65" y="378.55" width="17.10" height="16.93" fill="#9a3a80" />
<text x="316.18" y="388.09" font-size="3.1" fill="#20d020" font-weight="bold" text-anchor="middle" >4.8</text>
<rect x="307.65" y="395.43" width="17.10" height="16.93" fill="#e06a50" />
<text x="316.18" y="404.98" font-size="3.1" fill="#20d020" font-weight="bold" text-anchor="middle" >7.3</text>
<rect x="307.65" y="412.32" width="17.10" height="16.93" fill="#fcb818" />
<text x="316.18" y="421.86" font-size="3.1" fill="#20d020" font-weight="bold" text-anchor="middle" >9.6</text>
<rect x="324.70" y="327.90" width="17.10" height="16.93" fill="#000000" />
<text x="333.23" y="337.44" font-size="3.1" fill="#20d020" font-weight="bold" text-anchor="middle" >0.0</text>
<rect x="324.70" y="344.78" width="17.10" height="16.93" fill="#0c0a30" />
<text x="333.23" y="354.32" font-size="3.1" fill="#20d020" font-weight="bold" text-anchor="middle" >0.4</text>
<rect x="324.70" y="361.67" width="17.10" height="16.93" fill="#0a0828" />
<text x="333.23" y="371.21" font-size="3.1" fill="#20d020" font-weight="bold" text-anchor="middle" >0.4</text>
<rect x="324.70" y="378.55" width="17.10" height="16.93" fill="#0a0828" />
<text x="333.23" y="388.09" font-size="3.1" fill="#20d020" font-weight="bold" text-anchor="middle" >0.4</text>
<rect x="324.70" y="395.43" width="17.10" height="16.93" fill="#0a0828" />
<text x="333.23" y="404.98" font-size="3.1" fill="#20d020" font-weight="bold" text-anchor="middle" >0.4</text>
<rect x="324.70" y="412.32" width="17.10" height="16.93" fill="#0a0828" />
<text x="333.23" y="421.86" font-size="3.1" fill="#20d020" font-weight="bold" text-anchor="middle" >0.4</text>
<rect x="341.75" y="327.90" width="17.10" height="16.93" fill="#000000" />
<text x="350.27" y="337.44" font-size="3.1" fill="#20d020" font-weight="bold" text-anchor="middle" >0.0</text>
<rect x="341.75" y="344.78" width="17.10" height="16.93" fill="#3a1a70" />
<text x="350.27" y="354.32" font-size="3.1" fill="#20d020" font-weight="bold" text-anchor="middle" >2.0</text>
<rect x="341.75" y="361.67" width="17.10" height="16.93" fill="#3a1a70" />
<text x="350.27" y="371.21" font-size="3.1" fill="#20d020" font-weight="bold" text-anchor="middle" >1.8</text>
<rect x="341.75" y="378.55" width="17.10" height="16.93" fill="#5a2080" />
<text x="350.27" y="388.09" font-size="3.1" fill="#20d020" font-weight="bold" text-anchor="middle" >3.4</text>
<rect x="341.75" y="395.43" width="17.10" height="16.93" fill="#9a3a80" />
<text x="350.27" y="404.98" font-size="3.1" fill="#20d020" font-weight="bold" text-anchor="middle" >4.8</text>
<rect x="341.75" y="412.32" width="17.10" height="16.93" fill="#e87848" />
<text x="350.27" y="421.86" font-size="3.1" fill="#20d020" font-weight="bold" text-anchor="middle" >7.6</text>
<line x1="307.65" y1="327.90" x2="307.65" y2="429.20" stroke="#222" stroke-width="0.3" />
<line x1="324.70" y1="327.90" x2="324.70" y2="429.20" stroke="#222" stroke-width="0.3" />
<line x1="341.75" y1="327.90" x2="341.75" y2="429.20" stroke="#222" stroke-width="0.3" />
<line x1="290.60" y1="344.78" x2="358.80" y2="344.78" stroke="#1c1c1c" stroke-width="0.3" />
<line x1="290.60" y1="361.67" x2="358.80" y2="361.67" stroke="#1c1c1c" stroke-width="0.3" />
<line x1="290.60" y1="378.55" x2="358.80" y2="378.55" stroke="#1c1c1c" stroke-width="0.3" />
<line x1="290.60" y1="395.43" x2="358.80" y2="395.43" stroke="#1c1c1c" stroke-width="0.3" />
<line x1="290.60" y1="412.32" x2="358.80" y2="412.32" stroke="#1c1c1c" stroke-width="0.3" />
<line x1="288.40" y1="336.34" x2="290.00" y2="336.34" stroke="#555" stroke-width="0.5" />
<text x="288.00" y="338.14" font-size="5.0" fill="#444" text-anchor="end" >0</text>
<line x1="288.40" y1="353.22" x2="290.00" y2="353.22" stroke="#555" stroke-width="0.5" />
<text x="288.00" y="355.02" font-size="5.0" fill="#444" text-anchor="end" >1</text>
<line x1="288.40" y1="370.11" x2="290.00" y2="370.11" stroke="#555" stroke-width="0.5" />
<text x="288.00" y="371.91" font-size="5.0" fill="#444" text-anchor="end" >2</text>
<line x1="288.40" y1="386.99" x2="290.00" y2="386.99" stroke="#555" stroke-width="0.5" />
<text x="288.00" y="388.79" font-size="5.0" fill="#444" text-anchor="end" >3</text>
<line x1="288.40" y1="403.88" x2="290.00" y2="403.88" stroke="#555" stroke-width="0.5" />
<text x="288.00" y="405.68" font-size="5.0" fill="#444" text-anchor="end" >4</text>
<line x1="288.40" y1="420.76" x2="290.00" y2="420.76" stroke="#555" stroke-width="0.5" />
<text x="288.00" y="422.56" font-size="5.0" fill="#444" text-anchor="end" >5</text>
<text transform="translate(276.80,378.55) rotate(-90)" x="0" y="0" font-size="8.0" fill="#111" font-weight="bold" text-anchor="middle" dominant-baseline="central">Days of DSS</text>
<text x="284.40" y="435.40" font-size="4.6" fill="#555" text-anchor="end" >DSS</text>
<text x="299.12" y="435.40" font-size="5.0" fill="#555" text-anchor="middle" >–</text>
<text x="316.18" y="435.40" font-size="5.0" fill="#555" text-anchor="middle" >+</text>
<text x="333.23" y="435.40" font-size="5.0" fill="#555" text-anchor="middle" >–</text>
<text x="350.27" y="435.40" font-size="5.0" fill="#555" text-anchor="middle" >+</text>
<rect x="364.00" y="327.90" width="5.60" height="102.70" fill="url(#cbar)" stroke="#222" stroke-width="0.4"/>
<line x1="369.60" y1="327.90" x2="370.60" y2="327.90" stroke="#555" stroke-width="0.35" />
<text x="371.10" y="328.80" font-size="2.6" fill="#444" text-anchor="start" >0</text>
<line x1="369.60" y1="336.46" x2="370.60" y2="336.46" stroke="#555" stroke-width="0.35" />
<text x="371.10" y="337.36" font-size="2.6" fill="#444" text-anchor="start" >1</text>
<line x1="369.60" y1="345.02" x2="370.60" y2="345.02" stroke="#555" stroke-width="0.35" />
<text x="371.10" y="345.92" font-size="2.6" fill="#444" text-anchor="start" >2</text>
<line x1="369.60" y1="353.57" x2="370.60" y2="353.57" stroke="#555" stroke-width="0.35" />
<text x="371.10" y="354.47" font-size="2.6" fill="#444" text-anchor="start" >3</text>
<line x1="369.60" y1="362.13" x2="370.60" y2="362.13" stroke="#555" stroke-width="0.35" />
<text x="371.10" y="363.03" font-size="2.6" fill="#444" text-anchor="start" >4</text>
<line x1="369.60" y1="370.69" x2="370.60" y2="370.69" stroke="#555" stroke-width="0.35" />
<text x="371.10" y="371.59" font-size="2.6" fill="#444" text-anchor="start" >5</text>
<line x1="369.60" y1="379.25" x2="370.60" y2="379.25" stroke="#555" stroke-width="0.35" />
<text x="371.10" y="380.15" font-size="2.6" fill="#444" text-anchor="start" >6</text>
<line x1="369.60" y1="387.81" x2="370.60" y2="387.81" stroke="#555" stroke-width="0.35" />
<text x="371.10" y="388.71" font-size="2.6" fill="#444" text-anchor="start" >7</text>
<line x1="369.60" y1="396.37" x2="370.60" y2="396.37" stroke="#555" stroke-width="0.35" />
<text x="371.10" y="397.27" font-size="2.6" fill="#444" text-anchor="start" >8</text>
<line x1="369.60" y1="404.93" x2="370.60" y2="404.93" stroke="#555" stroke-width="0.35" />
<text x="371.10" y="405.82" font-size="2.6" fill="#444" text-anchor="start" >9</text>
<line x1="369.60" y1="413.48" x2="370.60" y2="413.48" stroke="#555" stroke-width="0.35" />
<text x="371.10" y="414.38" font-size="2.6" fill="#444" text-anchor="start" >10</text>
<line x1="369.60" y1="422.04" x2="370.60" y2="422.04" stroke="#555" stroke-width="0.35" />
<text x="371.10" y="422.94" font-size="2.6" fill="#444" text-anchor="start" >11</text>
<line x1="369.60" y1="430.60" x2="370.60" y2="430.60" stroke="#555" stroke-width="0.35" />
<text x="371.10" y="431.50" font-size="2.6" fill="#444" text-anchor="start" >12</text>
<text x="367.80" y="324.40" font-size="3.4" fill="#222" font-weight="bold" text-anchor="middle" >DAI</text>
<text x="240.90" y="494.50" font-size="14" fill="#222" font-weight="bold" text-anchor="start" >GLP-2R WT</text>
<line x1="196.40" y1="501.40" x2="361.90" y2="501.40" stroke="#888" stroke-width="0.9" />
<text x="536.40" y="495.00" font-size="14" fill="#222" font-weight="bold" text-anchor="start" >GLP-2R KO</text>
<line x1="493.20" y1="501.30" x2="659.00" y2="501.30" stroke="#888" stroke-width="0.9" />
<text x="193.70" y="514.80" font-size="10.4" fill="#111" font-weight="bold" text-anchor="start" >Complex</text>
<text x="238.20" y="516.80" font-size="6.6" fill="#111" font-weight="bold" text-anchor="start" >Reference</text>
<text x="488.60" y="514.80" font-size="10.4" fill="#111" font-weight="bold" text-anchor="start" >Complex</text>
<text x="533.10" y="516.80" font-size="6.6" fill="#111" font-weight="bold" text-anchor="start" >Reference</text>
<text x="300.20" y="514.80" font-size="10.4" fill="#22bb33" font-weight="bold" text-anchor="start" >Complex</text>
<text x="344.60" y="516.80" font-size="6.8" fill="#22bb33" font-weight="bold" text-anchor="start" >McB</text>
<text x="595.30" y="514.80" font-size="10.4" fill="#22bb33" font-weight="bold" text-anchor="start" >Complex</text>
<text x="639.70" y="516.80" font-size="6.8" fill="#22bb33" font-weight="bold" text-anchor="start" >McB</text>
<text transform="translate(171.30,562.80) rotate(-90)" x="0" y="0" font-size="13.4" fill="#111" font-weight="bold" text-anchor="middle" dominant-baseline="central">Vehicle</text>
<text transform="translate(171.30,649.00) rotate(-90)" x="0" y="0" font-size="13.8" fill="#ee3322" font-weight="bold" text-anchor="middle" dominant-baseline="central">DSS</text>
<path d="M377.6,522.3 L403,598.6 L377.6,688.8 Z" fill="#f7eeee"/>
<line x1="377.60" y1="522.30" x2="403.00" y2="598.60" stroke="#a0a0a0" stroke-width="0.45" />
<line x1="377.60" y1="688.80" x2="403.00" y2="598.60" stroke="#a0a0a0" stroke-width="0.45" />
<path d="M480.6,521.6 L454.6,605.3 L480.6,689.4 Z" fill="#f7eeee"/>
<line x1="480.60" y1="521.60" x2="454.60" y2="605.30" stroke="#a0a0a0" stroke-width="0.45" />
<line x1="480.60" y1="689.40" x2="454.60" y2="605.30" stroke="#a0a0a0" stroke-width="0.45" />
<g><path d="M408.2,563 L407.6,555.6 L412.4,554.6 L415.2,562.8 Z" fill="#e2dedb"/><path d="M401,575 C400,600 404,619 414,622 C426,624.5 447,624.5 457,617 C460,602 460,585 458,571 C446,569 420,569 401,575 Z" fill="#e8e2df"/><ellipse cx="409.0" cy="581.0" rx="4.8" ry="3.9" transform="rotate(34 409.0 581.0)" fill="#ebe6e3" stroke="#d9d0cc" stroke-width="0.6"/><ellipse cx="419.0" cy="579.0" rx="4.9" ry="3.8" transform="rotate(7 419.0 579.0)" fill="#ebe6e3" stroke="#d9d0cc" stroke-width="0.6"/><ellipse cx="430.0" cy="582.0" rx="4.5" ry="3.8" transform="rotate(10 430.0 582.0)" fill="#ebe6e3" stroke="#d9d0cc" stroke-width="0.6"/><ellipse cx="442.0" cy="579.0" rx="5.3" ry="3.3" transform="rotate(-16 442.0 579.0)" fill="#ebe6e3" stroke="#d9d0cc" stroke-width="0.6"/><ellipse cx="452.0" cy="583.0" rx="4.3" ry="4.2" transform="rotate(15 452.0 583.0)" fill="#ebe6e3" stroke="#d9d0cc" stroke-width="0.6"/><ellipse cx="406.0" cy="593.0" rx="4.3" ry="4.4" transform="rotate(37 406.0 593.0)" fill="#ebe6e3" stroke="#d9d0cc" stroke-width="0.6"/><ellipse cx="416.0" cy="591.0" rx="5.1" ry="3.9" transform="rotate(-27 416.0 591.0)" fill="#ebe6e3" stroke="#d9d0cc" stroke-width="0.6"/><ellipse cx="427.0" cy="595.0" rx="4.2" ry="3.8" transform="rotate(-35 427.0 595.0)" fill="#ebe6e3" stroke="#d9d0cc" stroke-width="0.6"/><ellipse cx="437.0" cy="592.0" rx="4.5" ry="3.5" transform="rotate(-38 437.0 592.0)" fill="#ebe6e3" stroke="#d9d0cc" stroke-width="0.6"/><ellipse cx="448.0" cy="594.0" rx="4.8" ry="3.7" transform="rotate(27 448.0 594.0)" fill="#ebe6e3" stroke="#d9d0cc" stroke-width="0.6"/><ellipse cx="412.0" cy="605.0" rx="4.9" ry="4.0" transform="rotate(-0 412.0 605.0)" fill="#ebe6e3" stroke="#d9d0cc" stroke-width="0.6"/><ellipse cx="423.0" cy="604.0" rx="5.1" ry="3.7" transform="rotate(-18 423.0 604.0)" fill="#ebe6e3" stroke="#d9d0cc" stroke-width="0.6"/><ellipse cx="434.0" cy="606.0" rx="5.6" ry="4.4" transform="rotate(27 434.0 606.0)" fill="#ebe6e3" stroke="#d9d0cc" stroke-width="0.6"/><ellipse cx="445.0" cy="605.0" rx="5.2" ry="3.6" transform="rotate(-22 445.0 605.0)" fill="#ebe6e3" stroke="#d9d0cc" stroke-width="0.6"/><ellipse cx="454.0" cy="603.0" rx="4.6" ry="3.3" transform="rotate(21 454.0 603.0)" fill="#ebe6e3" stroke="#d9d0cc" stroke-width="0.6"/><ellipse cx="418.0" cy="615.0" rx="4.8" ry="4.2" transform="rotate(-9 418.0 615.0)" fill="#ebe6e3" stroke="#d9d0cc" stroke-width="0.6"/><ellipse cx="430.0" cy="616.0" rx="5.5" ry="4.2" transform="rotate(-40 430.0 616.0)" fill="#ebe6e3" stroke="#d9d0cc" stroke-width="0.6"/><ellipse cx="442.0" cy="615.0" rx="4.5" ry="4.3" transform="rotate(-2 442.0 615.0)" fill="#ebe6e3" stroke="#d9d0cc" stroke-width="0.6"/><circle cx="399.5" cy="611.0" r="4.9" fill="#efa2a2"/><circle cx="399.3" cy="607.8" r="4.9" fill="#efa2a2"/><circle cx="399.1" cy="604.6" r="4.9" fill="#efa2a2"/><circle cx="398.9" cy="601.4" r="4.9" fill="#efa2a2"/><circle cx="398.7" cy="598.2" r="4.9" fill="#efa2a2"/><circle cx="398.5" cy="595.0" r="4.9" fill="#efa2a2"/><circle cx="398.5" cy="591.6" r="4.9" fill="#efa2a2"/><circle cx="398.5" cy="588.2" r="4.9" fill="#efa2a2"/><circle cx="398.5" cy="584.8" r="4.9" fill="#efa2a2"/><circle cx="398.5" cy="581.4" r="4.9" fill="#efa2a2"/><circle cx="398.5" cy="578.0" r="4.9" fill="#efa2a2"/><circle cx="399.0" cy="575.0" r="4.9" fill="#efa2a2"/><circle cx="399.5" cy="572.0" r="4.9" fill="#efa2a2"/><circle cx="400.0" cy="569.0" r="4.9" fill="#efa2a2"/><circle cx="400.5" cy="566.0" r="4.9" fill="#efa2a2"/><circle cx="403.8" cy="564.8" r="5.5" fill="#efa2a2"/><circle cx="407.0" cy="563.5" r="5.5" fill="#efa2a2"/><circle cx="410.7" cy="565.0" r="5.5" fill="#efa2a2"/><circle cx="414.3" cy="566.5" r="5.5" fill="#efa2a2"/><circle cx="418.0" cy="568.0" r="5.5" fill="#efa2a2"/><circle cx="421.0" cy="569.1" r="5.5" fill="#efa2a2"/><circle cx="424.0" cy="570.2" r="5.5" fill="#efa2a2"/><circle cx="427.0" cy="571.4" r="5.5" fill="#efa2a2"/><circle cx="430.0" cy="572.5" r="5.5" fill="#efa2a2"/><circle cx="433.5" cy="571.9" r="5.5" fill="#efa2a2"/><circle cx="437.0" cy="571.2" r="5.5" fill="#efa2a2"/><circle cx="440.5" cy="570.6" r="5.5" fill="#efa2a2"/><circle cx="444.0" cy="570.0" r="5.5" fill="#efa2a2"/><circle cx="447.0" cy="568.1" r="5.5" fill="#efa2a2"/><circle cx="450.0" cy="566.2" r="5.5" fill="#efa2a2"/><circle cx="453.0" cy="564.4" r="5.5" fill="#efa2a2"/><circle cx="456.0" cy="562.5" r="5.5" fill="#efa2a2"/><circle cx="459.2" cy="562.8" r="5.5" fill="#efa2a2"/><circle cx="462.5" cy="563.0" r="4.9" fill="#efa2a2"/><circle cx="462.9" cy="566.5" r="4.9" fill="#efa2a2"/><circle cx="463.2" cy="570.0" r="4.9" fill="#efa2a2"/><circle cx="463.6" cy="573.5" r="4.9" fill="#efa2a2"/><circle cx="464.0" cy="577.0" r="4.9" fill="#efa2a2"/><circle cx="464.0" cy="580.0" r="4.9" fill="#efa2a2"/><circle cx="464.0" cy="583.0" r="4.9" fill="#efa2a2"/><circle cx="464.0" cy="586.0" r="4.9" fill="#efa2a2"/><circle cx="464.0" cy="589.0" r="4.9" fill="#efa2a2"/><circle cx="464.0" cy="592.0" r="4.9" fill="#efa2a2"/><circle cx="463.9" cy="595.5" r="4.9" fill="#efa2a2"/><circle cx="463.8" cy="599.0" r="4.9" fill="#efa2a2"/><circle cx="463.6" cy="602.5" r="4.9" fill="#efa2a2"/><circle cx="463.5" cy="606.0" r="4.9" fill="#efa2a2"/><circle cx="462.7" cy="609.7" r="4.9" fill="#efa2a2"/><circle cx="461.8" cy="613.3" r="4.9" fill="#efa2a2"/><circle cx="461.0" cy="617.0" r="4.9" fill="#efa2a2"/><circle cx="458.0" cy="618.8" r="4.9" fill="#efa2a2"/><circle cx="455.0" cy="620.7" r="4.9" fill="#efa2a2"/><circle cx="452.0" cy="622.5" r="4.9" fill="#efa2a2"/><circle cx="448.3" cy="622.8" r="4.9" fill="#efa2a2"/><circle cx="444.7" cy="623.2" r="4.9" fill="#efa2a2"/><circle cx="441.0" cy="623.5" r="4.9" fill="#efa2a2"/><circle cx="437.5" cy="624.2" r="4.9" fill="#efa2a2"/><circle cx="434.0" cy="625.0" r="4.9" fill="#efa2a2"/><circle cx="404.5" cy="612.5" r="7.0" fill="#efa2a2"/><path d="M412.5,619 C415,622 416.5,625 416.4,628.5" fill="none" stroke="#efa2a2" stroke-width="1.7" stroke-linecap="round"/><path d="M433.4,623 C432.6,632 433.2,640 433.6,644.5" fill="none" stroke="#efa2a2" stroke-width="8" stroke-linecap="round"/><circle cx="446" cy="625.5" r="5.2" fill="#efa2a2"/><circle cx="455" cy="621.5" r="5.0" fill="#efa2a2"/><circle cx="398.7" cy="610.2" r="2.3" fill="#f4b4b2" opacity="0.7"/><circle cx="398.3" cy="603.8" r="2.3" fill="#f4b4b2" opacity="0.7"/><circle cx="397.9" cy="597.4" r="2.3" fill="#f4b4b2" opacity="0.7"/><circle cx="397.7" cy="590.8" r="2.3" fill="#f4b4b2" opacity="0.7"/><circle cx="397.7" cy="584.0" r="2.3" fill="#f4b4b2" opacity="0.7"/><circle cx="397.7" cy="577.2" r="2.3" fill="#f4b4b2" opacity="0.7"/><circle cx="398.7" cy="571.2" r="2.3" fill="#f4b4b2" opacity="0.7"/><circle cx="399.7" cy="565.2" r="2.3" fill="#f4b4b2" opacity="0.7"/><circle cx="406.2" cy="562.7" r="2.3" fill="#f4b4b2" opacity="0.7"/><circle cx="413.5" cy="565.7" r="2.3" fill="#f4b4b2" opacity="0.7"/><circle cx="420.2" cy="568.3" r="2.3" fill="#f4b4b2" opacity="0.7"/><circle cx="426.2" cy="570.6" r="2.3" fill="#f4b4b2" opacity="0.7"/><circle cx="432.7" cy="571.1" r="2.3" fill="#f4b4b2" opacity="0.7"/><circle cx="439.7" cy="569.8" r="2.3" fill="#f4b4b2" opacity="0.7"/><circle cx="446.2" cy="567.3" r="2.3" fill="#f4b4b2" opacity="0.7"/><circle cx="452.2" cy="563.6" r="2.3" fill="#f4b4b2" opacity="0.7"/><circle cx="458.4" cy="562.0" r="2.3" fill="#f4b4b2" opacity="0.7"/><circle cx="462.1" cy="565.7" r="2.3" fill="#f4b4b2" opacity="0.7"/><circle cx="462.8" cy="572.7" r="2.3" fill="#f4b4b2" opacity="0.7"/><circle cx="463.2" cy="579.2" r="2.3" fill="#f4b4b2" opacity="0.7"/><circle cx="463.2" cy="585.2" r="2.3" fill="#f4b4b2" opacity="0.7"/><circle cx="463.2" cy="591.2" r="2.3" fill="#f4b4b2" opacity="0.7"/><circle cx="462.9" cy="598.2" r="2.3" fill="#f4b4b2" opacity="0.7"/><circle cx="462.7" cy="605.2" r="2.3" fill="#f4b4b2" opacity="0.7"/><circle cx="461.0" cy="612.5" r="2.3" fill="#f4b4b2" opacity="0.7"/><circle cx="457.2" cy="618.0" r="2.3" fill="#f4b4b2" opacity="0.7"/><circle cx="451.2" cy="621.7" r="2.3" fill="#f4b4b2" opacity="0.7"/><circle cx="443.9" cy="622.4" r="2.3" fill="#f4b4b2" opacity="0.7"/><circle cx="436.7" cy="623.5" r="2.3" fill="#f4b4b2" opacity="0.7"/><path d="M401,565.5 C412,567.5 425,574 440,571 C450,568 456,561.5 461,560.5" fill="none" stroke="#f7c4c2" stroke-width="0.6"/></g>
<svg x="185.5" y="522.5" width="93.6" height="82.2" viewBox="0 0 100 100" preserveAspectRatio="none" overflow="hidden">
<rect width="100" height="100" fill="#fbfafb"/><polygon points="12,29 36,8 45,31 55,40 50,60 40,80 20,92 3,90 5,75" fill="url(#pl)" opacity="0.4"/><ellipse cx="22" cy="63" rx="6" ry="3.5" fill="#b89ad8"/><ellipse cx="33" cy="44" rx="4" ry="6" fill="#c4aade"/><ellipse cx="12" cy="78" rx="5" ry="4" fill="#cbb4e2"/><polygon points="0,0 30,0 30,29 19.4,29 18,40 12.7,49.4 4.5,75 0,85" fill="url(#pc)" /><polygon points="1,0 3,0 3,90 1,95" fill="#e2a8da" /><polygon points="36,0 66,0 64.6,14.5 60,25.6 50,26 45,31 37,31" fill="url(#pc)" /><polygon points="64,0 79,0 64,50 51,89.6 48,100 38,100 42,66 52,51.2 64.6,14.5" fill="url(#pcl)" /><polygon points="6.7,100 15,92 27.6,83.6 40,86 44,80 46,100" fill="url(#pc)" /><polygon points="78.5,0 87.5,0 76,50 61,100 48,100 51,89.6 64,50" fill="url(#pm)" />
<rect x="3.4" y="3.4" width="24.200000000000003" height="25.6" fill="#fff"/>
<ellipse cx="15.5" cy="16" rx="9.8" ry="11" fill="url(#pi)" stroke="#9a74c8" stroke-width="0.7"/>
<ellipse cx="15.5" cy="16" rx="7.644000000000001" ry="8.58" fill="#c7a8e2" opacity="0.55"/>
<ellipse cx="15.99" cy="18.75" rx="1.568" ry="1.54" fill="#f6f0fa"/>
<rect x="79" y="93.65" width="16" height="0.7" fill="#333"/>
<text x="87.0" y="92.7" font-size="3.4" fill="#111" text-anchor="middle" font-weight="bold">200 µm</text>
</svg>
<svg x="283.4" y="522.5" width="93.6" height="82.2" viewBox="0 0 100 100" preserveAspectRatio="none" overflow="hidden">
<rect width="100" height="100" fill="url(#pm)"/><polygon points="0,0 83,0 70,8 51,21 0,34" fill="url(#pcl)" /><polygon points="100,0 100,0 80,12 51,28 0,40 0,68 51,54.5 66,50.6 100,26" fill="url(#pcl)" /><polygon points="0,82.7 48.5,71 100,48 100,74 48.5,89.5 0,97.3" fill="url(#pcl)" /><path d="M0,68 L51,54.5 L66,50.6 L100,26 M0,82.7 L48.5,71 L100,48 M0,97.3 L48.5,89.5 L100,74" stroke="#f6eef7" stroke-width="1.1" fill="none"/><polygon points="80,100 100,91 100,100" fill="#fbfafb" />
<rect x="3.2" y="3.4" width="21.3" height="26.1" fill="#fff"/>
<ellipse cx="14" cy="16" rx="9.2" ry="10.5" fill="url(#pi)" stroke="#9a74c8" stroke-width="0.7"/>
<ellipse cx="14" cy="16" rx="7.175999999999999" ry="8.19" fill="#c7a8e2" opacity="0.55"/>
<ellipse cx="14.46" cy="18.625" rx="1.472" ry="1.4700000000000002" fill="#f6f0fa"/>
<rect x="78" y="92.65" width="17" height="0.7" fill="#333"/>
<text x="86.5" y="91.7" font-size="3.4" fill="#111" text-anchor="middle" font-weight="bold">200 µm</text>
</svg>
<svg x="185.5" y="607.5" width="93.6" height="81.2" viewBox="0 0 100 100" preserveAspectRatio="none" overflow="hidden">
<rect width="100" height="100" fill="url(#pp)"/><polygon points="0,0 3.5,0 3.5,100 0,100" fill="#f6f0f8" /><polygon points="1.5,33 9.7,33 9.7,100 1.5,100" fill="url(#pc)" /><polygon points="9.7,33 11.2,33 11.2,100 9.7,100" fill="#f4eef6" /><polygon points="11.2,33 21.6,33 21.6,100 11.2,100" fill="url(#pm)" /><polygon points="25.7,0 60,0 74,20 83,27 100,27 100,0" fill="url(#pm)" /><polygon points="24,100 25,60 28,35 34,18 42,8 52,2 60,3 74,20 83,27 100,27 100,52 72,50 60,46 50,37 42,38 37,50 36,100" fill="url(#pi)" /><polygon points="21.6,33 24.6,33 24,100 21.6,100" fill="#dcc6ea" /><ellipse cx="60" cy="51" rx="2.6" ry="3" fill="#6a3a5a" opacity="0.75"/><polygon points="93,60 100,55 100,100 95,100" fill="#c8a6dc" opacity="0.7"/>
<rect x="3.4" y="0" width="22.3" height="33" fill="#fff"/>
<ellipse cx="14.5" cy="16" rx="9" ry="13" fill="url(#pi)" stroke="#9a74c8" stroke-width="0.7"/>
<ellipse cx="14.5" cy="16" rx="7.0200000000000005" ry="10.14" fill="#c7a8e2" opacity="0.55"/>
<ellipse cx="14.95" cy="19.25" rx="1.44" ry="1.8200000000000003" fill="#f6f0fa"/>
<rect x="80" y="92.65" width="16" height="0.7" fill="#333"/>
<text x="88.0" y="91.7" font-size="3.4" fill="#111" text-anchor="middle" font-weight="bold">200 µm</text>
</svg>
<svg x="283.4" y="607.5" width="93.6" height="81.2" viewBox="0 0 100 100" preserveAspectRatio="none" overflow="hidden">
<rect width="100" height="100" fill="url(#pm)"/><polygon points="0,0 100,0 100,15 60,14 50,15 42,10 36,8 25,3 0,3" fill="url(#pi)" /><polygon points="0,3 3,3 3,27 0,27" fill="url(#pi)" /><polygon points="42,11 50,14 58,16 57,27 50,30 44,32 42,25" fill="#fbfafb" /><polygon points="58,14 88,13 86,27 60,30" fill="url(#pl)" /><polygon points="14,26 25,26 30,36 50,40 75,31 100,22 100,43 75,45 50,48 30,47 14,44" fill="url(#pi)" /><polygon points="0,27 14,27 14,44 0,46" fill="#fbfafb" /><polygon points="90,37 100,36 100,50 90,50" fill="url(#pl)" /><polygon points="0,46 30,48 50,50 100,50 100,73 50,72 30,66 0,64" fill="url(#pcl)" /><path d="M0,65 L30,67 L50,73 L100,74" stroke="#f6eef7" stroke-width="1.2" fill="none"/><polygon points="0,88 10,88 22,95 22,100 0,100" fill="#fbfafb" /><polygon points="50,74 81,76 72,85 56,93 50,90" fill="#fbfafb" /><polygon points="81,73 100,73 100,100 75,100 72,85" fill="url(#pi)" />
<rect x="3.4" y="1.7" width="21.200000000000003" height="24.6" fill="#fff"/>
<ellipse cx="13.5" cy="13" rx="8" ry="10" fill="url(#pi)" stroke="#9a74c8" stroke-width="0.7"/>
<ellipse cx="13.5" cy="13" rx="6.24" ry="7.800000000000001" fill="#c7a8e2" opacity="0.55"/>
<ellipse cx="13.9" cy="15.5" rx="1.28" ry="1.4000000000000001" fill="#f6f0fa"/>
<rect x="80" y="92.65" width="16" height="0.7" fill="#333"/>
<text x="88.0" y="91.7" font-size="3.4" fill="#111" text-anchor="middle" font-weight="bold">200 µm</text>
</svg>
<svg x="480.3" y="521.5" width="96.6" height="82.8" viewBox="0 0 100 100" preserveAspectRatio="none" overflow="hidden">
<rect width="100" height="100" fill="url(#pc)"/><polygon points="70,0 100,0 100,6.3 79,9" fill="#f8f4fa" /><polygon points="0,0 70,0 79,9 100,6.3 100,25.3 71.6,27 49.4,13.2 40,11 26.6,10 0,10" fill="url(#pcl)" /><polygon points="26.6,10 40,11 49.4,13.2 71.6,27 100,25.3 100,32 67.8,37.4 50.4,34 40,27 26.6,22" fill="url(#pm)" /><polygon points="60,37 100,32 100,38 88,48 85,60 82,48 70,42" fill="#fbfafb" /><ellipse cx="74.9" cy="35.5" rx="3.6" ry="4.2" fill="#2a1830" opacity="0.5"/><ellipse cx="74.9" cy="35.5" rx="2.3" ry="2.8" fill="#120818"/><ellipse cx="11" cy="57" rx="14" ry="10" fill="url(#pd)"/><polygon points="0,61 25,66 50,74.8 100,77 100,88 50,86 25,78 0,70" fill="url(#pm)" /><polygon points="0,69.6 25,77 50,83.5 100,88 100,92 50,88 25,81 0,74" fill="#fbfafb" /><polygon points="0,74 25,81 50,88 100,92 100,100 0,100" fill="url(#pcl)" /><polygon points="72,88 100,90 100,100 72,100" fill="#f4eef8" opacity="0.6"/><ellipse cx="96" cy="74" rx="2.2" ry="7" fill="#6a4cae"/>
<rect x="4" y="2.9" width="22.6" height="19.0" fill="#fff"/>
<ellipse cx="15" cy="12.5" rx="9.5" ry="8.5" fill="url(#pi)" stroke="#9a74c8" stroke-width="0.7"/>
<ellipse cx="15" cy="12.5" rx="7.41" ry="6.63" fill="#c7a8e2" opacity="0.55"/>
<ellipse cx="15.475" cy="14.625" rx="1.52" ry="1.1900000000000002" fill="#f6f0fa"/>
<rect x="76" y="92.65" width="18" height="0.7" fill="#333"/>
<text x="85.0" y="91.7" font-size="3.4" fill="#111" text-anchor="middle" font-weight="bold">200 µm</text>
</svg>
<svg x="579.2" y="521.5" width="94.2" height="82.8" viewBox="0 0 100 100" preserveAspectRatio="none" overflow="hidden">
<rect width="100" height="100" fill="url(#pm)"/><polygon points="0,2 50,0.8 100,0.8 100,16 50,22.4 0,27" fill="url(#pcl)" /><polygon points="0,36 50,32.8 100,28.6 100,45.4 50,55.1 0,57" fill="url(#pcl)" /><polygon points="0,67 50,66 100,59.3 100,84.4 50,88.6 0,89" fill="url(#pcl)" /><path d="M0,36 L50,32.8 L100,28.6 M0,67 L50,66 L100,59.3" stroke="#f6eef7" stroke-width="1" fill="none"/><polygon points="0,0 100,0 100,0.8 0,2" fill="#f8f4fa" />
<rect x="2.1" y="2.9" width="22.799999999999997" height="31.1" fill="#fff"/>
<ellipse cx="13.5" cy="18" rx="9.5" ry="13" fill="url(#pi)" stroke="#9a74c8" stroke-width="0.7"/>
<ellipse cx="13.5" cy="18" rx="7.41" ry="10.14" fill="#c7a8e2" opacity="0.55"/>
<ellipse cx="13.975" cy="21.25" rx="1.52" ry="1.8200000000000003" fill="#f6f0fa"/>
<rect x="80" y="92.65" width="15" height="0.7" fill="#333"/>
<text x="87.5" y="91.7" font-size="3.4" fill="#111" text-anchor="middle" font-weight="bold">200 µm</text>
</svg>
<svg x="480.3" y="606.6" width="96.6" height="82.7" viewBox="0 0 100 100" preserveAspectRatio="none" overflow="hidden">
<rect width="100" height="100" fill="url(#pim)"/><polygon points="28.6,0.5 82.5,0.5 82.5,28.4 76.5,31.9 61.5,26.7 46.6,23.2 33.1,30.2 28.6,18" fill="url(#pp)" /><polygon points="25.6,2.3 33.1,2.3 37.6,31.9 28.6,33.7" fill="url(#pl)" opacity="0.8"/><polygon points="18.1,19.7 48,23.2 63,27.6 76.5,31.9 79.5,38.9 73.5,49.4 63,59.9 55.5,70.3 46.6,79 36,80.8 28.6,66.8 19.6,49.4 13.6,31.9" fill="url(#pi)" /><polygon points="63,59.9 73.5,49.4 77,58 77,100 52.5,100 49.5,80.8" fill="url(#pl)" opacity="0.9"/><path d="M77.5,31 C80,40 74,52 63,61 C56,68 50,78 49,100" fill="none" stroke="#e2a6d8" stroke-width="2.2"/><polygon points="76.5,23.2 80,23.2 80,100 77,100" fill="url(#pm)" /><polygon points="80,23.2 96,23.2 96,100 80,100" fill="url(#pc)" /><polygon points="96,0 100,0 100,100 96,100" fill="url(#pp)" /><polygon points="82.5,0.5 96,0.5 96,23.2 82.5,28.4" fill="url(#pp)" /><polygon points="84,7 92,7 92,18 86,18" fill="#fbfafb" /><polygon points="25.6,46.8 49.5,45.9 48,52.9 37.6,49.6 28.6,49.6" fill="#fbfafb" /><polygon points="3.1,63.4 9.1,70.3 13.6,84.3 12.9,100 3.1,100 1.6,80.8" fill="#fbfafb" />
<rect x="3.0" y="2.3" width="22.6" height="19.2" fill="#fff"/>
<ellipse cx="14.3" cy="11.9" rx="10" ry="8.8" fill="url(#pi)" stroke="#9a74c8" stroke-width="0.7"/>
<ellipse cx="14.3" cy="11.9" rx="7.800000000000001" ry="6.864000000000001" fill="#c7a8e2" opacity="0.55"/>
<ellipse cx="14.8" cy="14.100000000000001" rx="1.6" ry="1.2320000000000002" fill="#f6f0fa"/>
<rect x="78" y="92.65" width="14" height="0.7" fill="#333"/>
<text x="85.0" y="91.7" font-size="3.4" fill="#111" text-anchor="middle" font-weight="bold">200 µm</text>
</svg>
<svg x="579.2" y="606.6" width="94.2" height="82.7" viewBox="0 0 100 100" preserveAspectRatio="none" overflow="hidden">
<rect width="100" height="100" fill="url(#pp)"/><polygon points="0,24 23,26.7 25,74 0,74" fill="url(#pim)" /><polygon points="10.7,25.9 29,31 47.3,48.3 62.6,69 62.6,93 48.9,89.7 33.6,72.4 21.4,62 13.7,48.3" fill="url(#pi)" /><polygon points="36.6,13.8 62.6,20.7 77.9,48.3 90,65.5 84,79.3 68.7,81 59.5,62 50.4,41.4 38.2,27.6" fill="url(#pl)" /><polygon points="2.3,38 6.5,39.5 20,58 33.6,74 30.5,77 17,62 4,45" fill="#fbfafb" /><polygon points="30.5,76.6 40,80 50,87 64.5,96 64.5,100 5,100 12,92 22,84" fill="#fbfafb" /><polygon points="0,74 22,74 12,92 5,100 0,100" fill="url(#pim)" /><polygon points="77.9,0 100,0 100,20.7 90,17.2 80.9,6.9" fill="url(#pi)" /><ellipse cx="31.8" cy="22" rx="2" ry="2" fill="#d0208e"/>
<rect x="3.8" y="3.4" width="24.4" height="23.3" fill="#fff"/>
<ellipse cx="16" cy="14.5" rx="10" ry="9.5" fill="url(#pi)" stroke="#9a74c8" stroke-width="0.7"/>
<ellipse cx="16" cy="14.5" rx="7.800000000000001" ry="7.41" fill="#c7a8e2" opacity="0.55"/>
<ellipse cx="16.5" cy="16.875" rx="1.6" ry="1.33" fill="#f6f0fa"/>
<rect x="75" y="92.65" width="18" height="0.7" fill="#333"/>
<text x="84.0" y="91.7" font-size="3.4" fill="#111" text-anchor="middle" font-weight="bold">200 µm</text>
</svg>
</svg>
</body></html>
